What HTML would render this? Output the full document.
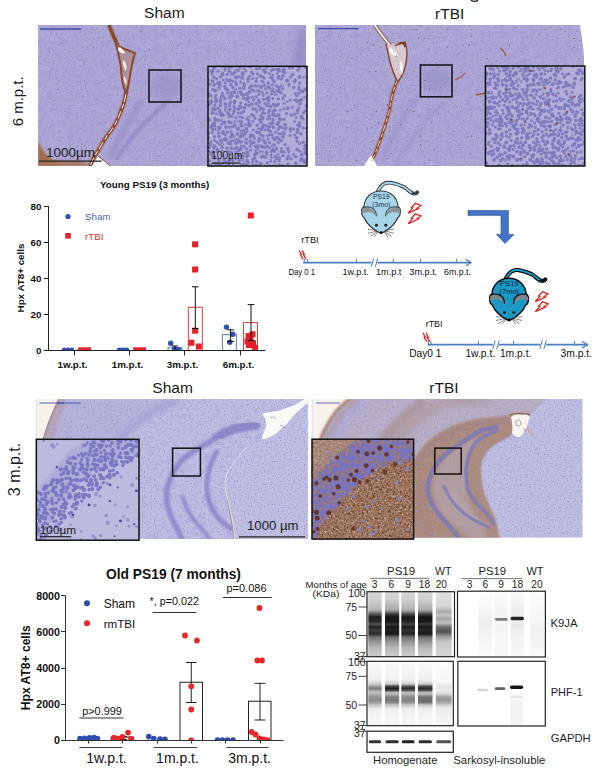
<!DOCTYPE html>
<html><head><meta charset="utf-8">
<style>
html,body{margin:0;padding:0;background:#fff;width:600px;height:775px;overflow:hidden}
svg{display:block}
text{font-family:"Liberation Sans",sans-serif}
</style></head><body>
<svg width="600" height="775" viewBox="0 0 600 775">
<rect width="600" height="775" fill="#fff"/>
<g id="histo">
<defs>
<filter id="spk" x="0" y="0" width="100%" height="100%" color-interpolation-filters="sRGB">
 <feTurbulence type="fractalNoise" baseFrequency="0.75" numOctaves="1" seed="3" result="n"/>
 <feColorMatrix in="n" type="matrix" values="0 0 0 0 0.60  0 0 0 0 0.54  0 0 0 0 0.80  4 0 0 0 -2.2"/>
 <feGaussianBlur stdDeviation="0.45"/>
</filter>
<filter id="spk2" x="0" y="0" width="100%" height="100%" color-interpolation-filters="sRGB">
 <feTurbulence type="fractalNoise" baseFrequency="0.7" numOctaves="1" seed="4" result="n"/>
 <feColorMatrix in="n" type="matrix" values="0 0 0 0 0.60  0 0 0 0 0.60  0 0 0 0 0.84  4.5 0 0 0 -2.45"/>
 <feGaussianBlur stdDeviation="0.45"/>
</filter>
<filter id="mott" x="0" y="0" width="100%" height="100%" color-interpolation-filters="sRGB">
 <feTurbulence type="fractalNoise" baseFrequency="0.15" numOctaves="2" seed="8" result="n"/>
 <feColorMatrix in="n" type="matrix" values="0 0 0 0 0.55  0 0 0 0 0.54  0 0 0 0 0.80  3 0 0 0 -1.5"/>
</filter>
<filter id="spkl" x="0" y="0" width="100%" height="100%" color-interpolation-filters="sRGB">
 <feTurbulence type="fractalNoise" baseFrequency="0.6" numOctaves="1" seed="7" result="n"/>
 <feColorMatrix in="n" type="matrix" values="0 0 0 0 0.80  0 0 0 0 0.80  0 0 0 0 0.92  8 0 0 0 -5.0"/>
</filter>
<filter id="brn" x="0" y="0" width="100%" height="100%" color-interpolation-filters="sRGB">
 <feTurbulence type="fractalNoise" baseFrequency="0.45" numOctaves="1" seed="11" result="n"/>
 <feColorMatrix in="n" type="matrix" values="0 0 0 0 0.56  0 0 0 0 0.36  0 0 0 0 0.36  14 0 0 0 -9.9"/>
</filter>
<filter id="cells" x="0" y="0" width="100%" height="100%" color-interpolation-filters="sRGB">
 <feTurbulence type="fractalNoise" baseFrequency="0.32" numOctaves="1" seed="5" result="n"/>
 <feColorMatrix in="n" type="matrix" values="0 0 0 0 0.52  0 0 0 0 0.50  0 0 0 0 0.78  9 0 0 0 -4.9"/>
</filter>
<filter id="cells2" x="0" y="0" width="100%" height="100%" color-interpolation-filters="sRGB">
 <feTurbulence type="fractalNoise" baseFrequency="0.30" numOctaves="1" seed="9" result="n"/>
 <feColorMatrix in="n" type="matrix" values="0 0 0 0 0.50  0 0 0 0 0.49  0 0 0 0 0.80  9 0 0 0 -5.0"/>
</filter>
<filter id="bcells" x="0" y="0" width="100%" height="100%" color-interpolation-filters="sRGB">
 <feTurbulence type="fractalNoise" baseFrequency="0.26" numOctaves="1" seed="13" result="n"/>
 <feColorMatrix in="n" type="matrix" values="0 0 0 0 0.42  0 0 0 0 0.42  0 0 0 0 0.78  10 0 0 0 -4.8"/>
</filter>
<filter id="bcells2" x="0" y="0" width="100%" height="100%" color-interpolation-filters="sRGB">
 <feTurbulence type="fractalNoise" baseFrequency="0.26" numOctaves="1" seed="17" result="n"/>
 <feColorMatrix in="n" type="matrix" values="0 0 0 0 0.44  0 0 0 0 0.44  0 0 0 0 0.86  10 0 0 0 -5.3"/>
</filter>
<filter id="dcells" x="0" y="0" width="100%" height="100%" color-interpolation-filters="sRGB">
 <feTurbulence type="fractalNoise" baseFrequency="0.22" numOctaves="1" seed="21" result="n"/>
 <feColorMatrix in="n" type="matrix" values="0 0 0 0 0.33  0 0 0 0 0.18  0 0 0 0 0.14  10 0 0 0 -6.0"/>
</filter>
<filter id="bmot" x="0" y="0" width="100%" height="100%" color-interpolation-filters="sRGB">
 <feTurbulence type="fractalNoise" baseFrequency="0.45" numOctaves="2" seed="31" result="n"/>
 <feColorMatrix in="n" type="matrix" values="0 0 0 0 0.42  0 0 0 0 0.25  0 0 0 0 0.17  3.2 0 0 0 -1.45"/>
 <feGaussianBlur stdDeviation="0.5"/>
</filter>
<filter id="bmotl" x="0" y="0" width="100%" height="100%" color-interpolation-filters="sRGB">
 <feTurbulence type="fractalNoise" baseFrequency="0.45" numOctaves="2" seed="37" result="n"/>
 <feColorMatrix in="n" type="matrix" values="0 0 0 0 0.82  0 0 0 0 0.74  0 0 0 0 0.74  3.5 0 0 0 -1.9"/>
 <feGaussianBlur stdDeviation="0.5"/>
</filter>
<filter id="bl1"><feGaussianBlur stdDeviation="1"/></filter>
<filter id="bl2"><feGaussianBlur stdDeviation="2"/></filter>
<filter id="bl3"><feGaussianBlur stdDeviation="3.5"/></filter>
<filter id="bl05"><feGaussianBlur stdDeviation="0.5"/></filter>
</defs>
<text x="164.3" y="18.4" font-size="15.5" text-anchor="middle" fill="#1a1a1a">Sham</text>
<text x="449.7" y="18.7" font-size="15.5" text-anchor="middle" fill="#1a1a1a">rTBI</text>
<path d="M471,0 C472,1.8 476.5,1.8 478,0" fill="none" stroke="#222" stroke-width="1.4"/>
<text transform="translate(23.2,101.3) rotate(-90)" font-size="15" text-anchor="middle" fill="#1a1a1a">6 m.p.t.</text>
<text x="172.6" y="393.4" font-size="15.5" text-anchor="middle" fill="#1a1a1a">Sham</text>
<text x="444" y="393.4" font-size="15.5" text-anchor="middle" fill="#1a1a1a">rTBI</text>
<text transform="translate(19.6,469.5) rotate(-90)" font-size="16" text-anchor="middle" fill="#1a1a1a">3 m.p.t.</text>
<clipPath id="c_ts"><rect x="38" y="25" width="268" height="141"/></clipPath>
<g clip-path="url(#c_ts)">
<rect x="38" y="25" width="268" height="141" fill="#aea8d7"/>
<rect x="38" y="25" width="268" height="141" filter="url(#mott)" opacity="0.3"/>
<path d="M299,28 C297,42 295,54 291,67 L307,67 L307,28 Z" fill="#948ec6" filter="url(#bl3)"/>
<ellipse cx="166" cy="86" rx="15" ry="13" fill="#9c98cc" filter="url(#bl3)"/>
<path d="M109,158 C118,142 128,120 142,100" fill="none" stroke="#9994cb" stroke-width="6" filter="url(#bl2)"/>
<path d="M116,160 C125,146 135,132 148,120 C156,112 162,106 170,100" fill="none" stroke="#9590c8" stroke-width="4.5" filter="url(#bl1)"/>
<path d="M188,108 C192,116 196,126 199,145" fill="none" stroke="#bab6de" stroke-width="1.5" filter="url(#bl1)"/>
<path d="M134,53 C150,40 180,36 240,38" fill="none" stroke="#bcbae0" stroke-width="1.3" opacity="0.6" filter="url(#bl1)"/>
<rect x="38" y="25" width="268" height="141" filter="url(#spk)" opacity="1"/>
<path d="M38,140 C42,152 50,160 62,166 L38,166 Z" fill="#a36a4c" filter="url(#bl1)"/>
<path d="M38,158 C55,160 70,162 80,160 L92,166 L38,166 Z" fill="#a97454" opacity="0.85" filter="url(#bl1)"/>
<path d="M109,25 C112,33 115,40 118,46 M127,86 C126,96 124,104 121,111 C117,122 112,130 108,134.4 C104,140 100,148 96.5,153 C94,157 92,161 90.3,166" fill="none" stroke="#a0684c" stroke-width="5" opacity="0.55" filter="url(#bl05)"/>
<path d="M109,25 C112,33 115,40 118,46 M127,86 C126,96 124,104 121,111 C117,122 112,130 108,134.4 C104,140 100,148 96.5,153 C94,157 92,161 90.3,166" fill="none" stroke="#8a4a2c" stroke-width="3.4" filter="url(#bl05)"/>
<path d="M127,86 C126,96 124,104 121,111 C117,122 112,130 108,134.4 C104,140 100,148 96.5,153 C94,157 92,161 90.3,166" fill="none" stroke="#ecdcd4" stroke-width="1.1" stroke-dasharray="5 3 8 2"/>
<path d="M116,44 C120,46 128,50 135,53 C133,60 131,68 130,76 C129,84 128,88 126,94 C123,86 121,76 121,68 C119,60 117,52 116,44 Z" fill="#b09098" filter="url(#bl05)"/>
<path d="M116,44 C118,52 120,60 121,68 C121,76 123,86 126,94 M118,46 C124,49 130,51 135,53 C133,60 131,68 130,76 C129,84 128,88 126,94" fill="none" stroke="#8a4a2c" stroke-width="2" filter="url(#bl05)"/>
<path d="M118,47 C121,47 124,50 125,53 C123,54 120,53 118,50 Z M123,60 C126,62 127,66 126,71 C124,69 123,65 123,60 Z M124,76 C126,78 127,81 126,85 C124,83 124,80 124,76 Z" fill="#f6f0ec"/>
<path d="M92.4,166 L97.6,156 C102,159 106,162 110,166 Z" fill="#fff"/>
<path d="M97.6,156 C102,159 106,162 110,166" fill="none" stroke="#8a4a2c" stroke-width="1"/>
<rect x="38" y="25" width="268" height="141" filter="url(#brn)" opacity="0.4"/>
</g>
<line x1="40" y1="29" x2="81" y2="29" stroke="#4050b0" stroke-width="1.3"/>
<text x="46" y="157" font-size="13.5" textLength="49" lengthAdjust="spacingAndGlyphs" fill="#1a1a1a">1000µm</text>
<line x1="39" y1="161.2" x2="101.7" y2="161.2" stroke="#222" stroke-width="1.3"/>
<clipPath id="c_tsi"><rect x="208" y="66.3" width="99" height="99.7"/></clipPath>
<g clip-path="url(#c_tsi)">
<rect x="208" y="66.3" width="99" height="99.7" fill="#b2aed9"/>
<g fill="#7c78bb" opacity="0.95"><circle cx="213.5" cy="68.2" r="1.52"/><circle cx="215.0" cy="67.5" r="1.52"/><circle cx="221.7" cy="66.8" r="1.45"/><circle cx="225.0" cy="67.8" r="1.58"/><circle cx="228.5" cy="68.0" r="1.64"/><circle cx="231.3" cy="66.9" r="1.77"/><circle cx="236.6" cy="69.7" r="1.61"/><circle cx="239.7" cy="68.0" r="1.40"/><circle cx="243.9" cy="68.4" r="1.41"/><circle cx="248.7" cy="66.5" r="1.48"/><circle cx="250.3" cy="67.2" r="1.48"/><circle cx="256.7" cy="69.1" r="1.76"/><circle cx="259.9" cy="68.3" r="1.57"/><circle cx="265.3" cy="69.0" r="1.40"/><circle cx="266.5" cy="66.6" r="1.92"/><circle cx="273.4" cy="69.5" r="1.79"/><circle cx="277.0" cy="69.4" r="1.48"/><circle cx="278.8" cy="69.4" r="1.89"/><circle cx="283.8" cy="69.7" r="1.93"/><circle cx="289.4" cy="67.7" r="1.70"/><circle cx="292.7" cy="67.8" r="1.55"/><circle cx="299.1" cy="67.2" r="1.94"/><circle cx="305.4" cy="67.6" r="1.76"/><circle cx="211.3" cy="71.6" r="1.84"/><circle cx="213.1" cy="70.9" r="1.70"/><circle cx="218.1" cy="71.2" r="1.56"/><circle cx="222.6" cy="73.2" r="1.43"/><circle cx="225.0" cy="70.2" r="1.47"/><circle cx="229.4" cy="71.3" r="1.77"/><circle cx="234.6" cy="72.4" r="1.76"/><circle cx="238.2" cy="70.4" r="1.58"/><circle cx="242.6" cy="72.6" r="1.64"/><circle cx="245.8" cy="71.0" r="1.43"/><circle cx="251.8" cy="72.6" r="1.77"/><circle cx="263.5" cy="70.2" r="1.65"/><circle cx="265.2" cy="72.2" r="1.81"/><circle cx="271.3" cy="70.2" r="1.55"/><circle cx="279.1" cy="71.2" r="1.48"/><circle cx="282.8" cy="71.5" r="1.53"/><circle cx="285.0" cy="72.8" r="1.53"/><circle cx="297.8" cy="70.1" r="1.68"/><circle cx="207.4" cy="76.8" r="1.72"/><circle cx="211.9" cy="73.9" r="1.42"/><circle cx="220.4" cy="77.0" r="1.47"/><circle cx="222.4" cy="74.5" r="1.94"/><circle cx="227.3" cy="74.3" r="1.61"/><circle cx="232.2" cy="74.0" r="1.91"/><circle cx="236.9" cy="76.8" r="1.42"/><circle cx="239.3" cy="76.7" r="1.51"/><circle cx="242.7" cy="74.0" r="1.91"/><circle cx="249.4" cy="76.2" r="1.50"/><circle cx="253.0" cy="74.2" r="1.42"/><circle cx="257.4" cy="73.9" r="1.76"/><circle cx="260.5" cy="75.9" r="1.84"/><circle cx="269.3" cy="73.6" r="1.45"/><circle cx="272.6" cy="74.8" r="1.42"/><circle cx="277.6" cy="73.6" r="1.40"/><circle cx="278.7" cy="77.0" r="1.90"/><circle cx="282.9" cy="75.9" r="1.80"/><circle cx="292.7" cy="74.5" r="1.82"/><circle cx="299.7" cy="76.5" r="1.69"/><circle cx="208.7" cy="80.3" r="1.48"/><circle cx="213.8" cy="77.1" r="1.82"/><circle cx="216.6" cy="78.8" r="1.65"/><circle cx="223.1" cy="79.9" r="1.44"/><circle cx="227.0" cy="80.0" r="1.79"/><circle cx="230.0" cy="80.3" r="1.82"/><circle cx="235.5" cy="77.1" r="1.72"/><circle cx="236.2" cy="77.8" r="1.69"/><circle cx="242.2" cy="77.9" r="1.88"/><circle cx="247.7" cy="78.9" r="1.45"/><circle cx="248.7" cy="78.9" r="1.47"/><circle cx="252.7" cy="78.7" r="1.48"/><circle cx="256.8" cy="78.4" r="1.49"/><circle cx="263.1" cy="77.2" r="1.77"/><circle cx="264.2" cy="78.1" r="1.53"/><circle cx="271.4" cy="77.5" r="1.90"/><circle cx="273.1" cy="80.0" r="1.82"/><circle cx="278.3" cy="78.2" r="1.78"/><circle cx="281.3" cy="79.0" r="1.56"/><circle cx="287.6" cy="80.4" r="1.90"/><circle cx="290.8" cy="76.9" r="1.64"/><circle cx="295.4" cy="80.0" r="1.65"/><circle cx="299.5" cy="77.6" r="1.63"/><circle cx="304.2" cy="77.5" r="1.73"/><circle cx="207.7" cy="83.7" r="1.74"/><circle cx="212.7" cy="81.1" r="1.87"/><circle cx="217.2" cy="83.2" r="1.43"/><circle cx="219.5" cy="82.9" r="1.88"/><circle cx="225.3" cy="82.9" r="1.48"/><circle cx="229.1" cy="81.0" r="1.82"/><circle cx="232.5" cy="81.2" r="1.58"/><circle cx="235.7" cy="81.9" r="1.42"/><circle cx="240.5" cy="82.1" r="1.60"/><circle cx="244.3" cy="83.8" r="1.84"/><circle cx="247.9" cy="81.4" r="1.52"/><circle cx="256.1" cy="81.4" r="1.72"/><circle cx="261.4" cy="80.9" r="1.42"/><circle cx="262.9" cy="81.8" r="1.56"/><circle cx="268.2" cy="83.0" r="1.68"/><circle cx="274.3" cy="81.7" r="1.53"/><circle cx="286.7" cy="80.4" r="1.79"/><circle cx="294.5" cy="81.6" r="1.85"/><circle cx="299.6" cy="82.9" r="1.63"/><circle cx="309.0" cy="80.6" r="1.41"/><circle cx="210.0" cy="84.2" r="1.49"/><circle cx="214.1" cy="84.8" r="1.85"/><circle cx="219.7" cy="85.5" r="1.87"/><circle cx="224.8" cy="86.5" r="1.74"/><circle cx="230.8" cy="84.8" r="1.80"/><circle cx="232.9" cy="87.3" r="1.43"/><circle cx="236.3" cy="84.4" r="1.80"/><circle cx="243.6" cy="87.0" r="1.51"/><circle cx="244.5" cy="85.2" r="1.61"/><circle cx="251.2" cy="86.0" r="1.87"/><circle cx="255.0" cy="85.7" r="1.69"/><circle cx="257.9" cy="86.2" r="1.77"/><circle cx="261.1" cy="85.9" r="1.47"/><circle cx="264.6" cy="85.4" r="1.79"/><circle cx="268.4" cy="87.1" r="1.73"/><circle cx="272.2" cy="84.9" r="1.67"/><circle cx="276.6" cy="86.1" r="1.75"/><circle cx="282.0" cy="85.8" r="1.85"/><circle cx="289.1" cy="84.9" r="1.83"/><circle cx="299.1" cy="86.9" r="1.44"/><circle cx="207.2" cy="87.5" r="1.43"/><circle cx="212.8" cy="89.6" r="1.64"/><circle cx="215.2" cy="90.2" r="1.58"/><circle cx="218.8" cy="88.5" r="1.73"/><circle cx="225.6" cy="88.4" r="1.74"/><circle cx="227.7" cy="90.0" r="1.70"/><circle cx="233.1" cy="88.0" r="1.50"/><circle cx="235.9" cy="89.3" r="1.46"/><circle cx="239.9" cy="88.3" r="1.63"/><circle cx="243.7" cy="88.0" r="1.91"/><circle cx="249.6" cy="87.9" r="1.62"/><circle cx="252.3" cy="89.8" r="1.67"/><circle cx="257.8" cy="90.7" r="1.54"/><circle cx="261.0" cy="87.4" r="1.79"/><circle cx="265.5" cy="88.8" r="1.54"/><circle cx="269.5" cy="87.9" r="1.55"/><circle cx="272.6" cy="89.2" r="1.78"/><circle cx="277.0" cy="90.7" r="1.46"/><circle cx="279.2" cy="87.8" r="1.80"/><circle cx="282.9" cy="89.1" r="1.41"/><circle cx="293.7" cy="87.5" r="1.66"/><circle cx="299.2" cy="89.4" r="1.71"/><circle cx="305.4" cy="89.5" r="1.92"/><circle cx="209.1" cy="94.3" r="1.68"/><circle cx="215.1" cy="91.1" r="1.66"/><circle cx="222.3" cy="93.3" r="1.47"/><circle cx="227.5" cy="92.9" r="1.48"/><circle cx="231.1" cy="92.8" r="1.87"/><circle cx="234.2" cy="92.3" r="1.94"/><circle cx="237.3" cy="92.6" r="1.42"/><circle cx="240.4" cy="92.1" r="1.88"/><circle cx="246.9" cy="94.2" r="1.87"/><circle cx="249.4" cy="92.1" r="1.95"/><circle cx="253.9" cy="91.0" r="1.71"/><circle cx="258.7" cy="91.3" r="1.49"/><circle cx="262.0" cy="92.2" r="1.68"/><circle cx="266.9" cy="93.0" r="1.62"/><circle cx="271.5" cy="91.2" r="1.45"/><circle cx="273.9" cy="91.9" r="1.40"/><circle cx="279.0" cy="91.0" r="1.93"/><circle cx="281.1" cy="92.9" r="1.64"/><circle cx="295.7" cy="93.8" r="1.78"/><circle cx="299.3" cy="93.0" r="1.51"/><circle cx="302.4" cy="91.2" r="1.93"/><circle cx="209.0" cy="95.7" r="1.44"/><circle cx="211.0" cy="96.0" r="1.48"/><circle cx="215.8" cy="95.5" r="1.56"/><circle cx="221.2" cy="96.5" r="1.55"/><circle cx="223.2" cy="96.0" r="1.73"/><circle cx="229.6" cy="96.1" r="1.43"/><circle cx="232.5" cy="95.8" r="1.60"/><circle cx="237.1" cy="96.5" r="1.93"/><circle cx="241.7" cy="94.3" r="1.74"/><circle cx="243.4" cy="95.0" r="1.90"/><circle cx="248.0" cy="97.7" r="1.75"/><circle cx="252.1" cy="97.1" r="1.68"/><circle cx="255.9" cy="97.1" r="1.76"/><circle cx="258.8" cy="94.7" r="1.42"/><circle cx="263.5" cy="95.5" r="1.48"/><circle cx="268.5" cy="97.4" r="1.80"/><circle cx="271.7" cy="94.3" r="1.46"/><circle cx="275.9" cy="94.3" r="1.59"/><circle cx="284.4" cy="95.8" r="1.65"/><circle cx="296.9" cy="95.5" r="1.74"/><circle cx="305.1" cy="97.2" r="1.80"/><circle cx="211.0" cy="100.8" r="1.82"/><circle cx="215.6" cy="97.9" r="1.79"/><circle cx="216.6" cy="100.6" r="1.81"/><circle cx="220.6" cy="99.7" r="1.81"/><circle cx="224.9" cy="98.5" r="1.83"/><circle cx="230.0" cy="97.7" r="1.82"/><circle cx="234.5" cy="101.2" r="1.85"/><circle cx="243.8" cy="98.1" r="1.78"/><circle cx="246.4" cy="99.1" r="1.91"/><circle cx="248.7" cy="98.0" r="1.41"/><circle cx="253.6" cy="99.7" r="1.54"/><circle cx="258.5" cy="100.0" r="1.66"/><circle cx="263.6" cy="99.3" r="1.62"/><circle cx="266.8" cy="98.7" r="1.81"/><circle cx="268.4" cy="100.5" r="1.83"/><circle cx="272.7" cy="98.5" r="1.54"/><circle cx="278.4" cy="98.9" r="1.61"/><circle cx="283.0" cy="98.8" r="1.72"/><circle cx="290.2" cy="100.1" r="1.58"/><circle cx="295.4" cy="100.2" r="1.95"/><circle cx="299.6" cy="100.2" r="1.61"/><circle cx="301.6" cy="99.7" r="1.66"/><circle cx="307.4" cy="98.1" r="1.69"/><circle cx="206.3" cy="102.4" r="1.82"/><circle cx="210.9" cy="103.0" r="1.77"/><circle cx="215.6" cy="101.8" r="1.82"/><circle cx="220.7" cy="102.1" r="1.88"/><circle cx="225.2" cy="104.1" r="1.79"/><circle cx="229.1" cy="104.4" r="1.44"/><circle cx="230.4" cy="102.2" r="1.59"/><circle cx="234.4" cy="102.8" r="1.63"/><circle cx="240.7" cy="103.0" r="1.68"/><circle cx="245.7" cy="104.5" r="1.47"/><circle cx="248.7" cy="101.7" r="1.45"/><circle cx="251.8" cy="104.2" r="1.83"/><circle cx="256.1" cy="103.7" r="1.80"/><circle cx="259.5" cy="102.1" r="1.83"/><circle cx="265.0" cy="103.6" r="1.72"/><circle cx="268.6" cy="103.6" r="1.42"/><circle cx="273.3" cy="104.3" r="1.64"/><circle cx="274.6" cy="104.5" r="1.64"/><circle cx="278.3" cy="104.2" r="1.82"/><circle cx="284.3" cy="103.6" r="1.45"/><circle cx="287.2" cy="101.6" r="1.44"/><circle cx="297.2" cy="101.4" r="1.64"/><circle cx="300.1" cy="103.7" r="1.92"/><circle cx="208.9" cy="105.0" r="1.73"/><circle cx="214.8" cy="105.3" r="1.51"/><circle cx="218.3" cy="108.1" r="1.55"/><circle cx="220.4" cy="105.5" r="1.59"/><circle cx="225.8" cy="106.5" r="1.59"/><circle cx="229.7" cy="105.8" r="1.49"/><circle cx="234.1" cy="106.5" r="1.70"/><circle cx="239.5" cy="105.8" r="1.59"/><circle cx="240.2" cy="107.2" r="1.93"/><circle cx="244.4" cy="107.7" r="1.89"/><circle cx="248.7" cy="105.5" r="1.77"/><circle cx="258.8" cy="106.0" r="1.49"/><circle cx="261.2" cy="108.1" r="1.92"/><circle cx="267.0" cy="105.9" r="1.70"/><circle cx="270.5" cy="106.7" r="1.92"/><circle cx="275.0" cy="106.1" r="1.55"/><circle cx="276.7" cy="105.6" r="1.53"/><circle cx="292.3" cy="107.4" r="1.45"/><circle cx="298.9" cy="108.0" r="1.56"/><circle cx="306.6" cy="106.0" r="1.88"/><circle cx="207.2" cy="109.4" r="1.94"/><circle cx="213.0" cy="108.9" r="1.92"/><circle cx="215.3" cy="109.3" r="1.87"/><circle cx="219.8" cy="111.1" r="1.81"/><circle cx="225.6" cy="109.8" r="1.88"/><circle cx="229.7" cy="109.5" r="1.95"/><circle cx="233.7" cy="111.3" r="1.58"/><circle cx="235.0" cy="109.0" r="1.49"/><circle cx="238.2" cy="109.2" r="1.81"/><circle cx="243.7" cy="111.6" r="1.53"/><circle cx="252.8" cy="109.0" r="1.63"/><circle cx="255.4" cy="108.9" r="1.57"/><circle cx="260.1" cy="109.4" r="1.50"/><circle cx="263.5" cy="109.1" r="1.72"/><circle cx="269.3" cy="110.5" r="1.81"/><circle cx="273.2" cy="111.4" r="1.72"/><circle cx="274.9" cy="110.3" r="1.88"/><circle cx="280.1" cy="110.1" r="1.45"/><circle cx="283.7" cy="108.7" r="1.53"/><circle cx="287.6" cy="108.1" r="1.87"/><circle cx="297.6" cy="110.4" r="1.82"/><circle cx="304.8" cy="110.8" r="1.43"/><circle cx="211.8" cy="112.8" r="1.82"/><circle cx="213.2" cy="112.9" r="1.67"/><circle cx="216.7" cy="113.7" r="1.51"/><circle cx="221.1" cy="113.7" r="1.94"/><circle cx="227.7" cy="112.9" r="1.54"/><circle cx="228.8" cy="114.3" r="1.53"/><circle cx="233.3" cy="113.8" r="1.51"/><circle cx="238.0" cy="113.1" r="1.67"/><circle cx="241.2" cy="113.0" r="1.72"/><circle cx="251.7" cy="114.7" r="1.64"/><circle cx="256.8" cy="111.8" r="1.46"/><circle cx="262.9" cy="112.6" r="1.70"/><circle cx="264.7" cy="113.4" r="1.40"/><circle cx="268.7" cy="112.9" r="1.62"/><circle cx="273.7" cy="113.9" r="1.56"/><circle cx="277.9" cy="114.9" r="1.44"/><circle cx="286.5" cy="113.4" r="1.58"/><circle cx="291.4" cy="115.1" r="1.75"/><circle cx="294.7" cy="114.1" r="1.53"/><circle cx="297.5" cy="113.3" r="1.42"/><circle cx="303.5" cy="112.8" r="1.56"/><circle cx="207.0" cy="117.7" r="1.54"/><circle cx="214.7" cy="117.9" r="1.48"/><circle cx="221.0" cy="115.3" r="1.52"/><circle cx="223.2" cy="115.1" r="1.87"/><circle cx="229.1" cy="116.6" r="1.55"/><circle cx="231.7" cy="116.4" r="1.69"/><circle cx="235.9" cy="117.6" r="1.61"/><circle cx="239.7" cy="117.0" r="1.44"/><circle cx="242.4" cy="117.7" r="1.46"/><circle cx="248.9" cy="117.4" r="1.47"/><circle cx="253.5" cy="115.8" r="1.81"/><circle cx="255.0" cy="118.5" r="1.64"/><circle cx="261.0" cy="115.6" r="1.58"/><circle cx="262.9" cy="117.6" r="1.70"/><circle cx="269.0" cy="116.4" r="1.79"/><circle cx="272.6" cy="115.0" r="1.77"/><circle cx="276.0" cy="115.5" r="1.91"/><circle cx="278.6" cy="115.0" r="1.71"/><circle cx="296.2" cy="117.6" r="1.40"/><circle cx="301.4" cy="116.7" r="1.84"/><circle cx="209.4" cy="119.8" r="1.84"/><circle cx="215.3" cy="120.0" r="1.95"/><circle cx="218.5" cy="120.2" r="1.70"/><circle cx="221.5" cy="120.3" r="1.55"/><circle cx="224.5" cy="121.9" r="1.51"/><circle cx="229.2" cy="121.9" r="1.85"/><circle cx="234.8" cy="121.4" r="1.46"/><circle cx="238.5" cy="121.2" r="1.61"/><circle cx="241.6" cy="121.7" r="1.59"/><circle cx="246.8" cy="118.7" r="1.56"/><circle cx="248.7" cy="120.6" r="1.72"/><circle cx="253.0" cy="121.5" r="1.41"/><circle cx="259.7" cy="119.4" r="1.77"/><circle cx="262.3" cy="118.9" r="1.61"/><circle cx="267.3" cy="119.1" r="1.41"/><circle cx="269.5" cy="118.7" r="1.65"/><circle cx="273.0" cy="119.8" r="1.79"/><circle cx="279.5" cy="118.9" r="1.63"/><circle cx="280.7" cy="119.6" r="1.87"/><circle cx="284.2" cy="119.2" r="1.52"/><circle cx="294.6" cy="121.6" r="1.43"/><circle cx="302.9" cy="118.9" r="1.58"/><circle cx="207.4" cy="124.6" r="1.57"/><circle cx="212.9" cy="124.6" r="1.85"/><circle cx="214.3" cy="123.4" r="1.64"/><circle cx="221.7" cy="124.1" r="1.62"/><circle cx="223.7" cy="122.9" r="1.85"/><circle cx="228.8" cy="122.0" r="1.40"/><circle cx="231.2" cy="122.7" r="1.48"/><circle cx="234.9" cy="125.3" r="1.84"/><circle cx="241.2" cy="124.8" r="1.89"/><circle cx="245.7" cy="124.8" r="1.57"/><circle cx="249.1" cy="123.5" r="1.71"/><circle cx="250.6" cy="125.1" r="1.69"/><circle cx="257.3" cy="125.3" r="1.72"/><circle cx="261.0" cy="122.1" r="1.93"/><circle cx="263.8" cy="125.3" r="1.90"/><circle cx="269.5" cy="124.5" r="1.88"/><circle cx="272.2" cy="123.1" r="1.90"/><circle cx="277.2" cy="124.1" r="1.81"/><circle cx="278.7" cy="122.4" r="1.55"/><circle cx="285.0" cy="124.6" r="1.94"/><circle cx="297.5" cy="125.2" r="1.53"/><circle cx="299.4" cy="122.8" r="1.73"/><circle cx="308.5" cy="124.4" r="1.88"/><circle cx="211.1" cy="126.8" r="1.89"/><circle cx="214.4" cy="125.6" r="1.87"/><circle cx="218.7" cy="127.1" r="1.65"/><circle cx="220.4" cy="127.8" r="1.53"/><circle cx="225.9" cy="126.9" r="1.85"/><circle cx="229.8" cy="127.3" r="1.78"/><circle cx="233.0" cy="126.6" r="1.60"/><circle cx="238.1" cy="128.5" r="1.90"/><circle cx="241.9" cy="126.5" r="1.64"/><circle cx="246.3" cy="128.7" r="1.64"/><circle cx="249.3" cy="125.7" r="1.85"/><circle cx="258.2" cy="128.5" r="1.51"/><circle cx="262.9" cy="126.9" r="1.86"/><circle cx="267.5" cy="126.2" r="1.80"/><circle cx="269.6" cy="126.9" r="1.43"/><circle cx="273.2" cy="127.3" r="1.85"/><circle cx="279.7" cy="126.9" r="1.93"/><circle cx="282.5" cy="127.7" r="1.75"/><circle cx="285.7" cy="128.1" r="1.90"/><circle cx="290.4" cy="128.8" r="1.82"/><circle cx="293.6" cy="128.9" r="1.54"/><circle cx="299.6" cy="125.9" r="1.84"/><circle cx="303.3" cy="127.9" r="1.53"/><circle cx="306.7" cy="128.7" r="1.64"/><circle cx="206.3" cy="132.3" r="1.86"/><circle cx="212.6" cy="129.6" r="1.83"/><circle cx="215.8" cy="129.0" r="1.61"/><circle cx="218.5" cy="128.9" r="1.73"/><circle cx="223.3" cy="131.7" r="1.74"/><circle cx="227.4" cy="132.3" r="1.68"/><circle cx="231.2" cy="131.6" r="1.50"/><circle cx="237.1" cy="129.2" r="1.62"/><circle cx="241.4" cy="131.3" r="1.84"/><circle cx="243.7" cy="130.9" r="1.69"/><circle cx="247.0" cy="131.5" r="1.45"/><circle cx="253.3" cy="129.9" r="1.44"/><circle cx="256.8" cy="132.2" r="1.78"/><circle cx="261.5" cy="129.2" r="1.89"/><circle cx="265.2" cy="129.7" r="1.54"/><circle cx="268.4" cy="129.9" r="1.81"/><circle cx="270.3" cy="131.0" r="1.79"/><circle cx="275.8" cy="132.0" r="1.60"/><circle cx="278.3" cy="128.9" r="1.73"/><circle cx="284.2" cy="132.0" r="1.61"/><circle cx="290.5" cy="131.3" r="1.46"/><circle cx="297.7" cy="129.7" r="1.86"/><circle cx="208.4" cy="133.1" r="1.82"/><circle cx="212.3" cy="133.0" r="1.42"/><circle cx="218.7" cy="132.9" r="1.70"/><circle cx="223.1" cy="133.0" r="1.91"/><circle cx="225.3" cy="135.0" r="1.47"/><circle cx="231.7" cy="134.6" r="1.87"/><circle cx="233.4" cy="135.9" r="1.56"/><circle cx="237.4" cy="133.9" r="1.94"/><circle cx="241.5" cy="133.2" r="1.85"/><circle cx="244.9" cy="133.9" r="1.78"/><circle cx="250.6" cy="134.9" r="1.63"/><circle cx="252.8" cy="135.7" r="1.86"/><circle cx="259.4" cy="132.4" r="1.57"/><circle cx="260.4" cy="135.0" r="1.46"/><circle cx="267.4" cy="135.5" r="1.57"/><circle cx="270.1" cy="134.6" r="1.58"/><circle cx="272.2" cy="134.9" r="1.57"/><circle cx="279.0" cy="133.7" r="1.47"/><circle cx="281.6" cy="133.8" r="1.65"/><circle cx="284.3" cy="133.6" r="1.87"/><circle cx="290.1" cy="135.4" r="1.52"/><circle cx="294.7" cy="135.1" r="1.46"/><circle cx="297.2" cy="132.4" r="1.70"/><circle cx="300.9" cy="133.8" r="1.73"/><circle cx="208.6" cy="138.0" r="1.49"/><circle cx="214.4" cy="136.7" r="1.61"/><circle cx="219.0" cy="136.6" r="1.83"/><circle cx="224.5" cy="139.1" r="1.89"/><circle cx="226.2" cy="138.7" r="1.54"/><circle cx="230.5" cy="137.2" r="1.45"/><circle cx="237.5" cy="139.0" r="1.56"/><circle cx="240.3" cy="136.8" r="1.76"/><circle cx="242.5" cy="135.9" r="1.90"/><circle cx="246.4" cy="139.1" r="1.71"/><circle cx="250.2" cy="137.1" r="1.62"/><circle cx="254.6" cy="138.1" r="1.56"/><circle cx="259.5" cy="138.9" r="1.80"/><circle cx="263.0" cy="135.9" r="1.77"/><circle cx="268.0" cy="139.1" r="1.70"/><circle cx="273.0" cy="137.8" r="1.59"/><circle cx="276.9" cy="137.4" r="1.69"/><circle cx="278.9" cy="138.9" r="1.78"/><circle cx="283.1" cy="136.8" r="1.70"/><circle cx="296.6" cy="137.8" r="1.89"/><circle cx="210.7" cy="141.8" r="1.45"/><circle cx="214.6" cy="140.6" r="1.51"/><circle cx="217.2" cy="142.2" r="1.71"/><circle cx="221.2" cy="140.8" r="1.93"/><circle cx="226.0" cy="140.0" r="1.88"/><circle cx="230.8" cy="141.4" r="1.41"/><circle cx="234.0" cy="140.4" r="1.84"/><circle cx="238.6" cy="141.7" r="1.85"/><circle cx="241.3" cy="142.1" r="1.94"/><circle cx="245.3" cy="142.1" r="1.54"/><circle cx="250.5" cy="141.2" r="1.82"/><circle cx="253.8" cy="142.6" r="1.73"/><circle cx="258.4" cy="141.5" r="1.80"/><circle cx="263.4" cy="140.2" r="1.67"/><circle cx="265.0" cy="142.6" r="1.81"/><circle cx="269.4" cy="142.5" r="1.62"/><circle cx="274.7" cy="139.7" r="1.81"/><circle cx="278.3" cy="142.5" r="1.57"/><circle cx="281.4" cy="140.6" r="1.63"/><circle cx="297.1" cy="141.5" r="1.43"/><circle cx="303.5" cy="142.3" r="1.59"/><circle cx="307.7" cy="140.5" r="1.67"/><circle cx="206.9" cy="143.6" r="1.81"/><circle cx="210.7" cy="144.1" r="1.92"/><circle cx="214.6" cy="146.0" r="1.81"/><circle cx="219.4" cy="144.5" r="1.48"/><circle cx="222.3" cy="144.3" r="1.83"/><circle cx="228.8" cy="143.3" r="1.85"/><circle cx="230.8" cy="143.7" r="1.66"/><circle cx="236.0" cy="143.5" r="1.75"/><circle cx="241.4" cy="145.8" r="1.41"/><circle cx="244.1" cy="146.2" r="1.53"/><circle cx="247.2" cy="143.4" r="1.47"/><circle cx="251.6" cy="144.1" r="1.70"/><circle cx="257.8" cy="146.2" r="1.89"/><circle cx="261.1" cy="145.9" r="1.56"/><circle cx="265.4" cy="143.3" r="1.47"/><circle cx="267.3" cy="146.2" r="1.78"/><circle cx="272.8" cy="145.3" r="1.88"/><circle cx="274.5" cy="144.9" r="1.59"/><circle cx="285.1" cy="144.6" r="1.51"/><circle cx="299.9" cy="143.2" r="1.69"/><circle cx="305.1" cy="145.7" r="1.86"/><circle cx="209.9" cy="147.3" r="1.59"/><circle cx="213.7" cy="147.9" r="1.75"/><circle cx="217.6" cy="149.4" r="1.87"/><circle cx="222.1" cy="147.5" r="1.74"/><circle cx="227.1" cy="148.2" r="1.78"/><circle cx="231.3" cy="148.1" r="1.80"/><circle cx="234.5" cy="149.0" r="1.55"/><circle cx="236.8" cy="147.5" r="1.71"/><circle cx="240.7" cy="148.9" r="1.89"/><circle cx="246.4" cy="148.8" r="1.45"/><circle cx="250.3" cy="146.3" r="1.71"/><circle cx="255.7" cy="146.4" r="1.91"/><circle cx="257.9" cy="148.8" r="1.51"/><circle cx="262.6" cy="146.7" r="1.78"/><circle cx="265.3" cy="147.4" r="1.70"/><circle cx="269.3" cy="147.7" r="1.47"/><circle cx="273.0" cy="149.5" r="1.69"/><circle cx="276.2" cy="148.9" r="1.84"/><circle cx="281.5" cy="148.6" r="1.43"/><circle cx="287.7" cy="149.1" r="1.71"/><circle cx="288.2" cy="148.3" r="1.44"/><circle cx="297.1" cy="149.5" r="1.94"/><circle cx="304.7" cy="148.9" r="1.76"/><circle cx="209.2" cy="151.4" r="1.52"/><circle cx="212.6" cy="152.2" r="1.84"/><circle cx="217.2" cy="151.5" r="1.63"/><circle cx="221.6" cy="152.4" r="1.70"/><circle cx="222.3" cy="151.0" r="1.45"/><circle cx="228.1" cy="151.5" r="1.49"/><circle cx="231.3" cy="152.7" r="1.89"/><circle cx="236.1" cy="152.4" r="1.54"/><circle cx="238.6" cy="150.4" r="1.82"/><circle cx="243.6" cy="153.1" r="1.63"/><circle cx="247.5" cy="152.2" r="1.87"/><circle cx="250.7" cy="150.0" r="1.57"/><circle cx="255.6" cy="150.6" r="1.41"/><circle cx="259.9" cy="152.1" r="1.48"/><circle cx="262.3" cy="151.8" r="1.50"/><circle cx="266.5" cy="152.3" r="1.81"/><circle cx="271.6" cy="151.1" r="1.92"/><circle cx="274.3" cy="151.5" r="1.50"/><circle cx="281.3" cy="151.5" r="1.69"/><circle cx="284.0" cy="152.3" r="1.73"/><circle cx="288.9" cy="151.8" r="1.63"/><circle cx="300.0" cy="151.3" r="1.56"/><circle cx="305.0" cy="152.8" r="1.88"/><circle cx="211.5" cy="154.1" r="1.90"/><circle cx="214.8" cy="156.6" r="1.43"/><circle cx="222.5" cy="155.2" r="1.53"/><circle cx="231.2" cy="154.4" r="1.71"/><circle cx="238.9" cy="155.2" r="1.95"/><circle cx="242.6" cy="156.6" r="1.82"/><circle cx="246.8" cy="153.8" r="1.80"/><circle cx="248.5" cy="155.4" r="1.40"/><circle cx="254.8" cy="154.5" r="1.89"/><circle cx="256.6" cy="153.4" r="1.84"/><circle cx="262.9" cy="156.4" r="1.88"/><circle cx="266.8" cy="154.2" r="1.43"/><circle cx="271.1" cy="154.7" r="1.40"/><circle cx="274.9" cy="156.2" r="1.60"/><circle cx="278.1" cy="154.5" r="1.46"/><circle cx="283.2" cy="155.6" r="1.83"/><circle cx="288.4" cy="156.2" r="1.80"/><circle cx="293.5" cy="154.6" r="1.55"/><circle cx="301.5" cy="154.8" r="1.77"/><circle cx="306.6" cy="153.5" r="1.82"/><circle cx="207.6" cy="157.6" r="1.43"/><circle cx="212.6" cy="156.6" r="1.57"/><circle cx="214.9" cy="158.2" r="1.45"/><circle cx="218.5" cy="159.9" r="1.83"/><circle cx="223.8" cy="159.6" r="1.58"/><circle cx="230.3" cy="159.4" r="1.49"/><circle cx="236.3" cy="158.2" r="1.64"/><circle cx="239.8" cy="159.6" r="1.50"/><circle cx="242.6" cy="157.5" r="1.75"/><circle cx="246.7" cy="156.7" r="1.63"/><circle cx="252.9" cy="159.4" r="1.54"/><circle cx="254.4" cy="158.4" r="1.91"/><circle cx="261.1" cy="157.0" r="1.55"/><circle cx="265.1" cy="157.0" r="1.86"/><circle cx="271.8" cy="157.4" r="1.45"/><circle cx="276.5" cy="158.2" r="1.92"/><circle cx="279.6" cy="157.8" r="1.59"/><circle cx="287.3" cy="158.8" r="1.74"/><circle cx="291.0" cy="158.7" r="1.58"/><circle cx="295.8" cy="156.8" r="1.82"/><circle cx="301.4" cy="159.1" r="1.91"/><circle cx="303.7" cy="160.0" r="1.79"/><circle cx="309.7" cy="159.6" r="1.52"/><circle cx="209.6" cy="160.5" r="1.54"/><circle cx="214.9" cy="163.3" r="1.78"/><circle cx="218.7" cy="161.4" r="1.60"/><circle cx="223.1" cy="163.3" r="1.71"/><circle cx="225.9" cy="162.2" r="1.88"/><circle cx="228.9" cy="161.9" r="1.64"/><circle cx="233.0" cy="160.4" r="1.68"/><circle cx="239.0" cy="160.3" r="1.75"/><circle cx="242.7" cy="160.5" r="1.45"/><circle cx="247.1" cy="160.6" r="1.83"/><circle cx="248.3" cy="162.6" r="1.58"/><circle cx="252.7" cy="161.8" r="1.41"/><circle cx="256.6" cy="161.5" r="1.80"/><circle cx="260.7" cy="163.5" r="1.85"/><circle cx="267.4" cy="162.8" r="1.64"/><circle cx="270.5" cy="160.8" r="1.85"/><circle cx="274.8" cy="161.6" r="1.53"/><circle cx="279.0" cy="160.5" r="1.71"/><circle cx="295.6" cy="163.4" r="1.78"/><circle cx="300.7" cy="160.5" r="1.49"/><circle cx="304.6" cy="162.3" r="1.88"/><circle cx="206.8" cy="165.6" r="1.57"/><circle cx="210.6" cy="165.1" r="1.87"/><circle cx="217.5" cy="164.3" r="1.56"/><circle cx="220.1" cy="164.8" r="1.59"/><circle cx="224.6" cy="166.0" r="1.44"/><circle cx="228.4" cy="164.2" r="1.75"/><circle cx="233.2" cy="163.7" r="1.41"/><circle cx="237.4" cy="167.0" r="1.89"/><circle cx="241.8" cy="165.1" r="1.83"/><circle cx="244.6" cy="164.3" r="1.93"/><circle cx="247.4" cy="164.9" r="1.62"/><circle cx="252.9" cy="164.8" r="1.50"/><circle cx="256.2" cy="165.2" r="1.79"/><circle cx="259.8" cy="163.9" r="1.52"/><circle cx="264.8" cy="166.2" r="1.60"/><circle cx="269.0" cy="166.0" r="1.79"/><circle cx="272.9" cy="166.1" r="1.63"/><circle cx="275.4" cy="165.8" r="1.64"/><circle cx="279.5" cy="164.6" r="1.54"/><circle cx="282.8" cy="166.0" r="1.65"/><circle cx="287.8" cy="163.8" r="1.50"/></g>
<g fill="#d8d6ee" opacity="0.6"><circle cx="205.8" cy="70.5" r="0.79"/><circle cx="237.5" cy="69.0" r="0.55"/><circle cx="249.6" cy="69.8" r="0.71"/><circle cx="265.1" cy="68.2" r="0.63"/><circle cx="308.0" cy="70.7" r="0.88"/><circle cx="255.9" cy="75.1" r="0.77"/><circle cx="263.3" cy="74.1" r="0.77"/><circle cx="265.7" cy="75.3" r="0.69"/><circle cx="272.8" cy="73.2" r="0.56"/><circle cx="279.1" cy="73.7" r="0.63"/><circle cx="289.9" cy="75.3" r="0.58"/><circle cx="294.2" cy="77.4" r="0.69"/><circle cx="304.4" cy="77.9" r="0.84"/><circle cx="208.9" cy="80.2" r="0.57"/><circle cx="224.9" cy="84.6" r="0.50"/><circle cx="245.9" cy="82.8" r="0.83"/><circle cx="259.3" cy="79.2" r="0.88"/><circle cx="284.7" cy="80.3" r="0.50"/><circle cx="218.9" cy="88.6" r="0.61"/><circle cx="235.4" cy="88.3" r="0.78"/><circle cx="244.7" cy="85.8" r="0.57"/><circle cx="258.2" cy="87.0" r="0.64"/><circle cx="270.4" cy="86.3" r="0.58"/><circle cx="272.0" cy="89.2" r="0.69"/><circle cx="282.7" cy="85.4" r="0.78"/><circle cx="291.6" cy="85.0" r="0.90"/><circle cx="305.5" cy="85.2" r="0.84"/><circle cx="207.3" cy="93.7" r="0.65"/><circle cx="217.0" cy="97.0" r="0.63"/><circle cx="236.8" cy="92.7" r="0.84"/><circle cx="245.3" cy="96.5" r="0.80"/><circle cx="252.7" cy="92.2" r="0.57"/><circle cx="288.9" cy="94.3" r="0.61"/><circle cx="296.3" cy="94.2" r="0.54"/><circle cx="305.4" cy="95.2" r="0.81"/><circle cx="208.9" cy="99.9" r="0.84"/><circle cx="221.0" cy="101.6" r="0.63"/><circle cx="233.9" cy="98.2" r="0.88"/><circle cx="238.4" cy="102.3" r="0.51"/><circle cx="255.2" cy="97.2" r="0.65"/><circle cx="274.8" cy="99.3" r="0.76"/><circle cx="284.0" cy="98.5" r="0.56"/><circle cx="287.7" cy="99.4" r="0.76"/><circle cx="294.5" cy="102.0" r="0.79"/><circle cx="305.5" cy="98.0" r="0.89"/><circle cx="207.4" cy="105.1" r="0.83"/><circle cx="238.8" cy="104.3" r="0.80"/><circle cx="268.9" cy="108.2" r="0.86"/><circle cx="280.7" cy="104.3" r="0.78"/><circle cx="301.4" cy="109.1" r="0.80"/><circle cx="304.9" cy="109.1" r="0.54"/><circle cx="210.4" cy="112.3" r="0.81"/><circle cx="217.4" cy="113.8" r="0.70"/><circle cx="226.5" cy="110.4" r="0.84"/><circle cx="276.1" cy="114.3" r="0.81"/><circle cx="297.7" cy="115.3" r="0.55"/><circle cx="207.8" cy="118.0" r="0.84"/><circle cx="213.6" cy="115.9" r="0.87"/><circle cx="221.5" cy="120.1" r="0.69"/><circle cx="230.5" cy="120.0" r="0.69"/><circle cx="238.0" cy="120.9" r="0.74"/><circle cx="248.7" cy="118.2" r="0.82"/><circle cx="268.4" cy="119.3" r="0.51"/><circle cx="286.3" cy="119.7" r="0.67"/><circle cx="304.4" cy="116.3" r="0.85"/><circle cx="223.4" cy="123.9" r="0.65"/><circle cx="241.8" cy="127.5" r="0.78"/><circle cx="252.9" cy="125.4" r="0.67"/><circle cx="258.1" cy="127.3" r="0.53"/><circle cx="268.9" cy="124.8" r="0.88"/><circle cx="284.3" cy="126.7" r="0.81"/><circle cx="217.0" cy="128.8" r="0.86"/><circle cx="235.6" cy="129.8" r="0.74"/><circle cx="241.2" cy="132.4" r="0.81"/><circle cx="250.2" cy="128.8" r="0.61"/><circle cx="254.9" cy="133.5" r="0.53"/><circle cx="265.0" cy="133.4" r="0.59"/><circle cx="271.5" cy="129.3" r="0.73"/><circle cx="281.1" cy="129.6" r="0.78"/><circle cx="285.4" cy="132.8" r="0.75"/><circle cx="292.1" cy="131.1" r="0.56"/><circle cx="306.1" cy="130.4" r="0.81"/><circle cx="210.6" cy="135.8" r="0.73"/><circle cx="237.6" cy="137.3" r="0.64"/><circle cx="283.0" cy="133.9" r="0.50"/><circle cx="287.7" cy="134.0" r="0.62"/><circle cx="300.5" cy="138.6" r="0.85"/><circle cx="208.0" cy="144.7" r="0.61"/><circle cx="217.4" cy="139.5" r="0.56"/><circle cx="222.4" cy="144.2" r="0.73"/><circle cx="233.7" cy="139.6" r="0.65"/><circle cx="242.3" cy="143.4" r="0.74"/><circle cx="247.8" cy="145.3" r="0.59"/><circle cx="257.2" cy="142.0" r="0.80"/><circle cx="273.1" cy="145.4" r="0.73"/><circle cx="292.3" cy="140.3" r="0.55"/><circle cx="299.6" cy="143.2" r="0.65"/><circle cx="211.6" cy="148.4" r="0.88"/><circle cx="218.9" cy="148.6" r="0.52"/><circle cx="233.8" cy="145.8" r="0.62"/><circle cx="251.4" cy="145.7" r="0.59"/><circle cx="299.9" cy="148.2" r="0.54"/><circle cx="208.5" cy="152.7" r="0.73"/><circle cx="215.3" cy="154.6" r="0.55"/><circle cx="222.2" cy="151.9" r="0.64"/><circle cx="244.1" cy="157.3" r="0.57"/><circle cx="247.7" cy="154.2" r="0.61"/><circle cx="261.3" cy="152.6" r="0.81"/><circle cx="272.7" cy="156.8" r="0.72"/><circle cx="283.8" cy="153.9" r="0.85"/><circle cx="291.0" cy="153.3" r="0.56"/><circle cx="217.3" cy="160.7" r="0.67"/><circle cx="242.4" cy="159.9" r="0.74"/><circle cx="249.1" cy="158.3" r="0.78"/><circle cx="259.6" cy="159.8" r="0.81"/><circle cx="269.1" cy="160.4" r="0.75"/><circle cx="272.5" cy="160.6" r="0.51"/><circle cx="282.6" cy="158.1" r="0.74"/><circle cx="303.8" cy="163.6" r="0.53"/><circle cx="210.9" cy="169.2" r="0.68"/><circle cx="217.4" cy="167.4" r="0.59"/><circle cx="224.1" cy="164.6" r="0.83"/><circle cx="227.0" cy="167.3" r="0.57"/><circle cx="236.3" cy="168.6" r="0.60"/><circle cx="244.3" cy="168.2" r="0.77"/><circle cx="257.7" cy="164.1" r="0.52"/><circle cx="273.9" cy="168.9" r="0.68"/><circle cx="279.2" cy="165.9" r="0.80"/><circle cx="293.9" cy="164.9" r="0.85"/><circle cx="307.4" cy="169.2" r="0.62"/></g>
</g>
<text x="211.2" y="158.5" font-size="10" textLength="31.2" lengthAdjust="spacingAndGlyphs" fill="#1a1a1a">100µm</text>
<line x1="211.5" y1="163.1" x2="240.7" y2="163.1" stroke="#222" stroke-width="1.2"/>
<rect x="149" y="70" width="32" height="32" fill="none" stroke="#111" stroke-width="1.5"/>
<rect x="208" y="66.3" width="99" height="99.7" fill="none" stroke="#111" stroke-width="1.5"/>
<clipPath id="c_tr"><path d="M315,25 L580,25 C582,40 584,50 584,60 L584,166 L315,166 Z"/></clipPath>
<g clip-path="url(#c_tr)">
<rect x="315" y="25" width="269" height="141" fill="#aea8d7"/>
<rect x="315" y="25" width="269" height="141" filter="url(#mott)" opacity="0.3"/>
<ellipse cx="437" cy="80" rx="15" ry="13" fill="#9c98cc" filter="url(#bl3)"/>
<path d="M382,160 C392,135 405,112 420,96" fill="none" stroke="#9c97cc" stroke-width="5" filter="url(#bl2)"/>
<path d="M395,166 C410,140 425,120 445,102" fill="none" stroke="#a09bce" stroke-width="4.5" filter="url(#bl2)"/>
<path d="M404,56 C430,44 460,38 520,40" fill="none" stroke="#bcbae0" stroke-width="1.3" opacity="0.6" filter="url(#bl1)"/>
<rect x="315" y="25" width="269" height="141" filter="url(#spk)" opacity="1"/>
<path d="M374.8,25 C380,33 387,42 395,51 M400,72 C398,78 396,84 393,92 C391,100 390,106 389,112 C385,126 380,142 374,156 C371,160 369,163 367.5,166" fill="none" stroke="#a0684c" stroke-width="4.4" opacity="0.6" filter="url(#bl05)"/>
<path d="M374.8,25 C380,33 387,42 395,51 M400,72 C398,78 396,84 393,92 C391,100 390,106 389,112 C385,126 380,142 374,156 C371,160 369,163 367.5,166" fill="none" stroke="#8a4a2c" stroke-width="2.6" filter="url(#bl05)"/>
<path d="M374.8,25 C380,33 387,42 395,51" fill="none" stroke="#f8f4f2" stroke-width="1.8"/>
<path d="M400,72 C398,78 396,84 393,92 C391,100 390,106 389,112 C385,126 380,142 374,156 C371,160 369,163 367.5,166" fill="none" stroke="#ecdcd4" stroke-width="0.9" stroke-dasharray="4 3 7 2"/>
<path d="M386,44 C392,46 398,44 405,42 C408,50 407,60 405,68 C403,74 401,78 398,82 C394,76 391,66 389,58 C388,52 387,48 386,44 Z" fill="#d6c8d0" filter="url(#bl05)"/>
<path d="M386,44 C387,48 388,52 389,58 C391,66 394,76 398,82 M395,46 C398,44 402,43 405,42 C408,50 407,60 405,68 C403,74 401,78 398,82" fill="none" stroke="#8a4a2c" stroke-width="1.5" filter="url(#bl05)"/>
<path d="M389,47 C393,49 396,52 398,56 C395,57 391,54 389,50 Z M400,60 C403,63 404,69 402,75 C400,71 399,65 400,60 Z" fill="#fbf8f6"/>
<path d="M399,44 C402,42 405,43 405,47" fill="none" stroke="#7a3a20" stroke-width="2.2"/>
<path d="M364,166 L371,155 C373,158 375,162 377,166 Z" fill="#fff"/>
<rect x="315" y="25" width="269" height="141" filter="url(#brn)" opacity="0.75"/>
<path d="M476,95 C482,94 486,93 490,92 M455,80 C460,78 463,76 465,73 M500,48 C503,50 505,53 506,56" stroke="#9c5a34" stroke-width="1.3" fill="none"/>
</g>
<line x1="318" y1="28.7" x2="358.7" y2="28.7" stroke="#4050b0" stroke-width="1.3"/>
<clipPath id="c_tri"><rect x="485.4" y="66" width="99.4" height="100"/></clipPath>
<g clip-path="url(#c_tri)">
<rect x="485.4" y="66" width="99.4" height="100" fill="#b2aed9"/>
<g fill="#7c78bb" opacity="0.95"><circle cx="483.8" cy="67.4" r="1.56"/><circle cx="490.3" cy="68.7" r="1.81"/><circle cx="493.2" cy="69.3" r="1.48"/><circle cx="497.6" cy="67.9" r="1.52"/><circle cx="502.1" cy="66.9" r="1.53"/><circle cx="504.6" cy="66.9" r="1.77"/><circle cx="507.7" cy="68.3" r="1.75"/><circle cx="513.1" cy="68.1" r="1.83"/><circle cx="518.1" cy="67.3" r="1.72"/><circle cx="521.5" cy="69.4" r="1.50"/><circle cx="525.1" cy="68.8" r="1.93"/><circle cx="527.6" cy="67.7" r="1.92"/><circle cx="533.4" cy="67.1" r="1.58"/><circle cx="538.1" cy="67.4" r="1.72"/><circle cx="542.4" cy="68.0" r="1.71"/><circle cx="545.5" cy="66.2" r="1.88"/><circle cx="551.7" cy="68.8" r="1.40"/><circle cx="556.4" cy="68.0" r="1.88"/><circle cx="560.9" cy="69.0" r="1.92"/><circle cx="573.2" cy="66.3" r="1.94"/><circle cx="578.7" cy="69.7" r="1.57"/><circle cx="486.5" cy="73.2" r="1.73"/><circle cx="493.7" cy="72.9" r="1.73"/><circle cx="499.6" cy="71.1" r="1.59"/><circle cx="503.9" cy="70.8" r="1.78"/><circle cx="505.7" cy="70.0" r="1.69"/><circle cx="510.1" cy="71.6" r="1.79"/><circle cx="515.3" cy="73.0" r="1.89"/><circle cx="520.1" cy="71.0" r="1.48"/><circle cx="524.1" cy="72.1" r="1.45"/><circle cx="526.0" cy="71.4" r="1.56"/><circle cx="529.7" cy="70.5" r="1.84"/><circle cx="533.6" cy="70.7" r="1.52"/><circle cx="539.1" cy="69.7" r="1.55"/><circle cx="544.7" cy="70.7" r="1.82"/><circle cx="548.1" cy="71.2" r="1.69"/><circle cx="550.9" cy="70.8" r="1.43"/><circle cx="555.8" cy="71.1" r="1.59"/><circle cx="557.8" cy="71.5" r="1.93"/><circle cx="576.9" cy="72.9" r="1.77"/><circle cx="580.3" cy="70.8" r="1.77"/><circle cx="582.9" cy="73.0" r="1.88"/><circle cx="486.1" cy="74.5" r="1.90"/><circle cx="490.2" cy="74.1" r="1.73"/><circle cx="494.3" cy="75.3" r="1.76"/><circle cx="498.1" cy="74.5" r="1.77"/><circle cx="506.2" cy="73.6" r="1.61"/><circle cx="509.8" cy="75.2" r="1.87"/><circle cx="513.5" cy="75.3" r="1.86"/><circle cx="516.2" cy="73.4" r="1.86"/><circle cx="522.8" cy="75.1" r="1.75"/><circle cx="526.7" cy="75.8" r="1.43"/><circle cx="529.3" cy="74.0" r="1.81"/><circle cx="534.4" cy="75.2" r="1.79"/><circle cx="536.2" cy="74.6" r="1.94"/><circle cx="541.1" cy="74.1" r="1.93"/><circle cx="544.9" cy="74.2" r="1.42"/><circle cx="554.5" cy="74.5" r="1.86"/><circle cx="556.0" cy="75.6" r="1.68"/><circle cx="562.7" cy="74.0" r="1.53"/><circle cx="567.2" cy="74.3" r="1.44"/><circle cx="569.0" cy="74.0" r="1.42"/><circle cx="578.4" cy="73.9" r="1.53"/><circle cx="485.7" cy="78.1" r="1.60"/><circle cx="490.1" cy="79.1" r="1.82"/><circle cx="493.9" cy="77.5" r="1.66"/><circle cx="498.0" cy="78.9" r="1.86"/><circle cx="505.1" cy="79.4" r="1.75"/><circle cx="507.3" cy="76.7" r="1.55"/><circle cx="510.4" cy="78.9" r="1.91"/><circle cx="518.2" cy="78.9" r="1.58"/><circle cx="524.4" cy="78.3" r="1.85"/><circle cx="527.4" cy="79.4" r="1.63"/><circle cx="533.2" cy="79.3" r="1.71"/><circle cx="536.4" cy="77.0" r="1.85"/><circle cx="540.8" cy="79.0" r="1.90"/><circle cx="544.9" cy="79.9" r="1.42"/><circle cx="546.9" cy="79.7" r="1.48"/><circle cx="550.5" cy="78.0" r="1.79"/><circle cx="555.4" cy="80.0" r="1.64"/><circle cx="564.3" cy="77.2" r="1.49"/><circle cx="575.1" cy="78.7" r="1.92"/><circle cx="581.2" cy="80.0" r="1.44"/><circle cx="582.0" cy="78.6" r="1.69"/><circle cx="486.5" cy="83.5" r="1.82"/><circle cx="489.8" cy="82.0" r="1.56"/><circle cx="495.1" cy="82.8" r="1.43"/><circle cx="498.5" cy="81.2" r="1.63"/><circle cx="502.3" cy="80.8" r="1.44"/><circle cx="506.3" cy="80.9" r="1.55"/><circle cx="509.4" cy="80.1" r="1.43"/><circle cx="512.3" cy="81.6" r="1.65"/><circle cx="516.0" cy="81.3" r="1.65"/><circle cx="521.0" cy="81.6" r="1.47"/><circle cx="526.9" cy="80.8" r="1.80"/><circle cx="533.7" cy="80.9" r="1.79"/><circle cx="538.2" cy="83.4" r="1.95"/><circle cx="542.7" cy="81.8" r="1.51"/><circle cx="545.9" cy="81.9" r="1.50"/><circle cx="549.6" cy="82.0" r="1.41"/><circle cx="554.0" cy="83.3" r="1.47"/><circle cx="559.0" cy="81.3" r="1.54"/><circle cx="560.7" cy="82.4" r="1.76"/><circle cx="565.9" cy="82.6" r="1.85"/><circle cx="586.4" cy="80.8" r="1.69"/><circle cx="488.6" cy="84.7" r="1.51"/><circle cx="489.8" cy="84.4" r="1.78"/><circle cx="496.1" cy="85.1" r="1.79"/><circle cx="497.7" cy="85.0" r="1.53"/><circle cx="502.5" cy="84.6" r="1.95"/><circle cx="506.5" cy="85.5" r="1.66"/><circle cx="511.3" cy="84.8" r="1.86"/><circle cx="514.1" cy="83.6" r="1.76"/><circle cx="518.0" cy="85.4" r="1.48"/><circle cx="527.6" cy="85.8" r="1.94"/><circle cx="530.8" cy="84.7" r="1.71"/><circle cx="533.8" cy="84.6" r="1.84"/><circle cx="539.1" cy="84.2" r="1.88"/><circle cx="543.9" cy="84.7" r="1.71"/><circle cx="547.2" cy="83.6" r="1.45"/><circle cx="552.2" cy="84.7" r="1.60"/><circle cx="553.7" cy="84.0" r="1.48"/><circle cx="557.9" cy="83.6" r="1.79"/><circle cx="566.2" cy="85.4" r="1.93"/><circle cx="569.6" cy="85.2" r="1.84"/><circle cx="574.3" cy="83.7" r="1.94"/><circle cx="485.6" cy="87.1" r="1.51"/><circle cx="494.5" cy="88.1" r="1.52"/><circle cx="496.0" cy="88.5" r="1.53"/><circle cx="506.1" cy="89.2" r="1.83"/><circle cx="509.5" cy="89.3" r="1.61"/><circle cx="513.7" cy="88.1" r="1.80"/><circle cx="516.6" cy="89.3" r="1.55"/><circle cx="522.5" cy="89.5" r="1.72"/><circle cx="527.2" cy="89.7" r="1.91"/><circle cx="534.1" cy="90.2" r="1.83"/><circle cx="535.9" cy="90.2" r="1.78"/><circle cx="539.8" cy="89.8" r="1.45"/><circle cx="543.8" cy="88.6" r="1.62"/><circle cx="550.8" cy="89.8" r="1.78"/><circle cx="558.3" cy="87.3" r="1.54"/><circle cx="563.1" cy="87.2" r="1.46"/><circle cx="573.1" cy="87.3" r="1.68"/><circle cx="585.4" cy="88.8" r="1.44"/><circle cx="488.5" cy="92.7" r="1.86"/><circle cx="492.0" cy="92.8" r="1.61"/><circle cx="499.5" cy="91.7" r="1.78"/><circle cx="503.6" cy="93.5" r="1.57"/><circle cx="506.4" cy="92.2" r="1.70"/><circle cx="510.1" cy="93.1" r="1.64"/><circle cx="515.3" cy="93.9" r="1.74"/><circle cx="519.2" cy="93.7" r="1.69"/><circle cx="524.2" cy="93.2" r="1.86"/><circle cx="526.3" cy="92.5" r="1.48"/><circle cx="532.8" cy="90.7" r="1.76"/><circle cx="536.5" cy="91.4" r="1.66"/><circle cx="542.8" cy="94.0" r="1.65"/><circle cx="547.3" cy="93.2" r="1.80"/><circle cx="550.9" cy="91.7" r="1.40"/><circle cx="557.9" cy="93.2" r="1.53"/><circle cx="565.9" cy="91.4" r="1.65"/><circle cx="572.0" cy="92.4" r="1.52"/><circle cx="485.0" cy="94.3" r="1.47"/><circle cx="489.7" cy="97.4" r="1.41"/><circle cx="493.0" cy="96.6" r="1.67"/><circle cx="499.0" cy="94.7" r="1.76"/><circle cx="500.3" cy="96.6" r="1.54"/><circle cx="505.8" cy="96.5" r="1.76"/><circle cx="510.2" cy="96.0" r="1.70"/><circle cx="512.2" cy="95.5" r="1.76"/><circle cx="518.8" cy="95.9" r="1.95"/><circle cx="521.2" cy="96.5" r="1.54"/><circle cx="526.4" cy="96.1" r="1.85"/><circle cx="530.2" cy="95.0" r="1.56"/><circle cx="531.8" cy="95.4" r="1.52"/><circle cx="536.2" cy="94.7" r="1.40"/><circle cx="540.4" cy="96.9" r="1.82"/><circle cx="546.8" cy="95.7" r="1.73"/><circle cx="548.4" cy="94.2" r="1.83"/><circle cx="553.2" cy="94.3" r="1.90"/><circle cx="556.0" cy="95.8" r="1.65"/><circle cx="566.8" cy="94.3" r="1.46"/><circle cx="570.6" cy="96.8" r="1.73"/><circle cx="572.1" cy="97.4" r="1.69"/><circle cx="579.1" cy="97.4" r="1.53"/><circle cx="580.7" cy="95.5" r="1.78"/><circle cx="585.1" cy="96.1" r="1.54"/><circle cx="486.4" cy="98.3" r="1.73"/><circle cx="492.7" cy="98.4" r="1.55"/><circle cx="496.1" cy="97.6" r="1.64"/><circle cx="503.1" cy="99.7" r="1.78"/><circle cx="507.4" cy="98.6" r="1.81"/><circle cx="512.7" cy="99.7" r="1.46"/><circle cx="516.2" cy="98.9" r="1.83"/><circle cx="518.2" cy="97.4" r="1.54"/><circle cx="523.2" cy="99.2" r="1.74"/><circle cx="527.4" cy="99.5" r="1.43"/><circle cx="534.3" cy="98.0" r="1.84"/><circle cx="543.6" cy="98.5" r="1.71"/><circle cx="547.4" cy="100.6" r="1.67"/><circle cx="549.7" cy="99.7" r="1.53"/><circle cx="559.8" cy="98.7" r="1.75"/><circle cx="563.4" cy="99.4" r="1.47"/><circle cx="572.2" cy="98.9" r="1.52"/><circle cx="579.1" cy="100.4" r="1.45"/><circle cx="581.9" cy="98.9" r="1.49"/><circle cx="489.4" cy="101.6" r="1.94"/><circle cx="494.3" cy="102.5" r="1.94"/><circle cx="497.0" cy="103.2" r="1.56"/><circle cx="499.7" cy="101.6" r="1.61"/><circle cx="505.5" cy="101.3" r="1.59"/><circle cx="509.8" cy="102.2" r="1.42"/><circle cx="517.1" cy="102.3" r="1.52"/><circle cx="520.5" cy="103.0" r="1.50"/><circle cx="524.0" cy="103.2" r="1.54"/><circle cx="529.3" cy="102.9" r="1.90"/><circle cx="533.0" cy="103.3" r="1.58"/><circle cx="537.4" cy="101.3" r="1.58"/><circle cx="541.0" cy="103.5" r="1.71"/><circle cx="545.0" cy="102.5" r="1.47"/><circle cx="548.0" cy="102.9" r="1.90"/><circle cx="553.2" cy="101.5" r="1.45"/><circle cx="556.6" cy="100.9" r="1.60"/><circle cx="560.8" cy="101.1" r="1.41"/><circle cx="565.1" cy="104.4" r="1.58"/><circle cx="568.9" cy="101.0" r="1.92"/><circle cx="572.3" cy="103.0" r="1.74"/><circle cx="577.3" cy="103.9" r="1.51"/><circle cx="580.1" cy="101.9" r="1.91"/><circle cx="584.2" cy="100.9" r="1.46"/><circle cx="487.7" cy="107.5" r="1.77"/><circle cx="490.4" cy="106.8" r="1.78"/><circle cx="494.4" cy="106.9" r="1.48"/><circle cx="499.1" cy="105.7" r="1.48"/><circle cx="504.1" cy="105.3" r="1.48"/><circle cx="508.1" cy="107.0" r="1.49"/><circle cx="512.2" cy="106.9" r="1.80"/><circle cx="518.2" cy="105.9" r="1.79"/><circle cx="522.5" cy="105.8" r="1.49"/><circle cx="527.1" cy="104.6" r="1.72"/><circle cx="530.7" cy="106.7" r="1.65"/><circle cx="536.3" cy="104.5" r="1.58"/><circle cx="540.1" cy="105.7" r="1.51"/><circle cx="545.9" cy="104.4" r="1.63"/><circle cx="549.6" cy="106.1" r="1.70"/><circle cx="555.8" cy="106.4" r="1.79"/><circle cx="560.0" cy="107.6" r="1.84"/><circle cx="565.2" cy="105.4" r="1.85"/><circle cx="568.4" cy="105.9" r="1.84"/><circle cx="572.4" cy="104.9" r="1.44"/><circle cx="575.3" cy="105.3" r="1.86"/><circle cx="578.7" cy="105.1" r="1.70"/><circle cx="487.1" cy="108.4" r="1.83"/><circle cx="489.1" cy="109.3" r="1.58"/><circle cx="492.3" cy="108.5" r="1.81"/><circle cx="495.8" cy="111.0" r="1.77"/><circle cx="502.2" cy="110.3" r="1.63"/><circle cx="507.2" cy="107.8" r="1.88"/><circle cx="508.7" cy="109.4" r="1.80"/><circle cx="515.1" cy="108.2" r="1.72"/><circle cx="517.5" cy="108.8" r="1.82"/><circle cx="522.6" cy="109.3" r="1.48"/><circle cx="526.5" cy="111.0" r="1.67"/><circle cx="528.6" cy="108.2" r="1.66"/><circle cx="532.9" cy="109.3" r="1.44"/><circle cx="538.6" cy="108.6" r="1.87"/><circle cx="541.4" cy="110.2" r="1.70"/><circle cx="544.6" cy="110.7" r="1.93"/><circle cx="548.5" cy="110.9" r="1.57"/><circle cx="551.7" cy="109.6" r="1.76"/><circle cx="558.6" cy="108.5" r="1.52"/><circle cx="560.9" cy="108.4" r="1.43"/><circle cx="564.4" cy="108.5" r="1.69"/><circle cx="570.6" cy="109.2" r="1.75"/><circle cx="581.6" cy="109.7" r="1.45"/><circle cx="585.4" cy="111.3" r="1.50"/><circle cx="487.8" cy="112.5" r="1.89"/><circle cx="490.4" cy="113.4" r="1.52"/><circle cx="495.5" cy="111.7" r="1.64"/><circle cx="497.6" cy="113.2" r="1.43"/><circle cx="503.4" cy="113.6" r="1.61"/><circle cx="508.6" cy="111.5" r="1.72"/><circle cx="510.5" cy="113.9" r="1.56"/><circle cx="517.2" cy="111.3" r="1.41"/><circle cx="519.1" cy="111.4" r="1.69"/><circle cx="521.9" cy="113.8" r="1.54"/><circle cx="526.6" cy="112.5" r="1.86"/><circle cx="531.0" cy="113.7" r="1.85"/><circle cx="534.5" cy="114.0" r="1.67"/><circle cx="540.7" cy="112.5" r="1.48"/><circle cx="543.3" cy="111.4" r="1.86"/><circle cx="548.8" cy="111.9" r="1.66"/><circle cx="552.0" cy="114.5" r="1.91"/><circle cx="558.8" cy="113.3" r="1.55"/><circle cx="564.3" cy="114.3" r="1.65"/><circle cx="566.0" cy="113.3" r="1.65"/><circle cx="572.6" cy="111.6" r="1.91"/><circle cx="576.7" cy="112.0" r="1.65"/><circle cx="577.9" cy="112.2" r="1.52"/><circle cx="582.9" cy="113.7" r="1.91"/><circle cx="486.8" cy="115.1" r="1.43"/><circle cx="489.7" cy="118.1" r="1.67"/><circle cx="492.6" cy="116.3" r="1.53"/><circle cx="495.8" cy="115.2" r="1.47"/><circle cx="500.4" cy="116.7" r="1.85"/><circle cx="505.9" cy="117.2" r="1.72"/><circle cx="507.8" cy="115.2" r="1.84"/><circle cx="512.3" cy="115.9" r="1.78"/><circle cx="518.0" cy="115.7" r="1.48"/><circle cx="519.8" cy="114.9" r="1.60"/><circle cx="528.4" cy="115.8" r="1.46"/><circle cx="535.1" cy="115.9" r="1.48"/><circle cx="537.7" cy="118.2" r="1.65"/><circle cx="540.1" cy="114.7" r="1.69"/><circle cx="545.9" cy="117.5" r="1.86"/><circle cx="549.7" cy="118.2" r="1.49"/><circle cx="553.2" cy="115.9" r="1.76"/><circle cx="556.5" cy="118.1" r="1.66"/><circle cx="560.7" cy="116.7" r="1.73"/><circle cx="566.5" cy="118.1" r="1.94"/><circle cx="568.2" cy="118.0" r="1.73"/><circle cx="574.9" cy="115.0" r="1.80"/><circle cx="575.6" cy="116.5" r="1.49"/><circle cx="581.0" cy="118.1" r="1.61"/><circle cx="584.4" cy="115.0" r="1.43"/><circle cx="487.6" cy="118.8" r="1.48"/><circle cx="491.2" cy="120.5" r="1.74"/><circle cx="496.3" cy="120.0" r="1.85"/><circle cx="499.7" cy="119.4" r="1.82"/><circle cx="501.7" cy="120.0" r="1.86"/><circle cx="507.5" cy="118.7" r="1.82"/><circle cx="511.0" cy="118.9" r="1.74"/><circle cx="516.2" cy="120.9" r="1.89"/><circle cx="519.1" cy="118.4" r="1.66"/><circle cx="523.1" cy="119.0" r="1.82"/><circle cx="527.1" cy="118.5" r="1.56"/><circle cx="531.6" cy="120.7" r="1.49"/><circle cx="537.1" cy="119.9" r="1.76"/><circle cx="538.8" cy="119.3" r="1.48"/><circle cx="543.3" cy="121.7" r="1.74"/><circle cx="545.6" cy="121.6" r="1.50"/><circle cx="551.8" cy="121.5" r="1.68"/><circle cx="556.9" cy="119.6" r="1.94"/><circle cx="560.0" cy="119.7" r="1.53"/><circle cx="561.9" cy="119.5" r="1.95"/><circle cx="568.9" cy="121.4" r="1.77"/><circle cx="570.1" cy="119.4" r="1.75"/><circle cx="575.8" cy="120.4" r="1.72"/><circle cx="579.7" cy="120.1" r="1.82"/><circle cx="581.8" cy="120.6" r="1.80"/><circle cx="486.1" cy="122.4" r="1.54"/><circle cx="487.9" cy="123.1" r="1.89"/><circle cx="493.1" cy="121.7" r="1.67"/><circle cx="498.8" cy="122.1" r="1.66"/><circle cx="501.6" cy="122.2" r="1.75"/><circle cx="505.1" cy="123.6" r="1.53"/><circle cx="509.6" cy="122.5" r="1.94"/><circle cx="512.2" cy="122.0" r="1.46"/><circle cx="515.8" cy="124.5" r="1.80"/><circle cx="521.0" cy="125.1" r="1.59"/><circle cx="525.2" cy="121.8" r="1.83"/><circle cx="529.6" cy="124.7" r="1.76"/><circle cx="534.7" cy="122.9" r="1.75"/><circle cx="539.1" cy="121.9" r="1.59"/><circle cx="541.3" cy="122.8" r="1.42"/><circle cx="544.4" cy="122.3" r="1.82"/><circle cx="548.5" cy="121.9" r="1.45"/><circle cx="555.1" cy="124.6" r="1.59"/><circle cx="560.1" cy="122.5" r="1.82"/><circle cx="567.1" cy="122.4" r="1.70"/><circle cx="569.0" cy="121.9" r="1.85"/><circle cx="574.5" cy="124.9" r="1.65"/><circle cx="578.7" cy="124.4" r="1.84"/><circle cx="581.4" cy="122.7" r="1.91"/><circle cx="586.7" cy="125.0" r="1.60"/><circle cx="487.3" cy="126.4" r="1.68"/><circle cx="492.3" cy="125.1" r="1.50"/><circle cx="495.3" cy="127.0" r="1.54"/><circle cx="499.6" cy="125.3" r="1.73"/><circle cx="502.3" cy="125.8" r="1.53"/><circle cx="506.6" cy="126.0" r="1.58"/><circle cx="512.5" cy="125.8" r="1.94"/><circle cx="514.0" cy="126.9" r="1.55"/><circle cx="522.6" cy="128.4" r="1.75"/><circle cx="528.7" cy="127.6" r="1.60"/><circle cx="531.7" cy="126.2" r="1.50"/><circle cx="535.3" cy="127.4" r="1.47"/><circle cx="541.2" cy="125.5" r="1.46"/><circle cx="544.4" cy="126.2" r="1.87"/><circle cx="549.1" cy="126.1" r="1.81"/><circle cx="550.1" cy="126.5" r="1.91"/><circle cx="561.0" cy="127.8" r="1.45"/><circle cx="563.1" cy="125.2" r="1.60"/><circle cx="567.8" cy="127.4" r="1.74"/><circle cx="571.9" cy="128.6" r="1.80"/><circle cx="575.2" cy="127.9" r="1.63"/><circle cx="580.2" cy="128.2" r="1.50"/><circle cx="582.6" cy="125.2" r="1.72"/><circle cx="484.6" cy="130.0" r="1.60"/><circle cx="489.5" cy="129.7" r="1.81"/><circle cx="498.4" cy="129.2" r="1.48"/><circle cx="499.8" cy="129.1" r="1.92"/><circle cx="509.7" cy="129.8" r="1.79"/><circle cx="515.1" cy="128.9" r="1.67"/><circle cx="517.5" cy="129.6" r="1.85"/><circle cx="523.0" cy="128.9" r="1.46"/><circle cx="524.1" cy="130.6" r="1.76"/><circle cx="534.7" cy="131.3" r="1.81"/><circle cx="538.1" cy="129.8" r="1.80"/><circle cx="542.0" cy="131.6" r="1.67"/><circle cx="546.1" cy="129.7" r="1.66"/><circle cx="550.2" cy="130.2" r="1.44"/><circle cx="553.4" cy="131.3" r="1.67"/><circle cx="555.9" cy="129.8" r="1.45"/><circle cx="560.3" cy="130.5" r="1.90"/><circle cx="565.3" cy="132.0" r="1.53"/><circle cx="572.5" cy="129.7" r="1.63"/><circle cx="576.2" cy="131.7" r="1.85"/><circle cx="583.0" cy="131.0" r="1.81"/><circle cx="584.0" cy="129.6" r="1.67"/><circle cx="486.0" cy="133.3" r="1.63"/><circle cx="489.9" cy="133.5" r="1.94"/><circle cx="495.9" cy="135.2" r="1.83"/><circle cx="501.2" cy="135.1" r="1.58"/><circle cx="502.1" cy="133.5" r="1.53"/><circle cx="506.3" cy="132.0" r="1.83"/><circle cx="510.7" cy="133.8" r="1.65"/><circle cx="516.4" cy="133.6" r="1.87"/><circle cx="517.6" cy="132.7" r="1.92"/><circle cx="522.7" cy="132.5" r="1.92"/><circle cx="527.2" cy="134.2" r="1.94"/><circle cx="530.3" cy="132.7" r="1.67"/><circle cx="533.8" cy="134.8" r="1.53"/><circle cx="538.0" cy="134.3" r="1.66"/><circle cx="543.6" cy="135.4" r="1.66"/><circle cx="546.3" cy="134.0" r="1.44"/><circle cx="551.4" cy="134.7" r="1.84"/><circle cx="554.0" cy="134.3" r="1.78"/><circle cx="558.3" cy="133.8" r="1.82"/><circle cx="562.4" cy="134.0" r="1.70"/><circle cx="566.8" cy="132.1" r="1.66"/><circle cx="572.8" cy="135.1" r="1.42"/><circle cx="576.0" cy="133.9" r="1.55"/><circle cx="579.7" cy="133.0" r="1.93"/><circle cx="581.8" cy="134.9" r="1.70"/><circle cx="484.5" cy="135.8" r="1.80"/><circle cx="497.0" cy="136.5" r="1.94"/><circle cx="502.7" cy="136.6" r="1.42"/><circle cx="506.4" cy="136.1" r="1.70"/><circle cx="509.3" cy="137.1" r="1.80"/><circle cx="517.0" cy="138.9" r="1.90"/><circle cx="521.8" cy="137.9" r="1.79"/><circle cx="526.7" cy="136.2" r="1.79"/><circle cx="528.4" cy="138.1" r="1.80"/><circle cx="532.3" cy="136.6" r="1.63"/><circle cx="536.9" cy="138.6" r="1.58"/><circle cx="542.0" cy="137.6" r="1.61"/><circle cx="548.3" cy="135.8" r="1.84"/><circle cx="554.4" cy="138.3" r="1.46"/><circle cx="558.1" cy="135.6" r="1.80"/><circle cx="561.7" cy="137.5" r="1.69"/><circle cx="566.2" cy="136.2" r="1.74"/><circle cx="570.7" cy="138.3" r="1.68"/><circle cx="573.3" cy="138.5" r="1.54"/><circle cx="578.4" cy="137.4" r="1.42"/><circle cx="579.8" cy="138.9" r="1.71"/><circle cx="585.1" cy="137.8" r="1.83"/><circle cx="489.0" cy="142.5" r="1.75"/><circle cx="493.1" cy="139.1" r="1.77"/><circle cx="495.6" cy="139.7" r="1.62"/><circle cx="500.7" cy="139.2" r="1.70"/><circle cx="506.1" cy="142.5" r="1.88"/><circle cx="511.1" cy="140.6" r="1.52"/><circle cx="515.3" cy="142.3" r="1.77"/><circle cx="521.1" cy="142.5" r="1.47"/><circle cx="525.1" cy="142.4" r="1.58"/><circle cx="526.9" cy="139.0" r="1.62"/><circle cx="536.8" cy="141.6" r="1.49"/><circle cx="538.8" cy="141.9" r="1.66"/><circle cx="543.2" cy="140.9" r="1.84"/><circle cx="547.3" cy="141.3" r="1.65"/><circle cx="553.1" cy="140.9" r="1.74"/><circle cx="554.5" cy="139.3" r="1.66"/><circle cx="558.9" cy="141.2" r="1.94"/><circle cx="564.4" cy="141.2" r="1.59"/><circle cx="568.0" cy="139.0" r="1.86"/><circle cx="576.6" cy="140.3" r="1.93"/><circle cx="580.2" cy="139.5" r="1.77"/><circle cx="584.4" cy="141.3" r="1.75"/><circle cx="488.4" cy="144.3" r="1.50"/><circle cx="494.7" cy="142.7" r="1.41"/><circle cx="498.2" cy="143.0" r="1.85"/><circle cx="500.3" cy="144.9" r="1.62"/><circle cx="504.2" cy="145.8" r="1.57"/><circle cx="510.5" cy="146.0" r="1.83"/><circle cx="513.8" cy="145.7" r="1.65"/><circle cx="518.1" cy="143.0" r="1.70"/><circle cx="522.9" cy="145.2" r="1.86"/><circle cx="525.6" cy="142.7" r="1.46"/><circle cx="529.4" cy="145.8" r="1.83"/><circle cx="533.7" cy="142.6" r="1.50"/><circle cx="536.0" cy="145.0" r="1.88"/><circle cx="539.8" cy="145.9" r="1.68"/><circle cx="545.3" cy="144.4" r="1.82"/><circle cx="547.9" cy="142.5" r="1.41"/><circle cx="552.7" cy="144.3" r="1.77"/><circle cx="557.8" cy="143.1" r="1.55"/><circle cx="560.8" cy="144.9" r="1.79"/><circle cx="564.1" cy="143.6" r="1.66"/><circle cx="574.4" cy="143.9" r="1.86"/><circle cx="578.7" cy="145.7" r="1.91"/><circle cx="581.8" cy="144.9" r="1.65"/><circle cx="584.7" cy="142.7" r="1.83"/><circle cx="485.6" cy="149.0" r="1.47"/><circle cx="491.4" cy="146.2" r="1.55"/><circle cx="496.3" cy="148.2" r="1.76"/><circle cx="498.8" cy="148.8" r="1.46"/><circle cx="504.2" cy="147.3" r="1.68"/><circle cx="507.7" cy="148.8" r="1.43"/><circle cx="509.7" cy="148.2" r="1.44"/><circle cx="514.4" cy="148.5" r="1.49"/><circle cx="519.1" cy="147.1" r="1.88"/><circle cx="522.3" cy="148.5" r="1.79"/><circle cx="529.1" cy="147.0" r="1.42"/><circle cx="530.2" cy="147.7" r="1.82"/><circle cx="534.1" cy="147.2" r="1.46"/><circle cx="539.0" cy="148.7" r="1.66"/><circle cx="542.5" cy="149.1" r="1.61"/><circle cx="546.6" cy="149.0" r="1.82"/><circle cx="553.2" cy="147.6" r="1.66"/><circle cx="554.9" cy="147.4" r="1.88"/><circle cx="559.0" cy="148.5" r="1.92"/><circle cx="562.6" cy="147.1" r="1.56"/><circle cx="568.1" cy="148.1" r="1.51"/><circle cx="572.2" cy="145.9" r="1.68"/><circle cx="576.2" cy="148.1" r="1.42"/><circle cx="578.7" cy="146.2" r="1.75"/><circle cx="484.7" cy="152.3" r="1.74"/><circle cx="490.4" cy="151.4" r="1.45"/><circle cx="492.9" cy="150.6" r="1.64"/><circle cx="497.8" cy="150.5" r="1.78"/><circle cx="505.2" cy="152.6" r="1.72"/><circle cx="509.4" cy="150.5" r="1.62"/><circle cx="513.1" cy="149.4" r="1.57"/><circle cx="517.1" cy="151.9" r="1.83"/><circle cx="521.1" cy="152.5" r="1.94"/><circle cx="524.3" cy="151.5" r="1.89"/><circle cx="529.9" cy="150.0" r="1.91"/><circle cx="534.3" cy="149.7" r="1.88"/><circle cx="538.1" cy="151.9" r="1.67"/><circle cx="540.9" cy="150.5" r="1.95"/><circle cx="543.9" cy="152.6" r="1.61"/><circle cx="549.4" cy="152.4" r="1.45"/><circle cx="553.8" cy="152.4" r="1.84"/><circle cx="557.9" cy="149.7" r="1.95"/><circle cx="562.9" cy="151.2" r="1.46"/><circle cx="565.7" cy="150.0" r="1.76"/><circle cx="570.2" cy="151.4" r="1.42"/><circle cx="573.5" cy="151.0" r="1.77"/><circle cx="577.3" cy="152.5" r="1.42"/><circle cx="581.0" cy="151.8" r="1.62"/><circle cx="585.5" cy="150.4" r="1.84"/><circle cx="488.4" cy="153.1" r="1.82"/><circle cx="491.6" cy="154.7" r="1.88"/><circle cx="493.9" cy="153.8" r="1.66"/><circle cx="499.7" cy="154.9" r="1.88"/><circle cx="502.2" cy="154.8" r="1.45"/><circle cx="507.9" cy="156.2" r="1.76"/><circle cx="510.5" cy="155.4" r="1.49"/><circle cx="520.5" cy="154.8" r="1.63"/><circle cx="524.9" cy="156.3" r="1.50"/><circle cx="527.6" cy="153.6" r="1.84"/><circle cx="532.2" cy="155.3" r="1.89"/><circle cx="533.9" cy="154.8" r="1.53"/><circle cx="541.0" cy="154.3" r="1.47"/><circle cx="544.7" cy="153.0" r="1.62"/><circle cx="546.3" cy="153.5" r="1.88"/><circle cx="551.7" cy="153.4" r="1.80"/><circle cx="554.3" cy="155.9" r="1.90"/><circle cx="560.2" cy="156.2" r="1.67"/><circle cx="564.2" cy="153.2" r="1.41"/><circle cx="568.8" cy="154.6" r="1.53"/><circle cx="570.3" cy="155.8" r="1.79"/><circle cx="575.4" cy="155.7" r="1.70"/><circle cx="494.2" cy="159.5" r="1.77"/><circle cx="497.1" cy="157.3" r="1.92"/><circle cx="502.4" cy="158.7" r="1.65"/><circle cx="506.8" cy="156.3" r="1.52"/><circle cx="509.2" cy="158.8" r="1.95"/><circle cx="513.4" cy="156.5" r="1.89"/><circle cx="518.5" cy="159.3" r="1.43"/><circle cx="520.1" cy="159.2" r="1.40"/><circle cx="524.6" cy="156.5" r="1.61"/><circle cx="530.2" cy="159.5" r="1.91"/><circle cx="532.7" cy="157.1" r="1.74"/><circle cx="537.5" cy="159.3" r="1.93"/><circle cx="542.0" cy="159.0" r="1.93"/><circle cx="546.1" cy="157.0" r="1.88"/><circle cx="549.6" cy="158.8" r="1.69"/><circle cx="551.9" cy="157.0" r="1.71"/><circle cx="556.8" cy="157.7" r="1.67"/><circle cx="559.9" cy="159.0" r="1.86"/><circle cx="565.8" cy="156.6" r="1.64"/><circle cx="571.1" cy="157.6" r="1.56"/><circle cx="574.1" cy="159.3" r="1.88"/><circle cx="578.8" cy="158.9" r="1.63"/><circle cx="581.9" cy="158.2" r="1.93"/><circle cx="585.2" cy="159.4" r="1.41"/><circle cx="486.2" cy="162.7" r="1.87"/><circle cx="494.0" cy="160.5" r="1.49"/><circle cx="500.6" cy="160.5" r="1.91"/><circle cx="505.0" cy="160.1" r="1.76"/><circle cx="516.9" cy="160.0" r="1.95"/><circle cx="520.8" cy="159.8" r="1.76"/><circle cx="527.0" cy="162.7" r="1.47"/><circle cx="533.0" cy="161.4" r="1.70"/><circle cx="536.7" cy="161.6" r="1.89"/><circle cx="539.7" cy="162.2" r="1.65"/><circle cx="542.7" cy="162.5" r="1.89"/><circle cx="546.3" cy="162.8" r="1.52"/><circle cx="552.1" cy="160.8" r="1.73"/><circle cx="553.8" cy="162.8" r="1.95"/><circle cx="560.1" cy="160.6" r="1.94"/><circle cx="562.8" cy="160.2" r="1.94"/><circle cx="567.5" cy="159.8" r="1.70"/><circle cx="571.6" cy="160.6" r="1.79"/><circle cx="573.9" cy="162.4" r="1.79"/><circle cx="584.1" cy="163.3" r="1.70"/><circle cx="487.0" cy="165.9" r="1.88"/><circle cx="493.6" cy="166.8" r="1.81"/><circle cx="499.1" cy="165.1" r="1.70"/><circle cx="504.8" cy="166.3" r="1.55"/><circle cx="507.6" cy="163.7" r="1.56"/><circle cx="512.2" cy="165.3" r="1.67"/><circle cx="517.8" cy="166.0" r="1.78"/><circle cx="523.0" cy="164.8" r="1.46"/><circle cx="526.7" cy="164.5" r="1.71"/><circle cx="528.0" cy="166.3" r="1.73"/><circle cx="534.9" cy="163.9" r="1.48"/><circle cx="537.4" cy="166.1" r="1.81"/><circle cx="540.6" cy="163.5" r="1.64"/><circle cx="546.9" cy="163.8" r="1.40"/><circle cx="549.2" cy="163.7" r="1.51"/><circle cx="555.2" cy="164.2" r="1.69"/><circle cx="558.7" cy="163.8" r="1.72"/><circle cx="561.9" cy="165.0" r="1.64"/><circle cx="564.9" cy="166.0" r="1.74"/><circle cx="570.5" cy="164.1" r="1.76"/><circle cx="575.1" cy="166.0" r="1.75"/><circle cx="578.7" cy="165.4" r="1.57"/><circle cx="581.4" cy="165.9" r="1.82"/><circle cx="585.0" cy="163.4" r="1.52"/></g>
<g fill="#d8d6ee" opacity="0.6"><circle cx="487.1" cy="70.4" r="0.58"/><circle cx="493.5" cy="72.5" r="0.84"/><circle cx="496.5" cy="69.7" r="0.70"/><circle cx="515.7" cy="68.4" r="0.69"/><circle cx="521.8" cy="70.8" r="0.60"/><circle cx="543.7" cy="71.2" r="0.60"/><circle cx="546.4" cy="72.1" r="0.55"/><circle cx="553.6" cy="71.3" r="0.89"/><circle cx="561.2" cy="70.4" r="0.62"/><circle cx="571.7" cy="72.6" r="0.64"/><circle cx="573.6" cy="67.6" r="0.71"/><circle cx="583.9" cy="68.6" r="0.72"/><circle cx="507.4" cy="78.2" r="0.85"/><circle cx="518.0" cy="78.4" r="0.76"/><circle cx="526.7" cy="73.2" r="0.72"/><circle cx="528.6" cy="72.8" r="0.64"/><circle cx="549.7" cy="72.5" r="0.76"/><circle cx="561.8" cy="75.5" r="0.58"/><circle cx="567.0" cy="77.4" r="0.69"/><circle cx="579.9" cy="77.4" r="0.77"/><circle cx="485.2" cy="82.3" r="0.68"/><circle cx="514.6" cy="81.7" r="0.85"/><circle cx="520.8" cy="81.5" r="0.56"/><circle cx="536.1" cy="81.3" r="0.72"/><circle cx="564.3" cy="80.8" r="0.69"/><circle cx="584.9" cy="82.1" r="0.87"/><circle cx="490.1" cy="88.5" r="0.58"/><circle cx="494.0" cy="90.3" r="0.78"/><circle cx="504.1" cy="89.7" r="0.58"/><circle cx="516.2" cy="84.7" r="0.81"/><circle cx="523.3" cy="85.4" r="0.52"/><circle cx="543.8" cy="88.9" r="0.80"/><circle cx="493.1" cy="92.7" r="0.75"/><circle cx="514.0" cy="94.0" r="0.80"/><circle cx="535.4" cy="91.7" r="0.60"/><circle cx="541.9" cy="93.7" r="0.88"/><circle cx="545.7" cy="95.9" r="0.82"/><circle cx="557.4" cy="95.0" r="0.71"/><circle cx="560.5" cy="92.3" r="0.65"/><circle cx="571.9" cy="95.1" r="0.64"/><circle cx="489.8" cy="96.8" r="0.55"/><circle cx="510.9" cy="98.5" r="0.55"/><circle cx="522.1" cy="99.7" r="0.52"/><circle cx="560.7" cy="102.1" r="0.53"/><circle cx="577.4" cy="102.1" r="0.71"/><circle cx="487.5" cy="103.2" r="0.65"/><circle cx="493.7" cy="104.6" r="0.58"/><circle cx="518.2" cy="105.9" r="0.57"/><circle cx="539.2" cy="107.3" r="0.60"/><circle cx="560.4" cy="104.4" r="0.89"/><circle cx="566.8" cy="108.1" r="0.84"/><circle cx="485.9" cy="112.6" r="0.56"/><circle cx="495.7" cy="110.7" r="0.75"/><circle cx="500.5" cy="111.7" r="0.86"/><circle cx="512.7" cy="110.5" r="0.68"/><circle cx="533.2" cy="111.4" r="0.78"/><circle cx="535.9" cy="113.3" r="0.73"/><circle cx="542.3" cy="112.5" r="0.52"/><circle cx="564.2" cy="113.1" r="0.56"/><circle cx="581.2" cy="112.4" r="0.85"/><circle cx="485.6" cy="117.9" r="0.80"/><circle cx="507.6" cy="117.3" r="0.87"/><circle cx="512.8" cy="119.4" r="0.54"/><circle cx="528.1" cy="115.8" r="0.71"/><circle cx="534.8" cy="121.0" r="0.78"/><circle cx="563.7" cy="116.5" r="0.58"/><circle cx="568.5" cy="120.9" r="0.76"/><circle cx="579.5" cy="115.8" r="0.88"/><circle cx="491.9" cy="121.5" r="0.85"/><circle cx="511.6" cy="125.4" r="0.73"/><circle cx="537.4" cy="122.9" r="0.84"/><circle cx="554.4" cy="121.2" r="0.72"/><circle cx="559.6" cy="121.9" r="0.64"/><circle cx="580.9" cy="122.3" r="0.58"/><circle cx="500.1" cy="130.7" r="0.58"/><circle cx="507.7" cy="128.5" r="0.79"/><circle cx="510.9" cy="131.8" r="0.84"/><circle cx="530.2" cy="132.1" r="0.83"/><circle cx="540.6" cy="131.9" r="0.55"/><circle cx="561.7" cy="127.9" r="0.72"/><circle cx="569.5" cy="127.4" r="0.64"/><circle cx="573.4" cy="127.3" r="0.90"/><circle cx="491.8" cy="136.1" r="0.83"/><circle cx="505.8" cy="137.9" r="0.51"/><circle cx="508.2" cy="135.7" r="0.69"/><circle cx="515.5" cy="137.2" r="0.69"/><circle cx="557.8" cy="133.8" r="0.63"/><circle cx="573.3" cy="134.8" r="0.86"/><circle cx="577.0" cy="135.0" r="0.74"/><circle cx="489.6" cy="143.4" r="0.58"/><circle cx="500.2" cy="142.6" r="0.59"/><circle cx="523.2" cy="139.2" r="0.81"/><circle cx="529.6" cy="141.0" r="0.63"/><circle cx="534.7" cy="144.8" r="0.63"/><circle cx="539.4" cy="140.0" r="0.81"/><circle cx="568.5" cy="142.9" r="0.64"/><circle cx="584.8" cy="141.0" r="0.55"/><circle cx="487.7" cy="148.7" r="0.52"/><circle cx="495.2" cy="147.6" r="0.81"/><circle cx="501.0" cy="149.6" r="0.61"/><circle cx="512.9" cy="147.7" r="0.78"/><circle cx="514.6" cy="149.1" r="0.64"/><circle cx="523.4" cy="147.7" r="0.86"/><circle cx="528.8" cy="149.5" r="0.83"/><circle cx="538.7" cy="146.9" r="0.72"/><circle cx="541.8" cy="148.1" r="0.64"/><circle cx="554.7" cy="145.5" r="0.54"/><circle cx="560.9" cy="148.1" r="0.80"/><circle cx="581.2" cy="147.0" r="0.69"/><circle cx="489.4" cy="155.5" r="0.82"/><circle cx="540.0" cy="152.3" r="0.60"/><circle cx="557.6" cy="154.8" r="0.51"/><circle cx="585.7" cy="153.5" r="0.88"/><circle cx="486.4" cy="157.3" r="0.85"/><circle cx="498.8" cy="160.2" r="0.58"/><circle cx="504.8" cy="160.0" r="0.69"/><circle cx="522.7" cy="161.5" r="0.56"/><circle cx="532.7" cy="159.6" r="0.61"/><circle cx="543.2" cy="157.5" r="0.66"/><circle cx="558.9" cy="158.2" r="0.85"/><circle cx="563.7" cy="161.0" r="0.59"/><circle cx="573.1" cy="160.1" r="0.76"/><circle cx="578.9" cy="157.6" r="0.88"/><circle cx="492.4" cy="168.6" r="0.60"/><circle cx="501.6" cy="165.2" r="0.52"/><circle cx="514.4" cy="165.9" r="0.51"/><circle cx="519.7" cy="166.0" r="0.65"/><circle cx="536.0" cy="164.5" r="0.72"/><circle cx="538.6" cy="167.0" r="0.75"/><circle cx="556.0" cy="164.4" r="0.57"/><circle cx="567.4" cy="165.6" r="0.73"/><circle cx="574.9" cy="166.1" r="0.78"/><circle cx="581.3" cy="168.9" r="0.87"/></g>
<g fill="#8a4428" opacity="0.9"><circle cx="530.9" cy="71.0" r="1.15"/><circle cx="565.6" cy="76.1" r="0.74"/><circle cx="584.6" cy="70.0" r="0.71"/><circle cx="506.2" cy="89.8" r="1.02"/><circle cx="545.0" cy="88.1" r="1.09"/><circle cx="557.1" cy="88.8" r="0.81"/><circle cx="485.5" cy="91.5" r="0.91"/><circle cx="574.5" cy="96.5" r="1.12"/><circle cx="522.6" cy="110.1" r="0.77"/><circle cx="548.6" cy="104.1" r="0.98"/><circle cx="567.1" cy="111.8" r="1.16"/><circle cx="484.3" cy="122.0" r="0.74"/><circle cx="511.8" cy="120.1" r="1.15"/><circle cx="524.3" cy="124.9" r="0.85"/><circle cx="557.0" cy="123.3" r="1.18"/><circle cx="550.8" cy="130.5" r="0.86"/><circle cx="588.9" cy="142.8" r="0.89"/><circle cx="521.4" cy="158.4" r="0.88"/><circle cx="568.5" cy="154.4" r="1.08"/></g>
</g>
<rect x="420.4" y="65" width="31.600000000000023" height="31.799999999999997" fill="none" stroke="#111" stroke-width="1.5"/>
<rect x="485.4" y="66" width="99.39999999999998" height="100" fill="none" stroke="#111" stroke-width="1.5"/>
<clipPath id="c_ms"><rect x="36" y="399" width="272" height="140"/></clipPath>
<g clip-path="url(#c_ms)">
<rect x="36" y="399" width="272" height="140" fill="#bfbde1"/>
<rect x="36" y="399" width="272" height="140" filter="url(#mott)" opacity="0.25"/>
<path d="M36,399 L200,399 C180,404 160,412 145,422 C135,430 128,438 120,445 L36,445 Z" fill="#b5b3da" filter="url(#bl3)"/>
<path d="M246,448 C238,458 230,466 228,472 C225,480 225,490 227,500 C230,512 233,525 235,540 L308,540 L308,404 C300,412 292,420 284,428 C276,434 268,440 260,442 Z" fill="#c1bfe1"/>
<path d="M120,440 C128,428 140,418 157,409.3 C165,405 170,402 177,400" fill="none" stroke="#a6a4d4" stroke-width="6" filter="url(#bl2)"/>
<path d="M256.2,424.9 C248,426 240,427.5 233.5,429.2 C226,431.5 221,434.5 216.5,437.7 C211,441 207,443.5 202.3,446.2 C197,449.5 193,452 188.2,454.7 C184,458 181,461 178.3,464.6 C175,469 173,472.5 171.2,476 C169,481 168,485 166.9,488.7 C166.5,494 166.5,498 166.9,502.8 C168,508 169.5,512.5 171.2,517 C173.5,522 176,526.5 178.3,531.2 L183,541" fill="none" stroke="#8e8cca" stroke-width="5.5" filter="url(#bl1)"/>
<path d="M256.2,424.9 C248,426 240,427.5 233.5,429.2 C226,431.5 221,434.5 216.5,437.7" fill="none" stroke="#8886c6" stroke-width="9" stroke-linecap="round" filter="url(#bl1)"/>
<path d="M218,450.4 C215,454 213.5,457 212.3,460.3 C210,465 209,470 208,474.5 C207,479 206.6,484 206.6,488.7 C207,494 208,498 209.4,502.8 C211,507 213,511 215.1,514.2 C218,518 221,521 225,524.1 C228,526 230,528 232,530" fill="none" stroke="#8e8cca" stroke-width="5" filter="url(#bl1)"/>
<path d="M182.5,495.8 C183.5,500 185,504 186.8,508.5 C189,512.5 191,516.5 193.8,519.8 C197,524 200,527.5 203.8,531.2 C206,534 208,537 211,541" fill="none" stroke="#9290cc" stroke-width="4" filter="url(#bl1)"/>
<rect x="36" y="399" width="272" height="140" filter="url(#spk2)" opacity="1"/>
<path d="M64,399 C59,412 53,425 49,440" fill="none" stroke="#b4a0b8" stroke-width="6" filter="url(#bl2)"/>
<path d="M58,399 C53,410 47,423 42.3,440" fill="none" stroke="#a88a8a" stroke-width="4" filter="url(#bl1)"/>
<path d="M36,399 L58,399 C53,410 47,423 42.3,440 L36,440 Z" fill="#f6f2ea"/>
<path d="M261.8,413.6 C268,412.5 274,411.5 278.9,410.8 C284,409 289,407 294.4,405.1 C298,403.5 301,401.5 303,400.3 L305,398 L309,398 L309,402 C305,405 302,408 298.7,410.8 C294,415 290,419 287.4,423.5 C283,427 280,430 276,433.4 C272,436 268,438 264.7,439.1 C262,439 261.5,438.5 261.8,437.7 C263,434 265,430 266.1,426.3 C266,423 265.5,420 264.7,417.8 C263.5,416 262.5,415 261.8,413.6 Z" fill="#fbf9f6"/>
<path d="M270,418 C272,416 275,417 276,419 M280,426 C282,425 284,426 284,428" fill="none" stroke="#8886b0" stroke-width="0.7"/>
<path d="M246.3,447.6 C241,453 237,458 233.5,463.2 C231,467 229,469.5 227.8,471.7 C226,476 225.3,480 225,483 C225.3,487 225.7,491 226.4,494.3 C228,500 229.5,506 230.7,511.3 C231.8,516 232.8,521 233.5,525.5 C234,530 234.5,535 235,540" fill="none" stroke="#e8e4ec" stroke-width="0.9"/>
<path d="M227,500 C229,510 232,522 234,540" fill="none" stroke="#a07050" stroke-width="0.7" opacity="0.8"/>
</g>
<line x1="39.5" y1="403" x2="80.8" y2="403" stroke="#5060b8" stroke-width="1"/>
<line x1="57" y1="403" x2="64" y2="403" stroke="#5060b8" stroke-width="2"/>
<line x1="36.3" y1="399" x2="36.3" y2="440" stroke="#bfe0ee" stroke-width="0.8"/>
<text x="247" y="530" font-size="13.2" textLength="51.6" lengthAdjust="spacingAndGlyphs" fill="#1a1a1a">1000 µm</text>
<line x1="239" y1="536.8" x2="305" y2="536.8" stroke="#222" stroke-width="1.3"/>
<clipPath id="c_msi"><rect x="36.3" y="439.3" width="102.7" height="100.9"/></clipPath>
<g clip-path="url(#c_msi)">
<rect x="36.3" y="439.3" width="102.7" height="100.9" fill="#bcbade"/>
<path d="M36,492 C45,480 55,468 70,450.4 C76,446 82,443 90,439 L140,439 L140,454 C130,456 120,460 109.6,464.8 C100,468 94,471 88,475.6 C80,483 74,490 70,497.2 C62,506 56,514 50,524 C45,532 42,536 40,541 L36,541 Z" fill="#aeacd8" filter="url(#bl1)"/>
<g fill="#7674c0" opacity="0.95"><circle cx="87.4" cy="442.9" r="1.56"/><circle cx="93.6" cy="442.4" r="2.13"/><circle cx="94.9" cy="442.9" r="1.56"/><circle cx="101.7" cy="440.4" r="1.65"/><circle cx="103.2" cy="441.0" r="2.10"/><circle cx="108.7" cy="439.6" r="1.97"/><circle cx="111.9" cy="442.9" r="1.89"/><circle cx="118.0" cy="440.3" r="1.74"/><circle cx="120.6" cy="441.5" r="2.13"/><circle cx="125.8" cy="440.1" r="1.61"/><circle cx="131.0" cy="440.1" r="2.02"/><circle cx="136.6" cy="441.6" r="2.12"/><circle cx="139.6" cy="441.4" r="2.05"/><circle cx="84.8" cy="445.4" r="1.76"/><circle cx="90.9" cy="444.5" r="1.86"/><circle cx="93.7" cy="446.6" r="1.78"/><circle cx="98.8" cy="444.9" r="1.69"/><circle cx="101.8" cy="445.3" r="1.80"/><circle cx="106.3" cy="446.0" r="1.66"/><circle cx="110.1" cy="446.0" r="1.75"/><circle cx="118.0" cy="443.9" r="1.71"/><circle cx="128.4" cy="444.8" r="2.08"/><circle cx="131.4" cy="444.8" r="1.97"/><circle cx="136.0" cy="446.3" r="2.14"/><circle cx="143.0" cy="445.5" r="1.77"/><circle cx="90.6" cy="448.3" r="1.68"/><circle cx="96.7" cy="449.9" r="2.00"/><circle cx="100.5" cy="447.3" r="2.04"/><circle cx="104.6" cy="450.4" r="1.61"/><circle cx="112.7" cy="450.0" r="2.07"/><circle cx="118.3" cy="447.7" r="1.87"/><circle cx="122.6" cy="448.6" r="1.67"/><circle cx="125.8" cy="446.9" r="2.04"/><circle cx="131.7" cy="449.5" r="1.87"/><circle cx="133.7" cy="446.9" r="1.65"/><circle cx="140.2" cy="450.2" r="1.73"/><circle cx="81.6" cy="453.8" r="1.64"/><circle cx="85.8" cy="453.5" r="1.73"/><circle cx="90.3" cy="451.7" r="2.09"/><circle cx="94.8" cy="451.3" r="1.71"/><circle cx="100.8" cy="452.6" r="1.63"/><circle cx="106.0" cy="454.0" r="2.09"/><circle cx="110.2" cy="453.8" r="1.83"/><circle cx="113.7" cy="453.8" r="2.04"/><circle cx="120.4" cy="453.1" r="1.58"/><circle cx="125.7" cy="452.9" r="1.96"/><circle cx="127.3" cy="453.4" r="2.08"/><circle cx="132.2" cy="451.1" r="1.65"/><circle cx="138.4" cy="454.2" r="1.92"/><circle cx="73.4" cy="457.4" r="1.92"/><circle cx="78.5" cy="455.3" r="1.57"/><circle cx="83.0" cy="455.7" r="2.11"/><circle cx="89.0" cy="454.8" r="1.83"/><circle cx="92.9" cy="455.4" r="1.86"/><circle cx="96.3" cy="454.5" r="2.01"/><circle cx="101.0" cy="456.7" r="1.82"/><circle cx="104.5" cy="457.5" r="2.10"/><circle cx="107.9" cy="457.9" r="1.61"/><circle cx="112.5" cy="456.1" r="1.99"/><circle cx="118.8" cy="456.5" r="2.07"/><circle cx="121.1" cy="457.7" r="1.60"/><circle cx="126.0" cy="457.7" r="1.83"/><circle cx="132.4" cy="457.7" r="1.71"/><circle cx="136.1" cy="455.7" r="1.56"/><circle cx="138.0" cy="455.5" r="2.12"/><circle cx="72.3" cy="458.3" r="1.57"/><circle cx="75.5" cy="458.4" r="1.60"/><circle cx="81.7" cy="459.8" r="1.68"/><circle cx="87.2" cy="458.5" r="1.65"/><circle cx="87.8" cy="460.2" r="1.80"/><circle cx="94.6" cy="459.9" r="2.03"/><circle cx="98.3" cy="460.3" r="1.79"/><circle cx="101.1" cy="461.1" r="2.08"/><circle cx="105.4" cy="460.3" r="2.05"/><circle cx="112.2" cy="459.9" r="1.98"/><circle cx="116.1" cy="461.6" r="1.81"/><circle cx="121.7" cy="461.6" r="1.61"/><circle cx="124.5" cy="461.5" r="1.57"/><circle cx="129.2" cy="458.0" r="2.10"/><circle cx="131.1" cy="460.3" r="1.90"/><circle cx="67.7" cy="461.9" r="1.86"/><circle cx="70.5" cy="463.4" r="1.86"/><circle cx="75.4" cy="464.0" r="1.87"/><circle cx="80.2" cy="462.9" r="1.56"/><circle cx="82.0" cy="465.2" r="2.07"/><circle cx="87.4" cy="463.7" r="1.87"/><circle cx="93.0" cy="464.0" r="1.83"/><circle cx="95.3" cy="464.9" r="1.63"/><circle cx="104.8" cy="464.6" r="1.64"/><circle cx="110.4" cy="463.1" r="1.78"/><circle cx="111.6" cy="462.3" r="2.11"/><circle cx="116.6" cy="464.5" r="2.02"/><circle cx="123.3" cy="464.1" r="1.60"/><circle cx="127.3" cy="462.0" r="1.92"/><circle cx="64.3" cy="469.0" r="1.56"/><circle cx="66.5" cy="466.7" r="1.67"/><circle cx="73.1" cy="467.2" r="1.70"/><circle cx="75.1" cy="467.8" r="1.65"/><circle cx="81.8" cy="468.4" r="2.03"/><circle cx="85.4" cy="469.1" r="1.73"/><circle cx="87.8" cy="465.9" r="1.71"/><circle cx="95.0" cy="468.4" r="2.02"/><circle cx="97.2" cy="465.4" r="2.13"/><circle cx="104.3" cy="467.0" r="1.68"/><circle cx="106.1" cy="467.3" r="2.09"/><circle cx="111.4" cy="465.3" r="1.70"/><circle cx="114.1" cy="465.7" r="2.13"/><circle cx="122.8" cy="465.5" r="1.73"/><circle cx="60.6" cy="469.2" r="2.05"/><circle cx="66.1" cy="469.5" r="2.08"/><circle cx="68.9" cy="471.7" r="1.72"/><circle cx="73.0" cy="469.8" r="1.95"/><circle cx="80.3" cy="469.4" r="2.10"/><circle cx="84.0" cy="472.4" r="1.83"/><circle cx="87.0" cy="469.7" r="1.67"/><circle cx="91.2" cy="469.5" r="1.76"/><circle cx="96.4" cy="471.5" r="1.56"/><circle cx="100.4" cy="469.3" r="2.13"/><circle cx="103.7" cy="469.4" r="2.07"/><circle cx="109.8" cy="470.9" r="1.94"/><circle cx="113.2" cy="470.3" r="1.70"/><circle cx="117.3" cy="472.8" r="1.88"/><circle cx="61.0" cy="474.7" r="1.65"/><circle cx="63.4" cy="473.0" r="1.92"/><circle cx="68.0" cy="473.3" r="2.08"/><circle cx="73.6" cy="472.9" r="1.97"/><circle cx="76.9" cy="474.2" r="2.13"/><circle cx="86.1" cy="473.7" r="1.95"/><circle cx="88.8" cy="475.3" r="1.87"/><circle cx="94.2" cy="476.2" r="1.89"/><circle cx="100.0" cy="475.1" r="2.05"/><circle cx="101.3" cy="476.2" r="1.61"/><circle cx="107.1" cy="476.6" r="1.90"/><circle cx="109.5" cy="474.8" r="2.05"/><circle cx="113.9" cy="474.8" r="2.13"/><circle cx="53.4" cy="480.1" r="2.14"/><circle cx="57.1" cy="480.1" r="1.97"/><circle cx="62.1" cy="479.4" r="1.98"/><circle cx="66.2" cy="478.4" r="1.83"/><circle cx="69.8" cy="478.3" r="1.59"/><circle cx="74.9" cy="479.6" r="1.71"/><circle cx="77.4" cy="479.7" r="1.75"/><circle cx="84.3" cy="479.1" r="1.75"/><circle cx="87.6" cy="476.8" r="1.87"/><circle cx="90.9" cy="479.6" r="1.93"/><circle cx="95.5" cy="480.1" r="1.99"/><circle cx="100.5" cy="478.6" r="1.61"/><circle cx="103.6" cy="478.4" r="1.89"/><circle cx="109.8" cy="477.5" r="1.94"/><circle cx="51.9" cy="481.7" r="1.79"/><circle cx="57.0" cy="483.2" r="1.76"/><circle cx="59.2" cy="481.1" r="1.83"/><circle cx="62.4" cy="484.0" r="1.86"/><circle cx="69.2" cy="483.9" r="1.64"/><circle cx="71.3" cy="480.4" r="1.90"/><circle cx="77.1" cy="480.6" r="1.70"/><circle cx="81.1" cy="480.2" r="1.91"/><circle cx="86.5" cy="480.6" r="1.89"/><circle cx="90.0" cy="482.4" r="1.89"/><circle cx="92.3" cy="482.8" r="1.60"/><circle cx="96.9" cy="483.4" r="2.07"/><circle cx="103.4" cy="482.7" r="1.58"/><circle cx="45.1" cy="486.4" r="1.84"/><circle cx="47.9" cy="485.7" r="1.64"/><circle cx="51.4" cy="484.3" r="1.90"/><circle cx="55.9" cy="487.1" r="1.55"/><circle cx="62.2" cy="484.3" r="2.06"/><circle cx="67.4" cy="486.9" r="1.62"/><circle cx="70.6" cy="484.1" r="1.81"/><circle cx="74.0" cy="485.5" r="1.99"/><circle cx="77.9" cy="487.0" r="1.75"/><circle cx="82.6" cy="487.5" r="1.92"/><circle cx="88.8" cy="485.0" r="2.00"/><circle cx="92.1" cy="485.1" r="1.67"/><circle cx="96.4" cy="485.4" r="2.05"/><circle cx="100.4" cy="487.3" r="1.71"/><circle cx="44.0" cy="489.2" r="1.88"/><circle cx="45.8" cy="488.1" r="1.86"/><circle cx="52.5" cy="490.7" r="1.96"/><circle cx="53.8" cy="488.1" r="1.98"/><circle cx="61.0" cy="490.7" r="1.85"/><circle cx="63.6" cy="487.9" r="2.15"/><circle cx="67.6" cy="488.3" r="1.74"/><circle cx="73.4" cy="490.4" r="1.87"/><circle cx="75.4" cy="488.3" r="1.98"/><circle cx="80.7" cy="488.0" r="1.83"/><circle cx="84.1" cy="489.9" r="2.00"/><circle cx="89.1" cy="489.4" r="1.73"/><circle cx="92.2" cy="488.9" r="1.98"/><circle cx="98.2" cy="489.3" r="1.84"/><circle cx="37.8" cy="492.6" r="2.03"/><circle cx="41.0" cy="494.0" r="1.91"/><circle cx="45.6" cy="493.7" r="1.94"/><circle cx="48.5" cy="492.6" r="1.56"/><circle cx="53.9" cy="491.7" r="1.55"/><circle cx="55.9" cy="492.7" r="1.91"/><circle cx="62.3" cy="491.8" r="1.92"/><circle cx="66.1" cy="491.6" r="1.63"/><circle cx="69.6" cy="494.4" r="1.91"/><circle cx="75.9" cy="495.0" r="2.07"/><circle cx="79.1" cy="493.7" r="1.63"/><circle cx="82.8" cy="494.8" r="2.13"/><circle cx="85.8" cy="494.7" r="1.83"/><circle cx="36.3" cy="497.5" r="1.64"/><circle cx="42.2" cy="498.9" r="1.99"/><circle cx="45.4" cy="496.6" r="1.72"/><circle cx="51.9" cy="498.3" r="1.71"/><circle cx="56.7" cy="495.3" r="2.07"/><circle cx="61.0" cy="495.4" r="2.08"/><circle cx="63.6" cy="498.9" r="1.65"/><circle cx="69.1" cy="497.5" r="2.08"/><circle cx="71.4" cy="496.8" r="1.64"/><circle cx="76.0" cy="496.4" r="2.10"/><circle cx="79.3" cy="496.9" r="1.74"/><circle cx="83.8" cy="497.6" r="1.96"/><circle cx="89.0" cy="496.0" r="2.13"/><circle cx="37.8" cy="500.3" r="1.61"/><circle cx="40.6" cy="502.4" r="1.70"/><circle cx="45.3" cy="499.9" r="1.75"/><circle cx="47.9" cy="501.7" r="1.97"/><circle cx="51.8" cy="501.6" r="1.76"/><circle cx="59.0" cy="499.5" r="1.77"/><circle cx="63.5" cy="499.5" r="1.55"/><circle cx="65.3" cy="501.8" r="1.56"/><circle cx="75.1" cy="499.3" r="1.60"/><circle cx="77.3" cy="502.5" r="1.70"/><circle cx="81.7" cy="501.0" r="1.62"/><circle cx="40.0" cy="505.3" r="1.55"/><circle cx="42.7" cy="505.9" r="2.10"/><circle cx="46.5" cy="504.0" r="1.97"/><circle cx="52.6" cy="503.3" r="1.86"/><circle cx="56.4" cy="502.8" r="1.71"/><circle cx="61.5" cy="506.4" r="1.60"/><circle cx="64.0" cy="504.6" r="2.09"/><circle cx="66.6" cy="503.7" r="1.97"/><circle cx="74.2" cy="504.4" r="1.90"/><circle cx="76.7" cy="503.5" r="2.14"/><circle cx="34.7" cy="507.0" r="2.03"/><circle cx="38.5" cy="509.5" r="2.14"/><circle cx="45.1" cy="509.0" r="2.14"/><circle cx="50.5" cy="509.4" r="1.67"/><circle cx="53.3" cy="509.4" r="1.82"/><circle cx="55.9" cy="509.0" r="1.64"/><circle cx="61.5" cy="507.4" r="1.69"/><circle cx="65.2" cy="508.1" r="2.01"/><circle cx="72.2" cy="506.6" r="1.63"/><circle cx="75.7" cy="508.6" r="1.97"/><circle cx="37.6" cy="512.9" r="1.56"/><circle cx="44.0" cy="512.4" r="2.00"/><circle cx="46.5" cy="513.3" r="2.06"/><circle cx="52.7" cy="511.7" r="1.67"/><circle cx="54.3" cy="513.3" r="1.86"/><circle cx="59.8" cy="511.5" r="1.99"/><circle cx="63.9" cy="511.3" r="1.64"/><circle cx="69.2" cy="513.1" r="1.60"/><circle cx="71.3" cy="512.7" r="1.98"/><circle cx="37.8" cy="515.0" r="1.95"/><circle cx="41.6" cy="516.0" r="1.91"/><circle cx="45.0" cy="517.3" r="1.71"/><circle cx="47.6" cy="514.1" r="1.68"/><circle cx="52.4" cy="517.4" r="1.97"/><circle cx="59.1" cy="515.0" r="1.92"/><circle cx="61.5" cy="514.7" r="1.71"/><circle cx="64.4" cy="515.5" r="2.03"/><circle cx="39.4" cy="519.1" r="2.04"/><circle cx="43.0" cy="518.2" r="1.62"/><circle cx="45.3" cy="518.8" r="1.80"/><circle cx="52.5" cy="517.7" r="1.73"/><circle cx="56.3" cy="520.9" r="1.61"/><circle cx="61.1" cy="518.8" r="1.75"/><circle cx="64.8" cy="517.4" r="2.10"/><circle cx="35.8" cy="523.6" r="1.95"/><circle cx="40.0" cy="521.5" r="1.77"/><circle cx="45.0" cy="523.2" r="1.71"/><circle cx="47.5" cy="524.0" r="1.59"/><circle cx="53.9" cy="521.4" r="1.66"/><circle cx="59.3" cy="524.1" r="1.74"/><circle cx="61.4" cy="522.4" r="1.61"/><circle cx="36.5" cy="526.3" r="1.95"/><circle cx="42.5" cy="525.1" r="1.69"/><circle cx="45.7" cy="528.4" r="1.98"/><circle cx="50.8" cy="527.2" r="1.68"/><circle cx="55.8" cy="526.2" r="1.70"/><circle cx="37.8" cy="529.2" r="2.10"/><circle cx="38.8" cy="531.0" r="2.11"/><circle cx="50.5" cy="531.4" r="1.60"/><circle cx="36.3" cy="534.0" r="1.97"/><circle cx="40.9" cy="534.9" r="1.65"/><circle cx="46.1" cy="535.1" r="2.06"/><circle cx="35.0" cy="539.2" r="1.93"/><circle cx="41.0" cy="539.1" r="1.89"/><circle cx="37.8" cy="541.2" r="2.00"/></g>
<g fill="#8a88c8" opacity="0.8"><circle cx="43.8" cy="440.8" r="1.60"/><circle cx="52.0" cy="445.0" r="2.17"/><circle cx="57.2" cy="444.1" r="1.42"/><circle cx="83.1" cy="445.6" r="1.90"/><circle cx="53.6" cy="446.8" r="2.15"/><circle cx="69.3" cy="458.3" r="2.07"/><circle cx="121.2" cy="477.1" r="1.65"/><circle cx="136.6" cy="478.2" r="1.43"/><circle cx="107.2" cy="483.4" r="1.60"/><circle cx="132.1" cy="484.9" r="1.95"/><circle cx="143.0" cy="485.2" r="1.57"/><circle cx="96.1" cy="494.0" r="2.02"/><circle cx="100.0" cy="496.2" r="1.35"/><circle cx="94.8" cy="505.4" r="1.90"/><circle cx="115.1" cy="504.9" r="1.29"/><circle cx="127.3" cy="506.7" r="1.51"/><circle cx="106.1" cy="515.6" r="1.76"/><circle cx="142.7" cy="514.8" r="1.92"/><circle cx="72.3" cy="516.4" r="2.17"/><circle cx="123.5" cy="516.3" r="1.34"/><circle cx="127.8" cy="520.0" r="1.81"/><circle cx="61.0" cy="529.5" r="1.90"/><circle cx="70.5" cy="524.8" r="1.40"/><circle cx="107.7" cy="522.8" r="2.19"/><circle cx="116.4" cy="525.8" r="1.37"/><circle cx="129.0" cy="526.0" r="1.55"/><circle cx="136.5" cy="526.5" r="1.61"/><circle cx="57.3" cy="529.8" r="1.41"/><circle cx="81.2" cy="531.6" r="1.35"/><circle cx="93.0" cy="535.8" r="1.44"/><circle cx="100.7" cy="535.4" r="1.67"/><circle cx="39.4" cy="543.4" r="1.28"/><circle cx="44.3" cy="538.0" r="1.29"/><circle cx="80.8" cy="539.3" r="1.21"/><circle cx="95.1" cy="537.7" r="1.64"/><circle cx="125.7" cy="543.0" r="1.46"/></g>
<g fill="#3c3c98" opacity="0.9"><circle cx="29.3" cy="453.8" r="1.50"/><circle cx="56.8" cy="467.2" r="1.10"/><circle cx="110.0" cy="484.8" r="1.33"/><circle cx="117.8" cy="487.6" r="0.98"/><circle cx="136.4" cy="490.8" r="1.41"/><circle cx="89.1" cy="504.9" r="1.48"/><circle cx="109.8" cy="501.1" r="1.17"/><circle cx="73.1" cy="514.8" r="1.17"/><circle cx="120.5" cy="520.9" r="1.45"/><circle cx="114.5" cy="536.2" r="0.91"/><circle cx="134.1" cy="524.1" r="1.06"/></g>
</g>
<text x="39.8" y="534" font-size="11.8" textLength="36.2" lengthAdjust="spacingAndGlyphs" fill="#1a1a1a">100µm</text>
<line x1="40" y1="536.7" x2="71.3" y2="536.7" stroke="#222" stroke-width="1.2"/>
<rect x="36.3" y="439.3" width="102.7" height="100.90000000000003" fill="none" stroke="#111" stroke-width="1.5"/>
<rect x="172.6" y="448.2" width="27.80000000000001" height="27.80000000000001" fill="none" stroke="#111" stroke-width="1.5"/>
<clipPath id="c_mr"><rect x="312" y="399" width="270.5" height="138.5"/></clipPath>
<g clip-path="url(#c_mr)">
<rect x="312" y="399" width="271" height="139" fill="#c0bee0"/>
<path d="M312,399 L546.5,399 C543,402 541,405 539,407 C536,410 533,412.5 530,414.5 C524,421 516,430 509,437 C505,439 501,441 497,443 C493,445.5 490.5,448 488,450.5 C485,454 483,457.5 482,461 C481,465 480.8,469 480.8,473.3 C481.3,479 482,485 483.3,490 C484.5,495 486,499 488.3,503.3 C490.5,508 492.5,513 495,518.3 C497,525 498.5,532 500,540 L312,540 Z" fill="#b8aec2"/>
<path d="M340,440 C350,425 362,412 378,399 L312,399 L312,440 Z" fill="#b2acd2" filter="url(#bl3)"/>
<path d="M352,470 C360,445 375,425 398,408 C405,404 410,401 418,399" fill="none" stroke="#bab6d6" stroke-width="8" opacity="0.7" filter="url(#bl3)"/>
<path d="M380,445 C392,428 405,414 425,400" fill="none" stroke="#ab9290" stroke-width="9" filter="url(#bl3)"/>
<path d="M392,446 C404,430 418,416 440,404 C455,400 470,399 490,399" fill="none" stroke="#b09894" stroke-width="8" opacity="0.8" filter="url(#bl3)"/>
<path d="M395,540 C396,520 399,500 405,480 C408,470 411,464 415,458 C419,452 423,446 428,441.7 C434,437 439,433 445,430 C452,426 458,424 465,422 C472,420 479,419 486.7,418.3 C494,417.5 501,417 508,416.7 L512,414 C518,412 524,413 530,414.5 C524,421 516,430 509,437 C505,439 501,441 497,443 C493,445.5 490.5,448 488,450.5 C485,454 483,457.5 482,461 C481,465 480.8,469 480.8,473.3 C481.3,479 482,485 483.3,490 C484.5,495 486,499 488.3,503.3 C490.5,508 492.5,513 495,518.3 C497,525 498.5,532 500,540 Z" fill="#ac8a78" filter="url(#bl1)"/>
<path d="M470,440 C462,446 452,452 445,458 C440,465 435,473 433,482 C432,492 434,502 440,511 C446,519 454,526 462,532 L470,540 L488,540 C484,530 478,520 472,510 C468,500 466,490 466,478 C466,468 467,458 470,450 C474,444 480,439 488,436 Z" fill="#b6a2a4" opacity="0.85" filter="url(#bl2)"/>
<path d="M452,492 C456,502 462,510 470,516 C476,520 482,524 488,528" fill="none" stroke="#baa8ac" stroke-width="6" opacity="0.7" filter="url(#bl2)"/>
<path d="M420,470 C420,458 426,448 436,440 C448,432 462,426 480,423 C492,421 500,420 508,419" fill="none" stroke="#a5827a" stroke-width="6" opacity="0.7" filter="url(#bl2)"/>
<path d="M418,480 C418,500 422,518 430,540" fill="none" stroke="#a8847c" stroke-width="8" opacity="0.7" filter="url(#bl2)"/>
<rect x="312" y="399" width="271" height="139" filter="url(#spk2)" opacity="0.9"/>
<rect x="312" y="399" width="271" height="139" filter="url(#brn)" opacity="0.3"/>
<path d="M498,426.7 C493,427.8 488,428.8 483,430 C478,432 474,434.5 470,437 C465.5,440 461,443 457,446 C452.5,449 448.5,452 445,455 C441.5,458.5 438.5,461.5 436,465 C433.5,469 431.5,473 430,477 C428.5,481 427.8,485.5 427.5,490 C428,494.5 429.5,499 431.7,503.3 C433.5,507 435.8,510.3 438.3,513.3 C441,516.8 443.8,520 446.7,523.3 C449.5,526.5 452.3,529.7 455,533 L460,540" fill="none" stroke="#7e7ab6" stroke-width="4.6" opacity="0.85" filter="url(#bl05)"/>
<path d="M498,430 C493.5,432 489,434 485,436 C481.5,438.5 478,440.5 475,443 C472.5,447 470.5,451 469,455 C467.5,460 466.5,465 466,470 C466,473.5 466.3,477 466.7,480 C467,483.5 467.5,486.5 468,490 C469.5,493 471,495.5 472.5,498.3 C474.5,500.5 476.3,502.8 478.3,505 C480.5,507.2 482.8,509.5 485,511.7 C486.8,514 488.3,516 490,518 C491.5,520.5 492.8,522.8 494,525" fill="none" stroke="#807cb8" stroke-width="3.8" opacity="0.85" filter="url(#bl05)"/>
<path d="M443.3,485 C445.5,489.5 447.8,494 450,498.3 C452.8,501.8 455.5,505 458.3,508.3 C461.6,511.2 465,514 468.3,516.7 C472.2,519 476,521.2 480,523.3 C483.5,525 487,526.5 490,528" fill="none" stroke="#827eb8" stroke-width="3.3" opacity="0.85" filter="url(#bl05)"/>
<path d="M511,417 C514,414.5 518,414 522,415 C525,414 528,415 530,417 C529,421 527,424 527,427 C525,431 523,434 520,437 C517,437.5 514,436 512,433 C513,428 512,422 511,417 Z" fill="#f8f4f0"/>
<path d="M516,421 C518,419 521,420 521,423 C521,426 518,427 516,425 Z M523,429 C525,428 526,430 525,432" fill="none" stroke="#9a8aa8" stroke-width="0.9"/>
<path d="M509,415 C515,412.5 522,413 530,414.5" fill="none" stroke="#9a6c58" stroke-width="1.3"/>
<path d="M527,427 C529,431 531,434 534,436" fill="none" stroke="#c8a898" stroke-width="1.2"/>
<path d="M312,399 L350,399 C340,405 332,415 326,427 C323,432 321,436 320.7,440 L312,440 Z" fill="#f7f3ec"/>
<path d="M350,399 C340,405 332,415 326,427 C323,432 321,436 320.7,440" fill="none" stroke="#a8826c" stroke-width="3" filter="url(#bl1)"/>
<path d="M357,399 C347,406 339,416 333,428 C330,433 328,437 327.5,440" fill="none" stroke="#b09a9c" stroke-width="5" opacity="0.8" filter="url(#bl2)"/>
</g>
<line x1="312.2" y1="399" x2="312.2" y2="440" stroke="#bfe0ee" stroke-width="0.8"/>
<line x1="316" y1="403" x2="340" y2="403" stroke="#5060b8" stroke-width="0.9"/>
<clipPath id="c_mri"><rect x="312" y="439.2" width="101.6" height="99.9"/></clipPath>
<g clip-path="url(#c_mri)">
<rect x="312" y="439.2" width="101.6" height="99.9" fill="#a07860"/>
<rect x="312" y="439.2" width="101.6" height="99.9" filter="url(#bmot)" opacity="1"/>
<rect x="312" y="439.2" width="101.6" height="99.9" filter="url(#bmotl)" opacity="0.9"/>
<path d="M312,439 L362,439 C345,450 330,462 312,481 Z" fill="#b49c96" opacity="0.55" filter="url(#bl2)"/>
<path d="M312,481 C318,474 324,468 330,462 C335,457 340,453 345,450 C350,446 355,443 362,439 L416,439 L416,459 C405,460 397,461 390,463 C382,466 376,469 370,473 C362,479 356,485 350,491 C344,497 338,504 333,511 C328,518 323,524 318,530 C316,534 315,538 314,541 L312,541 Z" fill="#8e7a96" opacity="0.85" filter="url(#bl2)"/>
<g fill="#7274cc" opacity="0.95"><circle cx="363.7" cy="440.1" r="1.60"/><circle cx="367.8" cy="440.7" r="2.03"/><circle cx="373.9" cy="441.5" r="1.87"/><circle cx="377.5" cy="440.2" r="1.69"/><circle cx="386.3" cy="440.5" r="1.92"/><circle cx="390.3" cy="439.4" r="1.50"/><circle cx="394.4" cy="443.0" r="1.84"/><circle cx="399.7" cy="440.4" r="1.85"/><circle cx="409.7" cy="439.4" r="1.60"/><circle cx="416.4" cy="442.6" r="1.90"/><circle cx="354.7" cy="446.7" r="2.05"/><circle cx="355.9" cy="442.9" r="1.53"/><circle cx="363.2" cy="444.8" r="1.70"/><circle cx="366.0" cy="446.1" r="2.08"/><circle cx="368.1" cy="446.1" r="1.85"/><circle cx="373.5" cy="446.1" r="1.73"/><circle cx="379.5" cy="445.4" r="1.61"/><circle cx="384.4" cy="445.5" r="1.70"/><circle cx="386.6" cy="446.7" r="1.98"/><circle cx="390.5" cy="444.4" r="2.04"/><circle cx="397.5" cy="444.5" r="1.76"/><circle cx="401.8" cy="443.3" r="1.60"/><circle cx="405.9" cy="443.6" r="2.00"/><circle cx="414.9" cy="446.6" r="1.62"/><circle cx="350.9" cy="448.1" r="1.80"/><circle cx="356.8" cy="449.3" r="2.07"/><circle cx="359.3" cy="448.7" r="1.72"/><circle cx="363.2" cy="450.4" r="2.05"/><circle cx="368.0" cy="448.4" r="1.50"/><circle cx="371.6" cy="448.7" r="1.79"/><circle cx="377.3" cy="447.4" r="1.63"/><circle cx="379.4" cy="449.7" r="1.70"/><circle cx="384.9" cy="448.8" r="1.57"/><circle cx="388.3" cy="449.2" r="1.82"/><circle cx="392.5" cy="449.0" r="1.59"/><circle cx="397.5" cy="450.4" r="1.66"/><circle cx="401.4" cy="449.2" r="1.74"/><circle cx="405.6" cy="450.2" r="1.85"/><circle cx="410.2" cy="448.9" r="1.58"/><circle cx="415.4" cy="447.3" r="2.08"/><circle cx="343.5" cy="453.8" r="1.73"/><circle cx="350.4" cy="453.6" r="1.85"/><circle cx="353.1" cy="451.2" r="1.58"/><circle cx="358.1" cy="452.9" r="1.70"/><circle cx="363.1" cy="452.1" r="1.97"/><circle cx="364.1" cy="453.2" r="2.02"/><circle cx="369.7" cy="453.6" r="1.81"/><circle cx="375.0" cy="451.9" r="1.96"/><circle cx="384.4" cy="450.4" r="1.96"/><circle cx="388.0" cy="452.9" r="1.60"/><circle cx="390.1" cy="453.8" r="1.64"/><circle cx="401.6" cy="452.0" r="1.66"/><circle cx="403.2" cy="453.1" r="1.84"/><circle cx="408.5" cy="452.6" r="1.98"/><circle cx="411.9" cy="451.1" r="1.62"/><circle cx="418.2" cy="453.3" r="1.64"/><circle cx="338.7" cy="455.8" r="1.68"/><circle cx="343.6" cy="457.4" r="1.67"/><circle cx="347.2" cy="457.4" r="1.57"/><circle cx="351.3" cy="456.3" r="1.94"/><circle cx="355.2" cy="457.8" r="1.79"/><circle cx="358.2" cy="454.8" r="1.72"/><circle cx="362.8" cy="457.1" r="1.83"/><circle cx="369.4" cy="454.8" r="1.85"/><circle cx="372.3" cy="457.2" r="1.69"/><circle cx="377.5" cy="456.6" r="1.74"/><circle cx="379.2" cy="456.2" r="1.83"/><circle cx="383.3" cy="455.3" r="1.94"/><circle cx="389.5" cy="456.7" r="1.77"/><circle cx="392.6" cy="456.7" r="1.59"/><circle cx="402.4" cy="456.3" r="1.73"/><circle cx="406.4" cy="456.5" r="1.50"/><circle cx="411.1" cy="457.0" r="1.72"/><circle cx="416.6" cy="456.9" r="2.02"/><circle cx="338.9" cy="458.1" r="2.04"/><circle cx="342.4" cy="461.4" r="1.86"/><circle cx="349.7" cy="459.2" r="2.08"/><circle cx="353.5" cy="459.1" r="1.93"/><circle cx="361.2" cy="460.4" r="1.73"/><circle cx="368.2" cy="459.3" r="1.63"/><circle cx="374.2" cy="459.6" r="1.59"/><circle cx="379.3" cy="458.6" r="2.09"/><circle cx="383.0" cy="460.1" r="1.96"/><circle cx="388.7" cy="459.7" r="1.99"/><circle cx="393.0" cy="458.7" r="1.59"/><circle cx="398.4" cy="461.5" r="2.06"/><circle cx="404.5" cy="459.5" r="1.75"/><circle cx="407.8" cy="457.9" r="1.65"/><circle cx="327.6" cy="465.3" r="1.64"/><circle cx="332.0" cy="462.0" r="1.65"/><circle cx="338.0" cy="462.1" r="2.08"/><circle cx="341.5" cy="464.9" r="2.05"/><circle cx="344.9" cy="464.6" r="1.63"/><circle cx="352.1" cy="463.6" r="2.00"/><circle cx="356.7" cy="465.3" r="1.93"/><circle cx="359.3" cy="465.3" r="1.64"/><circle cx="364.5" cy="464.3" r="1.91"/><circle cx="369.8" cy="465.0" r="2.06"/><circle cx="375.0" cy="465.0" r="1.67"/><circle cx="382.5" cy="464.1" r="1.84"/><circle cx="383.7" cy="465.4" r="1.70"/><circle cx="333.8" cy="468.5" r="1.80"/><circle cx="340.9" cy="468.2" r="1.52"/><circle cx="345.7" cy="466.2" r="1.82"/><circle cx="347.3" cy="466.4" r="1.93"/><circle cx="352.8" cy="466.2" r="1.88"/><circle cx="357.1" cy="466.7" r="1.70"/><circle cx="366.3" cy="468.1" r="1.96"/><circle cx="369.4" cy="468.0" r="1.87"/><circle cx="374.3" cy="468.0" r="1.97"/><circle cx="326.2" cy="471.9" r="1.98"/><circle cx="327.3" cy="470.3" r="1.75"/><circle cx="333.7" cy="470.9" r="2.09"/><circle cx="336.5" cy="469.3" r="1.94"/><circle cx="340.7" cy="469.6" r="1.93"/><circle cx="344.5" cy="469.7" r="1.59"/><circle cx="349.6" cy="472.6" r="1.67"/><circle cx="358.1" cy="472.2" r="1.90"/><circle cx="363.6" cy="470.7" r="1.58"/><circle cx="367.7" cy="472.2" r="1.71"/><circle cx="370.4" cy="472.2" r="1.88"/><circle cx="320.2" cy="472.7" r="1.72"/><circle cx="322.7" cy="476.0" r="1.72"/><circle cx="328.3" cy="474.7" r="1.88"/><circle cx="334.4" cy="475.1" r="1.57"/><circle cx="338.9" cy="476.5" r="1.89"/><circle cx="347.7" cy="474.1" r="1.71"/><circle cx="354.2" cy="475.6" r="1.80"/><circle cx="356.4" cy="475.1" r="2.02"/><circle cx="363.1" cy="475.8" r="1.99"/><circle cx="367.5" cy="473.6" r="2.03"/><circle cx="320.4" cy="477.8" r="1.52"/><circle cx="327.3" cy="477.0" r="1.71"/><circle cx="337.6" cy="478.5" r="1.81"/><circle cx="343.5" cy="479.3" r="2.08"/><circle cx="347.4" cy="480.0" r="1.77"/><circle cx="349.8" cy="478.7" r="1.56"/><circle cx="356.4" cy="478.8" r="1.81"/><circle cx="360.0" cy="476.8" r="1.87"/><circle cx="315.5" cy="481.1" r="2.03"/><circle cx="319.9" cy="483.5" r="1.52"/><circle cx="332.4" cy="481.0" r="2.04"/><circle cx="336.4" cy="482.5" r="1.80"/><circle cx="340.3" cy="483.2" r="1.54"/><circle cx="346.1" cy="483.5" r="2.01"/><circle cx="349.3" cy="483.7" r="1.54"/><circle cx="355.5" cy="482.4" r="1.69"/><circle cx="311.6" cy="486.8" r="1.66"/><circle cx="315.8" cy="485.7" r="1.60"/><circle cx="326.5" cy="487.0" r="1.76"/><circle cx="331.1" cy="484.2" r="1.69"/><circle cx="335.4" cy="485.5" r="2.10"/><circle cx="338.2" cy="485.5" r="1.93"/><circle cx="342.1" cy="485.2" r="1.83"/><circle cx="347.8" cy="486.3" r="1.59"/><circle cx="352.3" cy="484.5" r="1.84"/><circle cx="355.1" cy="485.2" r="1.81"/><circle cx="314.2" cy="488.0" r="1.84"/><circle cx="319.6" cy="490.1" r="1.95"/><circle cx="322.5" cy="490.8" r="1.98"/><circle cx="325.2" cy="491.2" r="1.62"/><circle cx="330.7" cy="488.1" r="1.82"/><circle cx="337.2" cy="489.4" r="1.51"/><circle cx="341.8" cy="488.0" r="1.70"/><circle cx="345.2" cy="488.5" r="1.55"/><circle cx="348.5" cy="490.2" r="1.95"/><circle cx="311.2" cy="492.0" r="1.80"/><circle cx="318.2" cy="494.7" r="1.70"/><circle cx="325.0" cy="491.8" r="2.01"/><circle cx="330.7" cy="491.5" r="2.07"/><circle cx="331.9" cy="492.5" r="1.66"/><circle cx="342.9" cy="493.9" r="1.88"/><circle cx="346.0" cy="494.1" r="1.74"/><circle cx="314.3" cy="495.7" r="1.96"/><circle cx="319.7" cy="497.4" r="1.52"/><circle cx="326.0" cy="497.4" r="1.75"/><circle cx="336.5" cy="495.1" r="1.91"/><circle cx="338.6" cy="496.8" r="1.73"/><circle cx="310.6" cy="500.5" r="1.67"/><circle cx="315.6" cy="502.4" r="2.10"/><circle cx="319.7" cy="501.0" r="1.99"/><circle cx="325.0" cy="499.1" r="1.87"/><circle cx="329.6" cy="499.8" r="1.81"/><circle cx="338.7" cy="502.0" r="2.10"/><circle cx="313.3" cy="503.3" r="1.93"/><circle cx="327.5" cy="506.2" r="1.69"/><circle cx="331.6" cy="504.4" r="2.07"/><circle cx="337.2" cy="504.9" r="1.83"/><circle cx="315.7" cy="508.2" r="1.51"/><circle cx="319.5" cy="506.5" r="1.89"/><circle cx="324.1" cy="506.3" r="1.73"/><circle cx="329.9" cy="508.0" r="1.54"/><circle cx="332.3" cy="507.6" r="1.53"/><circle cx="312.8" cy="513.6" r="1.96"/><circle cx="319.0" cy="511.3" r="1.84"/><circle cx="323.2" cy="512.5" r="2.00"/><circle cx="325.7" cy="511.1" r="1.53"/><circle cx="315.5" cy="516.4" r="1.68"/><circle cx="322.2" cy="513.8" r="2.08"/><circle cx="324.3" cy="517.4" r="1.60"/><circle cx="318.5" cy="520.3" r="1.98"/><circle cx="311.6" cy="525.0" r="1.85"/><circle cx="315.6" cy="521.5" r="1.99"/><circle cx="315.7" cy="527.7" r="1.78"/><circle cx="316.6" cy="526.2" r="2.08"/><circle cx="313.9" cy="531.0" r="1.82"/><circle cx="316.0" cy="531.8" r="2.04"/><circle cx="315.2" cy="536.1" r="1.64"/><circle cx="312.5" cy="536.0" r="1.65"/><circle cx="312.5" cy="542.7" r="1.67"/></g>
<g fill="#5a2c1c" opacity="0.85"><circle cx="368.5" cy="441.0" r="2.04"/><circle cx="407.9" cy="442.0" r="1.75"/><circle cx="379.6" cy="448.1" r="2.54"/><circle cx="391.3" cy="446.4" r="1.73"/><circle cx="358.0" cy="451.6" r="1.96"/><circle cx="366.8" cy="453.8" r="2.40"/><circle cx="373.2" cy="453.0" r="1.85"/><circle cx="386.4" cy="454.4" r="2.25"/><circle cx="413.6" cy="454.2" r="2.11"/><circle cx="337.0" cy="457.6" r="1.98"/><circle cx="366.2" cy="465.6" r="2.46"/><circle cx="356.5" cy="471.0" r="2.07"/><circle cx="372.5" cy="470.5" r="1.85"/><circle cx="326.5" cy="477.2" r="1.73"/><circle cx="336.0" cy="478.1" r="2.51"/><circle cx="351.0" cy="474.7" r="2.00"/><circle cx="316.4" cy="483.3" r="2.11"/><circle cx="324.1" cy="478.9" r="1.81"/><circle cx="329.5" cy="479.8" r="2.18"/><circle cx="348.2" cy="480.1" r="1.72"/><circle cx="354.4" cy="479.6" r="2.54"/><circle cx="359.5" cy="482.0" r="1.99"/><circle cx="338.2" cy="486.8" r="2.51"/><circle cx="333.8" cy="493.7" r="1.73"/><circle cx="320.3" cy="496.0" r="1.83"/><circle cx="339.2" cy="502.8" r="1.89"/><circle cx="311.0" cy="510.7" r="2.55"/><circle cx="316.5" cy="512.2" r="2.50"/><circle cx="328.7" cy="512.8" r="2.53"/><circle cx="317.2" cy="518.3" r="2.44"/><circle cx="317.5" cy="528.9" r="2.10"/><circle cx="313.8" cy="531.8" r="1.72"/></g>
<g fill="#8486cc" opacity="0.8"><circle cx="327.9" cy="453.1" r="1.69"/><circle cx="331.2" cy="458.0" r="1.66"/><circle cx="400.0" cy="462.6" r="2.09"/><circle cx="406.3" cy="469.1" r="2.33"/><circle cx="311.2" cy="472.3" r="1.38"/><circle cx="376.8" cy="478.4" r="1.62"/><circle cx="397.0" cy="482.4" r="1.91"/><circle cx="351.2" cy="493.7" r="1.31"/><circle cx="353.8" cy="496.6" r="1.61"/><circle cx="372.5" cy="501.5" r="2.00"/><circle cx="399.3" cy="499.1" r="2.21"/><circle cx="417.9" cy="499.8" r="1.84"/><circle cx="348.1" cy="508.3" r="1.66"/><circle cx="367.3" cy="506.9" r="2.22"/><circle cx="382.2" cy="508.4" r="1.45"/><circle cx="363.3" cy="521.1" r="1.72"/><circle cx="397.0" cy="519.7" r="2.23"/><circle cx="398.4" cy="524.8" r="1.32"/><circle cx="359.1" cy="529.4" r="2.15"/><circle cx="368.1" cy="526.6" r="1.66"/><circle cx="376.4" cy="530.9" r="1.62"/><circle cx="408.0" cy="529.5" r="1.45"/><circle cx="371.5" cy="533.6" r="2.20"/><circle cx="414.5" cy="536.6" r="2.18"/></g>
<g fill="#5a2e1c" opacity="0.75"><circle cx="306.4" cy="445.2" r="1.69"/><circle cx="395.1" cy="464.2" r="2.38"/><circle cx="385.0" cy="471.9" r="2.59"/><circle cx="367.4" cy="481.2" r="2.15"/><circle cx="414.7" cy="512.6" r="2.13"/><circle cx="353.6" cy="528.4" r="2.10"/></g>
</g>
<rect x="312" y="439.2" width="101.60000000000002" height="99.90000000000003" fill="none" stroke="#111" stroke-width="1.5"/>
<rect x="434.8" y="448.1" width="26.399999999999977" height="25.899999999999977" fill="none" stroke="#111" stroke-width="1.5"/>
</g>
<g id="young-chart">
<text x="154.6" y="187.5" font-size="9.8" font-weight="bold" text-anchor="middle" fill="#111">Young PS19 (3 months)</text>
<text transform="translate(24.3,278) rotate(-90)" font-size="9.8" font-weight="bold" text-anchor="middle" fill="#111">Hpx AT8+ cells</text>
<line x1="43.8" y1="350.5" x2="48.5" y2="350.5" stroke="#222" stroke-width="1"/>
<text x="41.5" y="354.00" font-size="9.8" font-weight="bold" text-anchor="end" fill="#111">0</text>
<line x1="43.8" y1="314.5" x2="48.5" y2="314.5" stroke="#222" stroke-width="1"/>
<text x="41.5" y="318.00" font-size="9.8" font-weight="bold" text-anchor="end" fill="#111">20</text>
<line x1="43.8" y1="278.5" x2="48.5" y2="278.5" stroke="#222" stroke-width="1"/>
<text x="41.5" y="282.00" font-size="9.8" font-weight="bold" text-anchor="end" fill="#111">40</text>
<line x1="43.8" y1="242.5" x2="48.5" y2="242.5" stroke="#222" stroke-width="1"/>
<text x="41.5" y="246.00" font-size="9.8" font-weight="bold" text-anchor="end" fill="#111">60</text>
<line x1="43.8" y1="206.5" x2="48.5" y2="206.5" stroke="#222" stroke-width="1"/>
<text x="41.5" y="210.00" font-size="9.8" font-weight="bold" text-anchor="end" fill="#111">80</text>
<line x1="48.5" y1="206" x2="48.5" y2="351" stroke="#222" stroke-width="1"/>
<line x1="74.5" y1="350.5" x2="74.5" y2="355.5" stroke="#222" stroke-width="1"/>
<text x="72.5" y="367.5" font-size="9.8" font-weight="bold" text-anchor="middle" fill="#111">1w.p.t.</text>
<line x1="129.5" y1="350.5" x2="129.5" y2="355.5" stroke="#222" stroke-width="1"/>
<text x="127.5" y="367.5" font-size="9.8" font-weight="bold" text-anchor="middle" fill="#111">1m.p.t.</text>
<line x1="184.5" y1="350.5" x2="184.5" y2="355.5" stroke="#222" stroke-width="1"/>
<text x="182.5" y="367.5" font-size="9.8" font-weight="bold" text-anchor="middle" fill="#111">3m.p.t.</text>
<line x1="240.5" y1="350.5" x2="240.5" y2="355.5" stroke="#222" stroke-width="1"/>
<text x="238.5" y="367.5" font-size="9.8" font-weight="bold" text-anchor="middle" fill="#111">6m.p.t.</text>
<circle cx="68" cy="216.5" r="2.6" fill="#3050b4"/>
<text x="85" y="220" font-size="9.8" fill="#4a64c0">Sham</text>
<rect x="65.2" y="233" width="5.6" height="5.6" fill="#e8202a"/>
<text x="85" y="239.5" font-size="9.8" fill="#e83030">rTBI</text>
<clipPath id="yclip"><rect x="49" y="190" width="220" height="160.5"/></clipPath>
<g clip-path="url(#yclip)">
<circle cx="64.50" cy="350.3" r="2.8" fill="#3050b4"/>
<circle cx="68.00" cy="350.3" r="2.8" fill="#3050b4"/>
<circle cx="71.50" cy="350.3" r="2.8" fill="#3050b4"/>
<rect x="78.20" y="347.3" width="12.8" height="3.5" fill="#e8202a"/>
<circle cx="119.50" cy="350.3" r="2.8" fill="#3050b4"/>
<circle cx="123.00" cy="350.3" r="2.8" fill="#3050b4"/>
<circle cx="126.50" cy="350.3" r="2.8" fill="#3050b4"/>
<rect x="133.20" y="347.3" width="12.8" height="3.5" fill="#e8202a"/>
<rect x="168.00" y="347.80" width="14" height="2.70" fill="none" stroke="#5a78c8" stroke-width="1"/>
<rect x="188.30" y="307.30" width="14" height="43.20" fill="none" stroke="#ec3a3a" stroke-width="1"/>
<circle cx="170.7" cy="343.30" r="2.7" fill="#3050b4"/>
<circle cx="174.5" cy="349.06" r="2.7" fill="#3050b4"/>
<circle cx="178.5" cy="349.60" r="2.7" fill="#3050b4"/>
<rect x="192.10" y="241.30" width="6" height="6" fill="#e8202a"/>
<rect x="192.10" y="266.50" width="6" height="6" fill="#e8202a"/>
<rect x="192.10" y="327.70" width="6" height="6" fill="#e8202a"/>
<rect x="188.40" y="339.76" width="6" height="6" fill="#e8202a"/>
<rect x="195.80" y="343.54" width="6" height="6" fill="#e8202a"/>
<line x1="175.0" y1="350.50" x2="175.0" y2="346.00" stroke="#111" stroke-width="1"/>
<line x1="171.7" y1="350.50" x2="178.3" y2="350.50" stroke="#111" stroke-width="1"/>
<line x1="171.7" y1="346.00" x2="178.3" y2="346.00" stroke="#111" stroke-width="1"/>
<line x1="195.3" y1="328.54" x2="195.3" y2="286.78" stroke="#111" stroke-width="1"/>
<line x1="192.0" y1="328.54" x2="198.60000000000002" y2="328.54" stroke="#111" stroke-width="1"/>
<line x1="192.0" y1="286.78" x2="198.60000000000002" y2="286.78" stroke="#111" stroke-width="1"/>
<rect x="222.40" y="334.66" width="14" height="15.84" fill="none" stroke="#5a78c8" stroke-width="1"/>
<rect x="243.50" y="322.60" width="14" height="27.90" fill="none" stroke="#ec3a3a" stroke-width="1"/>
<circle cx="226.4" cy="327.10" r="2.7" fill="#3050b4"/>
<circle cx="232.8" cy="334.30" r="2.7" fill="#3050b4"/>
<circle cx="229.7" cy="342.22" r="2.7" fill="#3050b4"/>
<rect x="247.80" y="212.50" width="6" height="6" fill="#e8202a"/>
<rect x="245.50" y="333.10" width="6" height="6" fill="#e8202a"/>
<rect x="249.50" y="331.30" width="6" height="6" fill="#e8202a"/>
<rect x="244.50" y="338.50" width="6" height="6" fill="#e8202a"/>
<rect x="247.50" y="336.70" width="6" height="6" fill="#e8202a"/>
<rect x="250.00" y="340.30" width="6" height="6" fill="#e8202a"/>
<rect x="252.00" y="344.80" width="6" height="6" fill="#e8202a"/>
<rect x="246.00" y="342.10" width="6" height="6" fill="#e8202a"/>
<line x1="230.6" y1="341.50" x2="230.6" y2="329.80" stroke="#111" stroke-width="1"/>
<line x1="227.29999999999998" y1="341.50" x2="233.9" y2="341.50" stroke="#111" stroke-width="1"/>
<line x1="227.29999999999998" y1="329.80" x2="233.9" y2="329.80" stroke="#111" stroke-width="1"/>
<line x1="251.0" y1="340.60" x2="251.0" y2="304.60" stroke="#111" stroke-width="1"/>
<line x1="247.7" y1="340.60" x2="254.3" y2="340.60" stroke="#111" stroke-width="1"/>
<line x1="247.7" y1="304.60" x2="254.3" y2="304.60" stroke="#111" stroke-width="1"/>
</g>
<line x1="48.3" y1="350.5" x2="265.2" y2="350.5" stroke="#222" stroke-width="1"/>
</g>
<g id="old-chart">
<text x="173.5" y="578.6" font-size="13.8" font-weight="bold" text-anchor="middle" fill="#111">Old PS19 (7 months)</text>
<text transform="translate(29.8,667.7) rotate(-90)" font-size="12.1" font-weight="bold" text-anchor="middle" fill="#111">Hpx AT8+ cells</text>
<line x1="61" y1="740.5" x2="65.5" y2="740.5" stroke="#333" stroke-width="1"/>
<text x="60" y="744.30" font-size="10.7" font-weight="bold" text-anchor="end" fill="#111">0</text>
<line x1="61" y1="704.5" x2="65.5" y2="704.5" stroke="#333" stroke-width="1"/>
<text x="60" y="708.11" font-size="10.7" font-weight="bold" text-anchor="end" fill="#111">2000</text>
<line x1="61" y1="668.5" x2="65.5" y2="668.5" stroke="#333" stroke-width="1"/>
<text x="60" y="671.92" font-size="10.7" font-weight="bold" text-anchor="end" fill="#111">4000</text>
<line x1="61" y1="631.5" x2="65.5" y2="631.5" stroke="#333" stroke-width="1"/>
<text x="60" y="635.74" font-size="10.7" font-weight="bold" text-anchor="end" fill="#111">6000</text>
<line x1="61" y1="595.5" x2="65.5" y2="595.5" stroke="#333" stroke-width="1"/>
<text x="60" y="599.55" font-size="10.7" font-weight="bold" text-anchor="end" fill="#111">8000</text>
<line x1="65.5" y1="595.2" x2="65.5" y2="741" stroke="#333" stroke-width="1"/>
<circle cx="87" cy="603.3" r="3" fill="#2c4cb0"/>
<text x="103.7" y="607.5" font-size="12" fill="#111">Sham</text>
<circle cx="87" cy="623.3" r="3" fill="#e82828"/>
<text x="103.7" y="627.5" font-size="11.6" fill="#111">rmTBI</text>
<text x="174.3" y="605" font-size="10.8" text-anchor="middle" fill="#111">*, p=0.022</text>
<line x1="152.5" y1="612.5" x2="196.5" y2="612.5" stroke="#333" stroke-width="1"/>
<text x="246.5" y="592" font-size="11" text-anchor="middle" fill="#111">p=0.086</text>
<line x1="223" y1="597.5" x2="271.6" y2="597.5" stroke="#333" stroke-width="1"/>
<text x="102" y="715" font-size="10.9" text-anchor="middle" fill="#111">p&gt;0.999</text>
<line x1="79.4" y1="718" x2="123.6" y2="718" stroke="#333" stroke-width="1"/>
<rect x="180.00" y="682.24" width="22.5" height="58.26" fill="none" stroke="#222" stroke-width="1"/>
<line x1="191.25" y1="702.50" x2="191.25" y2="662.50" stroke="#222" stroke-width="1"/>
<line x1="185.85" y1="702.50" x2="196.65" y2="702.50" stroke="#222" stroke-width="1"/>
<line x1="185.85" y1="662.50" x2="196.65" y2="662.50" stroke="#222" stroke-width="1"/>
<rect x="248.50" y="701.24" width="22.5" height="39.26" fill="none" stroke="#222" stroke-width="1"/>
<line x1="260" y1="720.00" x2="260" y2="683.30" stroke="#222" stroke-width="1"/>
<line x1="254.6" y1="720.00" x2="265.4" y2="720.00" stroke="#222" stroke-width="1"/>
<line x1="254.6" y1="683.30" x2="265.4" y2="683.30" stroke="#222" stroke-width="1"/>
<rect x="111.15" y="737.06" width="22.5" height="3.44" fill="none" stroke="#222" stroke-width="1"/>
<line x1="88" y1="740.00" x2="88" y2="739.20" stroke="#222" stroke-width="1"/>
<line x1="83.5" y1="740.00" x2="92.5" y2="740.00" stroke="#222" stroke-width="1"/>
<line x1="83.5" y1="739.20" x2="92.5" y2="739.20" stroke="#222" stroke-width="1"/>
<line x1="122.4" y1="739.50" x2="122.4" y2="736.50" stroke="#222" stroke-width="1"/>
<line x1="117.9" y1="739.50" x2="126.9" y2="739.50" stroke="#222" stroke-width="1"/>
<line x1="117.9" y1="736.50" x2="126.9" y2="736.50" stroke="#222" stroke-width="1"/>
<clipPath id="oclip"><rect x="66" y="590" width="230" height="150.5"/></clipPath>
<g clip-path="url(#oclip)">
<circle cx="80" cy="738.6" r="2.8" fill="#2c4cb0"/>
<circle cx="84.5" cy="738.4" r="2.8" fill="#2c4cb0"/>
<circle cx="89.5" cy="737.8" r="2.8" fill="#2c4cb0"/>
<circle cx="94" cy="737.6" r="2.8" fill="#2c4cb0"/>
<circle cx="97.5" cy="738.6" r="2.8" fill="#2c4cb0"/>
<circle cx="148.8" cy="736.6" r="2.8" fill="#2c4cb0"/>
<circle cx="153.8" cy="738.6" r="2.8" fill="#2c4cb0"/>
<circle cx="160" cy="739" r="2.8" fill="#2c4cb0"/>
<circle cx="165" cy="739.2" r="2.8" fill="#2c4cb0"/>
<circle cx="217.5" cy="740" r="2.8" fill="#2c4cb0"/>
<circle cx="222.5" cy="740" r="2.8" fill="#2c4cb0"/>
<circle cx="227.5" cy="740" r="2.8" fill="#2c4cb0"/>
<circle cx="233" cy="740" r="2.8" fill="#2c4cb0"/>
<circle cx="114" cy="737.6" r="2.9" fill="#e82828"/>
<circle cx="118" cy="738.6" r="2.9" fill="#e82828"/>
<circle cx="122.4" cy="736.8" r="2.9" fill="#e82828"/>
<circle cx="128" cy="732.6" r="2.9" fill="#e82828"/>
<circle cx="131" cy="739" r="2.9" fill="#e82828"/>
<circle cx="185" cy="635.5" r="2.9" fill="#e82828"/>
<circle cx="197" cy="640.5" r="2.9" fill="#e82828"/>
<circle cx="191.25" cy="686.3" r="2.9" fill="#e82828"/>
<circle cx="191.25" cy="709.5" r="2.9" fill="#e82828"/>
<circle cx="191.25" cy="740.3" r="2.9" fill="#e82828"/>
<circle cx="259.5" cy="608" r="2.9" fill="#e82828"/>
<circle cx="257.3" cy="660.5" r="2.9" fill="#e82828"/>
<circle cx="262" cy="660.5" r="2.9" fill="#e82828"/>
<circle cx="251.75" cy="732" r="2.9" fill="#e82828"/>
<circle cx="255.5" cy="734.5" r="2.9" fill="#e82828"/>
<circle cx="259.5" cy="738.3" r="2.9" fill="#e82828"/>
<circle cx="263.75" cy="739.3" r="2.9" fill="#e82828"/>
<circle cx="267.5" cy="740.2" r="2.9" fill="#e82828"/>
</g>
<line x1="65.2" y1="740.5" x2="283.5" y2="740.5" stroke="#333" stroke-width="1"/>
<line x1="88.5" y1="740.5" x2="88.5" y2="743.5" stroke="#333" stroke-width="1"/>
<line x1="122.5" y1="740.5" x2="122.5" y2="743.5" stroke="#333" stroke-width="1"/>
<line x1="157.5" y1="740.5" x2="157.5" y2="743.5" stroke="#333" stroke-width="1"/>
<line x1="191.5" y1="740.5" x2="191.5" y2="743.5" stroke="#333" stroke-width="1"/>
<line x1="225.5" y1="740.5" x2="225.5" y2="743.5" stroke="#333" stroke-width="1"/>
<line x1="260.5" y1="740.5" x2="260.5" y2="743.5" stroke="#333" stroke-width="1"/>
<line x1="79.4" y1="747.5" x2="122.4" y2="747.5" stroke="#444" stroke-width="1"/>
<line x1="153.8" y1="747.5" x2="197" y2="747.5" stroke="#444" stroke-width="1"/>
<line x1="226.3" y1="747.5" x2="268.8" y2="747.5" stroke="#444" stroke-width="1"/>
<text x="106.5" y="762.6" font-size="14" text-anchor="middle" fill="#111">1w.p.t.</text>
<text x="177.5" y="762.6" font-size="14" text-anchor="middle" fill="#111">1m.p.t.</text>
<text x="249.6" y="762.6" font-size="14" text-anchor="middle" fill="#111">3m.p.t.</text>
</g>
<g id="schematic">
<line x1="303.2" y1="262.6" x2="471" y2="262.6" stroke="#4a7fc1" stroke-width="1.7"/>
<line x1="304.2" y1="258.8" x2="304.2" y2="262.6" stroke="#4a7fc1" stroke-width="1"/>
<line x1="307.6" y1="258.8" x2="307.6" y2="262.6" stroke="#4a7fc1" stroke-width="1"/>
<line x1="356.5" y1="258.8" x2="356.5" y2="262.6" stroke="#4a7fc1" stroke-width="1"/>
<line x1="393.3" y1="258.8" x2="393.3" y2="262.6" stroke="#4a7fc1" stroke-width="1"/>
<line x1="420.5" y1="258.8" x2="420.5" y2="262.6" stroke="#4a7fc1" stroke-width="1"/>
<line x1="456.6" y1="258.8" x2="456.6" y2="262.6" stroke="#4a7fc1" stroke-width="1"/>
<rect x="371.5" y="261.1" width="6" height="3" fill="#fff"/>
<path d="M371.3,266.8 L373.7,258.40000000000003 M375.3,266.8 L377.7,258.40000000000003" stroke="#4a7fc1" stroke-width="1"/>
<path d="M466,259.40000000000003 L471,262.6 L466,265.8" fill="none" stroke="#4a7fc1" stroke-width="1.3"/>
<path d="M299.2,250.4 l2.2,4.2 l-1,0.2 l2.6,4.4 M302.2,250.4 l2.2,4.2 l-1,0.2 l2.6,4.4" fill="none" stroke="#e02020" stroke-width="1.3"/>
<text x="301.3" y="243" font-size="9.6" textLength="17.20" lengthAdjust="spacingAndGlyphs" fill="#111" >rTBI</text>
<text x="288.5" y="274.5" font-size="9" textLength="26.60" lengthAdjust="spacingAndGlyphs" fill="#111" >Day 0 1</text>
<text x="342.5" y="274.5" font-size="9" textLength="26.30" lengthAdjust="spacingAndGlyphs" fill="#111" >1w.p.t.</text>
<text x="376" y="274.5" font-size="9" textLength="25.30" lengthAdjust="spacingAndGlyphs" fill="#111" >1m.p.t</text>
<text x="409.3" y="274.5" font-size="9" textLength="28.00" lengthAdjust="spacingAndGlyphs" fill="#111" >3m.p.t.</text>
<text x="444" y="274.5" font-size="9" textLength="27.00" lengthAdjust="spacingAndGlyphs" fill="#111" >6m.p.t.</text>
<line x1="427.6" y1="344.7" x2="587.6" y2="344.7" stroke="#4a7fc1" stroke-width="1.7"/>
<line x1="428.4" y1="340.9" x2="428.4" y2="344.7" stroke="#4a7fc1" stroke-width="1"/>
<line x1="430.9" y1="340.9" x2="430.9" y2="344.7" stroke="#4a7fc1" stroke-width="1"/>
<line x1="478.4" y1="340.9" x2="478.4" y2="344.7" stroke="#4a7fc1" stroke-width="1"/>
<line x1="513.5" y1="340.9" x2="513.5" y2="344.7" stroke="#4a7fc1" stroke-width="1"/>
<line x1="574.6" y1="340.9" x2="574.6" y2="344.7" stroke="#4a7fc1" stroke-width="1"/>
<rect x="493" y="343.2" width="6" height="3" fill="#fff"/>
<path d="M492.8,348.9 L495.2,340.5 M496.8,348.9 L499.2,340.5" stroke="#4a7fc1" stroke-width="1"/>
<rect x="540.1" y="343.2" width="6" height="3" fill="#fff"/>
<path d="M539.9,348.9 L542.3000000000001,340.5 M543.9,348.9 L546.3000000000001,340.5" stroke="#4a7fc1" stroke-width="1"/>
<path d="M582.1,341.5 L587.6,344.7 L582.1,347.9" fill="none" stroke="#4a7fc1" stroke-width="1.3"/>
<path d="M423.0,332.8 l2.2,4.2 l-1,0.2 l2.6,4.4 M426.0,332.8 l2.2,4.2 l-1,0.2 l2.6,4.4" fill="none" stroke="#e02020" stroke-width="1.3"/>
<text x="425.7" y="326.5" font-size="9.6" textLength="16.70" lengthAdjust="spacingAndGlyphs" fill="#111" >rTBI</text>
<text x="409.2" y="356.8" font-size="11.2" textLength="32.20" lengthAdjust="spacingAndGlyphs" fill="#111" >Day0 1</text>
<text x="465.4" y="356.8" font-size="11.2" textLength="29.70" lengthAdjust="spacingAndGlyphs" fill="#111" >1w.p.t.</text>
<text x="499.9" y="356.8" font-size="11.2" textLength="31.50" lengthAdjust="spacingAndGlyphs" fill="#111" >1m.p.t.</text>
<text x="560.6" y="356.8" font-size="11.2" textLength="31.50" lengthAdjust="spacingAndGlyphs" fill="#111" >3m.p.t.</text>
<path d="M468,210.5 L508.5,210.5 L508.5,234.5 L514,234.5 L505,243.5 L496.5,234.5 L501,234.5 L501,215.6 L468,215.6 Z" fill="#4472c4" stroke="#2f5597" stroke-width="0.6"/>
<g transform="translate(381,191)"><path d="M-3,0 C0,-6 4,-8.5 8,-8.3 C14,-8 18,-6 22.3,-4.3 C26,-2.5 29,1.5 31.7,2.3 C33.5,2.8 35.5,2.5 36.3,1.2" fill="none" stroke="#26323c" stroke-width="3.66" stroke-linecap="round"/><path d="M-3,0 C0,-6 4,-8.5 8,-8.3 C14,-8 18,-6 22.3,-4.3 C26,-2.5 29,1.5 31.7,2.3 C33.5,2.8 35.5,2.5 36.3,1.2" fill="none" stroke="#a6d5ea" stroke-width="1.9" stroke-linecap="round"/><path d="M31.5,2.3 C33.5,2.8 35.5,2.5 36.3,1.2" fill="none" stroke="#26323c" stroke-width="1.9" stroke-linecap="round"/><path d="M0,0 C10,0 16.6,7 17.1,15.8 C19.2,16.6 19.6,19.5 19.3,22 C19,24.8 18,26.2 16.7,26.8 C14.5,32.5 7.5,38.8 0,42.6 C-7.5,38.8 -14.5,32.5 -16.7,26.8 C-18,26.2 -19,24.8 -19.3,22 C-19.6,19.5 -19.2,16.6 -17.1,15.8 C-16.6,7 -10,0 0,0 Z" fill="#a6d5ea" stroke="#26323c" stroke-width="1.1" stroke-linejoin="round"/><path d="M5.4,23 C6.3,18.5 11,16.2 15,16.2 C17.5,16.3 19.2,17.8 19.5,21.5 L18.5,22.3 C16,21 12.5,20.8 10,21.6 C8,22.3 6.6,23.2 5.9,24.5 Z" fill="#8c9296"/><path d="M4.6,25 C4.6,21 6.3,18 9.5,16.6 C12.5,15.6 16,15.6 17.8,16.4" fill="none" stroke="#26323c" stroke-width="0.935" stroke-linecap="round"/><path d="M-5.4,23 C-6.3,18.5 -11,16.2 -15,16.2 C-17.5,16.3 -19.2,17.8 -19.5,21.5 L-18.5,22.3 C-16,21 -12.5,20.8 -10,21.6 C-8,22.3 -6.6,23.2 -5.9,24.5 Z" fill="#8c9296"/><path d="M-4.6,25 C-4.6,21 -6.3,18 -9.5,16.6 C-12.5,15.6 -16,15.6 -17.8,16.4" fill="none" stroke="#26323c" stroke-width="0.935" stroke-linecap="round"/><circle cx="-4.6" cy="34.3" r="1.45" fill="#151515"/><circle cx="4.8" cy="34.3" r="1.45" fill="#151515"/><ellipse cx="0.2" cy="41.4" rx="1.7" ry="1.25" fill="#111"/><path d="M3.8,39.3 L13,38.3 M3.8,40 L13,42.3 M3.6,40.6 L10.5,45.2 M3.2,41 L6.8,46" stroke="#3a3a3a" stroke-width="0.6" fill="none"/><path d="M-3.8,39.3 L-13,38.3 M-3.8,40 L-13,42.3 M-3.6,40.6 L-10.5,45.2 M-3.2,41 L-6.8,46" stroke="#3a3a3a" stroke-width="0.6" fill="none"/><text x="0.3" y="7.8" font-size="6.9" text-anchor="middle" textLength="16.7" lengthAdjust="spacingAndGlyphs" fill="#24343f">PS19</text><text x="0.3" y="15.5" font-size="6.9" text-anchor="middle" textLength="18" lengthAdjust="spacingAndGlyphs" fill="#24343f">(3mo)</text></g>
<path transform="translate(415.4,203.3) scale(1.0)" d="M0,0 L5.6,2.2 L1.6,4.9 L2.9,5.3 L-7.2,9.9 L-2.6,4.6 L-3.9,4.3 Z" fill="#fff" stroke="#dc2020" stroke-width="1.25" stroke-linejoin="miter"/>
<path transform="translate(415.4,213.8) scale(1.0)" d="M0,0 L5.6,2.2 L1.6,4.9 L2.9,5.3 L-7.2,9.9 L-2.6,4.6 L-3.9,4.3 Z" fill="#fff" stroke="#dc2020" stroke-width="1.25" stroke-linejoin="miter"/>
<g transform="translate(509,278.3)"><path d="M-3,0 C0,-6 4,-8.5 8,-8.3 C14,-8 18,-6 22.3,-4.3 C26,-2.5 29,1.5 31.7,2.3 C33.5,2.8 35.5,2.5 36.3,1.2" fill="none" stroke="#050505" stroke-width="4.14" stroke-linecap="round"/><path d="M-3,0 C0,-6 4,-8.5 8,-8.3 C14,-8 18,-6 22.3,-4.3 C26,-2.5 29,1.5 31.7,2.3 C33.5,2.8 35.5,2.5 36.3,1.2" fill="none" stroke="#1a98c6" stroke-width="1.9" stroke-linecap="round"/><path d="M31.5,2.3 C33.5,2.8 35.5,2.5 36.3,1.2" fill="none" stroke="#050505" stroke-width="1.9" stroke-linecap="round"/><path d="M0,0 C10,0 16.6,7 17.1,15.8 C19.2,16.6 19.6,19.5 19.3,22 C19,24.8 18,26.2 16.7,26.8 C14.5,32.5 7.5,38.8 0,42.6 C-7.5,38.8 -14.5,32.5 -16.7,26.8 C-18,26.2 -19,24.8 -19.3,22 C-19.6,19.5 -19.2,16.6 -17.1,15.8 C-16.6,7 -10,0 0,0 Z" fill="#1a98c6" stroke="#050505" stroke-width="1.4" stroke-linejoin="round"/><path d="M5.4,23 C6.3,18.5 11,16.2 15,16.2 C17.5,16.3 19.2,17.8 19.5,21.5 L18.5,22.3 C16,21 12.5,20.8 10,21.6 C8,22.3 6.6,23.2 5.9,24.5 Z" fill="#7f868a"/><path d="M4.6,25 C4.6,21 6.3,18 9.5,16.6 C12.5,15.6 16,15.6 17.8,16.4" fill="none" stroke="#050505" stroke-width="1.19" stroke-linecap="round"/><path d="M-5.4,23 C-6.3,18.5 -11,16.2 -15,16.2 C-17.5,16.3 -19.2,17.8 -19.5,21.5 L-18.5,22.3 C-16,21 -12.5,20.8 -10,21.6 C-8,22.3 -6.6,23.2 -5.9,24.5 Z" fill="#7f868a"/><path d="M-4.6,25 C-4.6,21 -6.3,18 -9.5,16.6 C-12.5,15.6 -16,15.6 -17.8,16.4" fill="none" stroke="#050505" stroke-width="1.19" stroke-linecap="round"/><circle cx="-4.6" cy="34.3" r="1.45" fill="#151515"/><circle cx="4.8" cy="34.3" r="1.45" fill="#151515"/><ellipse cx="0.2" cy="41.4" rx="1.7" ry="1.25" fill="#111"/><path d="M3.8,39.3 L13,38.3 M3.8,40 L13,42.3 M3.6,40.6 L10.5,45.2 M3.2,41 L6.8,46" stroke="#3a3a3a" stroke-width="0.6" fill="none"/><path d="M-3.8,39.3 L-13,38.3 M-3.8,40 L-13,42.3 M-3.6,40.6 L-10.5,45.2 M-3.2,41 L-6.8,46" stroke="#3a3a3a" stroke-width="0.6" fill="none"/><text x="0.3" y="7.8" font-size="7.6" text-anchor="middle" textLength="18.7" lengthAdjust="spacingAndGlyphs" fill="#0b2230">PS19</text><text x="0.3" y="15.5" font-size="7.6" text-anchor="middle" textLength="19.4" lengthAdjust="spacingAndGlyphs" fill="#0b2230">(7mo)</text></g>
<path transform="translate(542.5,291.7) scale(1.0)" d="M0,0 L5.6,2.2 L1.6,4.9 L2.9,5.3 L-7.2,9.9 L-2.6,4.6 L-3.9,4.3 Z" fill="#fff" stroke="#dc2020" stroke-width="1.25" stroke-linejoin="miter"/>
<path transform="translate(542.5,301.7) scale(1.0)" d="M0,0 L5.6,2.2 L1.6,4.9 L2.9,5.3 L-7.2,9.9 L-2.6,4.6 L-3.9,4.3 Z" fill="#fff" stroke="#dc2020" stroke-width="1.25" stroke-linejoin="miter"/>
</g>
<g id="blots">
<defs><filter id="bb" x="-20%" y="-50%" width="140%" height="200%"><feGaussianBlur stdDeviation="0.7"/></filter><filter id="lb" x="-10%" y="-10%" width="120%" height="120%"><feGaussianBlur stdDeviation="0.7 0.6"/></filter></defs>
<text x="387" y="575" font-size="11.3" textLength="28.00" lengthAdjust="spacingAndGlyphs" fill="#1e1e1e" >PS19</text>
<line x1="370" y1="578.3" x2="429.5" y2="578.3" stroke="#666" stroke-width="0.9"/>
<text x="435" y="575" font-size="11.3" textLength="16.50" lengthAdjust="spacingAndGlyphs" fill="#1e1e1e" >WT</text>
<text x="478.5" y="575" font-size="11.3" textLength="27.50" lengthAdjust="spacingAndGlyphs" fill="#1e1e1e" >PS19</text>
<line x1="462" y1="578.6" x2="522" y2="578.6" stroke="#666" stroke-width="0.9"/>
<text x="526.5" y="575" font-size="11.3" textLength="17.10" lengthAdjust="spacingAndGlyphs" fill="#1e1e1e" >WT</text>
<text x="305.5" y="587.5" font-size="9.7" textLength="61.50" lengthAdjust="spacingAndGlyphs" fill="#1e1e1e" >Months of age</text>
<text x="374.5" y="587.5" font-size="10.2" text-anchor="middle" fill="#1e1e1e">3</text>
<text x="391.3" y="587.5" font-size="10.2" text-anchor="middle" fill="#1e1e1e">6</text>
<text x="408" y="587.5" font-size="10.2" text-anchor="middle" fill="#1e1e1e">9</text>
<text x="424.5" y="587.5" font-size="10.2" text-anchor="middle" fill="#1e1e1e">18</text>
<text x="441.3" y="587.5" font-size="10.2" text-anchor="middle" fill="#1e1e1e">20</text>
<text x="469.5" y="587.5" font-size="10.2" text-anchor="middle" fill="#1e1e1e">3</text>
<text x="485.4" y="587.5" font-size="10.2" text-anchor="middle" fill="#1e1e1e">6</text>
<text x="501" y="587.5" font-size="10.2" text-anchor="middle" fill="#1e1e1e">9</text>
<text x="517.5" y="587.5" font-size="10.2" text-anchor="middle" fill="#1e1e1e">18</text>
<text x="537" y="587.5" font-size="10.2" text-anchor="middle" fill="#1e1e1e">20</text>
<text x="312.5" y="597" font-size="9.8" textLength="27.00" lengthAdjust="spacingAndGlyphs" fill="#1e1e1e" >(KDa)</text>
<text x="365.5" y="597" font-size="10.4" text-anchor="end" fill="#1e1e1e">100</text>
<text x="357" y="610.8" font-size="10.4" text-anchor="end" fill="#1e1e1e">75</text>
<line x1="358.5" y1="607" x2="367" y2="607" stroke="#333" stroke-width="0.9"/>
<text x="357" y="639.3" font-size="10.4" text-anchor="end" fill="#1e1e1e">50</text>
<line x1="358.5" y1="635.5" x2="367" y2="635.5" stroke="#333" stroke-width="0.9"/>
<text x="365.5" y="660" font-size="10.4" text-anchor="end" fill="#1e1e1e">37</text>
<line x1="358.5" y1="656.5" x2="367" y2="656.5" stroke="#333" stroke-width="0.9"/>
<text x="365.5" y="666.2" font-size="10.4" text-anchor="end" fill="#1e1e1e">100</text>
<line x1="358.5" y1="661.5" x2="367" y2="661.5" stroke="#333" stroke-width="0.9"/>
<text x="357" y="680.0999999999999" font-size="10.4" text-anchor="end" fill="#1e1e1e">75</text>
<line x1="358.5" y1="676.3" x2="367" y2="676.3" stroke="#333" stroke-width="0.9"/>
<text x="357" y="708.8" font-size="10.4" text-anchor="end" fill="#1e1e1e">50</text>
<line x1="358.5" y1="705" x2="367" y2="705" stroke="#333" stroke-width="0.9"/>
<text x="365.5" y="728.5" font-size="10.4" text-anchor="end" fill="#1e1e1e">37</text>
<line x1="358.5" y1="725.5" x2="367" y2="725.5" stroke="#333" stroke-width="0.9"/>
<text x="365.5" y="736.5" font-size="10.4" text-anchor="end" fill="#1e1e1e">37</text>
<line x1="358.5" y1="731.3" x2="367" y2="731.3" stroke="#333" stroke-width="0.9"/>
<text x="550.5" y="627" font-size="11.3" textLength="27.00" lengthAdjust="spacingAndGlyphs" fill="#1e1e1e" >K9JA</text>
<text x="550.7" y="696" font-size="11.3" textLength="32.00" lengthAdjust="spacingAndGlyphs" fill="#1e1e1e" >PHF-1</text>
<text x="550.7" y="742" font-size="11.3" textLength="40.00" lengthAdjust="spacingAndGlyphs" fill="#1e1e1e" >GAPDH</text>
<text x="373" y="763.8" font-size="11.3" textLength="64.50" lengthAdjust="spacingAndGlyphs" fill="#1e1e1e" >Homogenate</text>
<text x="453.3" y="763.5" font-size="11.3" textLength="92.00" lengthAdjust="spacingAndGlyphs" fill="#1e1e1e" >Sarkosyl-insoluble</text>
<g filter="url(#lb)">
<linearGradient id="lg1" x1="0" y1="0" x2="0" y2="1"><stop offset="0.0000" stop-color="rgb(215,215,215)"/><stop offset="0.1240" stop-color="rgb(205,205,205)"/><stop offset="0.2791" stop-color="rgb(180,180,180)"/><stop offset="0.3411" stop-color="rgb(90,90,90)"/><stop offset="0.3876" stop-color="rgb(30,30,30)"/><stop offset="0.4651" stop-color="rgb(45,45,45)"/><stop offset="0.4961" stop-color="rgb(80,80,80)"/><stop offset="0.5426" stop-color="rgb(35,35,35)"/><stop offset="0.5891" stop-color="rgb(60,60,60)"/><stop offset="0.6512" stop-color="rgb(45,45,45)"/><stop offset="0.6977" stop-color="rgb(110,110,110)"/><stop offset="0.7752" stop-color="rgb(150,150,150)"/><stop offset="0.8682" stop-color="rgb(185,185,185)"/><stop offset="1.0078" stop-color="rgb(205,205,205)"/></linearGradient>
<rect x="368.3" y="592" width="13.399999999999977" height="64.5" fill="url(#lg1)"/>
<linearGradient id="lg2" x1="0" y1="0" x2="0" y2="1"><stop offset="0.0000" stop-color="rgb(215,215,215)"/><stop offset="0.1240" stop-color="rgb(205,205,205)"/><stop offset="0.2791" stop-color="rgb(167,167,167)"/><stop offset="0.3411" stop-color="rgb(65,65,65)"/><stop offset="0.3876" stop-color="rgb(21,21,21)"/><stop offset="0.4651" stop-color="rgb(20,20,20)"/><stop offset="0.4961" stop-color="rgb(55,55,55)"/><stop offset="0.5426" stop-color="rgb(22,22,22)"/><stop offset="0.5891" stop-color="rgb(35,35,35)"/><stop offset="0.6512" stop-color="rgb(20,20,20)"/><stop offset="0.6977" stop-color="rgb(110,110,110)"/><stop offset="0.7752" stop-color="rgb(150,150,150)"/><stop offset="0.8682" stop-color="rgb(185,185,185)"/><stop offset="1.0078" stop-color="rgb(205,205,205)"/></linearGradient>
<rect x="385" y="592" width="14.199999999999989" height="64.5" fill="url(#lg2)"/>
<linearGradient id="lg3" x1="0" y1="0" x2="0" y2="1"><stop offset="0.0000" stop-color="rgb(215,215,215)"/><stop offset="0.1240" stop-color="rgb(205,205,205)"/><stop offset="0.2791" stop-color="rgb(175,175,175)"/><stop offset="0.3411" stop-color="rgb(80,80,80)"/><stop offset="0.3876" stop-color="rgb(26,26,26)"/><stop offset="0.4651" stop-color="rgb(35,35,35)"/><stop offset="0.4961" stop-color="rgb(70,70,70)"/><stop offset="0.5426" stop-color="rgb(30,30,30)"/><stop offset="0.5891" stop-color="rgb(50,50,50)"/><stop offset="0.6512" stop-color="rgb(35,35,35)"/><stop offset="0.6977" stop-color="rgb(110,110,110)"/><stop offset="0.7752" stop-color="rgb(150,150,150)"/><stop offset="0.8682" stop-color="rgb(185,185,185)"/><stop offset="1.0078" stop-color="rgb(205,205,205)"/></linearGradient>
<rect x="401.3" y="592" width="13.699999999999989" height="64.5" fill="url(#lg3)"/>
<linearGradient id="lg4" x1="0" y1="0" x2="0" y2="1"><stop offset="0.0000" stop-color="rgb(215,215,215)"/><stop offset="0.1240" stop-color="rgb(205,205,205)"/><stop offset="0.2791" stop-color="rgb(170,170,170)"/><stop offset="0.3411" stop-color="rgb(70,70,70)"/><stop offset="0.3876" stop-color="rgb(23,23,23)"/><stop offset="0.4651" stop-color="rgb(25,25,25)"/><stop offset="0.4961" stop-color="rgb(60,60,60)"/><stop offset="0.5426" stop-color="rgb(25,25,25)"/><stop offset="0.5891" stop-color="rgb(40,40,40)"/><stop offset="0.6512" stop-color="rgb(25,25,25)"/><stop offset="0.6977" stop-color="rgb(110,110,110)"/><stop offset="0.7752" stop-color="rgb(150,150,150)"/><stop offset="0.8682" stop-color="rgb(185,185,185)"/><stop offset="1.0078" stop-color="rgb(205,205,205)"/></linearGradient>
<rect x="418" y="592" width="14.5" height="64.5" fill="url(#lg4)"/>
<linearGradient id="lg5" x1="0" y1="0" x2="0" y2="1"><stop offset="0.0000" stop-color="rgb(225,225,225)"/><stop offset="0.2171" stop-color="rgb(215,215,215)"/><stop offset="0.3101" stop-color="rgb(170,170,170)"/><stop offset="0.3566" stop-color="rgb(195,195,195)"/><stop offset="0.4186" stop-color="rgb(165,165,165)"/><stop offset="0.4806" stop-color="rgb(195,195,195)"/><stop offset="0.5426" stop-color="rgb(110,110,110)"/><stop offset="0.6202" stop-color="rgb(80,80,80)"/><stop offset="0.6822" stop-color="rgb(150,150,150)"/><stop offset="0.7752" stop-color="rgb(200,200,200)"/><stop offset="1.0078" stop-color="rgb(215,215,215)"/></linearGradient>
<rect x="435.8" y="592" width="15.899999999999977" height="64.5" fill="url(#lg5)"/>
</g>
<rect x="367" y="591.7" width="87.5" height="65" fill="none" stroke="#222" stroke-width="1.2"/>
<g filter="url(#lb)">
<linearGradient id="lg6" x1="0" y1="0" x2="0" y2="1"><stop offset="0.0000" stop-color="rgb(252,252,252)"/><stop offset="0.3101" stop-color="rgb(246,246,246)"/><stop offset="0.4341" stop-color="rgb(236,236,236)"/><stop offset="0.5891" stop-color="rgb(242,242,242)"/><stop offset="1.0000" stop-color="rgb(250,250,250)"/></linearGradient>
<rect x="478.5" y="592" width="14.0" height="64.5" fill="url(#lg6)"/>
<linearGradient id="lg7" x1="0" y1="0" x2="0" y2="1"><stop offset="0.0000" stop-color="rgb(250,250,250)"/><stop offset="0.3101" stop-color="rgb(244,244,244)"/><stop offset="1.0000" stop-color="rgb(248,248,248)"/></linearGradient>
<rect x="494.5" y="592" width="13.5" height="64.5" fill="url(#lg7)"/>
<linearGradient id="lg8" x1="0" y1="0" x2="0" y2="1"><stop offset="0.0000" stop-color="rgb(248,248,248)"/><stop offset="0.2791" stop-color="rgb(238,238,238)"/><stop offset="0.5116" stop-color="rgb(236,236,236)"/><stop offset="0.7442" stop-color="rgb(244,244,244)"/><stop offset="1.0000" stop-color="rgb(248,248,248)"/></linearGradient>
<rect x="510.5" y="592" width="13.5" height="64.5" fill="url(#lg8)"/>
<linearGradient id="lg9" x1="0" y1="0" x2="0" y2="1"><stop offset="0.0000" stop-color="rgb(252,252,252)"/><stop offset="0.4341" stop-color="rgb(246,246,246)"/><stop offset="0.5891" stop-color="rgb(240,240,240)"/><stop offset="1.0000" stop-color="rgb(250,250,250)"/></linearGradient>
<rect x="530" y="592" width="14" height="64.5" fill="url(#lg9)"/>
</g>
<rect x="495" y="618.1" width="12.5" height="2.6" rx="1.3" fill="rgb(110,110,110)" opacity="0.9" filter="url(#bb)"/>
<rect x="510.5" y="616.8" width="13.5" height="3.4" rx="1.7" fill="rgb(40,40,40)" opacity="1" filter="url(#bb)"/>
<rect x="511" y="624.5" width="12.5" height="3" rx="1.5" fill="rgb(225,225,225)" opacity="0.6" filter="url(#bb)"/>
<rect x="457.5" y="591.2" width="87.9" height="65.8" fill="none" stroke="#222" stroke-width="1.2"/>
<g filter="url(#lb)">
<linearGradient id="lg10" x1="0" y1="0" x2="0" y2="1"><stop offset="0.0000" stop-color="rgb(250,250,250)"/><stop offset="0.1575" stop-color="rgb(244,244,244)"/><stop offset="0.2835" stop-color="rgb(238,238,238)"/><stop offset="0.3465" stop-color="rgb(205,205,205)"/><stop offset="0.3858" stop-color="rgb(155,155,155)"/><stop offset="0.4173" stop-color="rgb(125,125,125)"/><stop offset="0.4488" stop-color="rgb(165,165,165)"/><stop offset="0.4803" stop-color="rgb(190,190,190)"/><stop offset="0.5118" stop-color="rgb(175,175,175)"/><stop offset="0.5512" stop-color="rgb(150,150,150)"/><stop offset="0.5984" stop-color="rgb(140,140,140)"/><stop offset="0.6378" stop-color="rgb(155,155,155)"/><stop offset="0.6772" stop-color="rgb(200,200,200)"/><stop offset="0.7402" stop-color="rgb(238,238,238)"/><stop offset="0.9921" stop-color="rgb(248,248,248)"/></linearGradient>
<rect x="368.3" y="662" width="13.399999999999977" height="63.5" fill="url(#lg10)"/>
<linearGradient id="lg11" x1="0" y1="0" x2="0" y2="1"><stop offset="0.0000" stop-color="rgb(250,250,250)"/><stop offset="0.1575" stop-color="rgb(244,244,244)"/><stop offset="0.2835" stop-color="rgb(238,238,238)"/><stop offset="0.3465" stop-color="rgb(205,205,205)"/><stop offset="0.3858" stop-color="rgb(65,65,65)"/><stop offset="0.4173" stop-color="rgb(35,35,35)"/><stop offset="0.4488" stop-color="rgb(75,75,75)"/><stop offset="0.4803" stop-color="rgb(190,190,190)"/><stop offset="0.5118" stop-color="rgb(175,175,175)"/><stop offset="0.5512" stop-color="rgb(130,130,130)"/><stop offset="0.5984" stop-color="rgb(120,120,120)"/><stop offset="0.6378" stop-color="rgb(135,135,135)"/><stop offset="0.6772" stop-color="rgb(200,200,200)"/><stop offset="0.7402" stop-color="rgb(238,238,238)"/><stop offset="0.9921" stop-color="rgb(248,248,248)"/></linearGradient>
<rect x="385" y="662" width="14.199999999999989" height="63.5" fill="url(#lg11)"/>
<linearGradient id="lg12" x1="0" y1="0" x2="0" y2="1"><stop offset="0.0000" stop-color="rgb(250,250,250)"/><stop offset="0.1575" stop-color="rgb(244,244,244)"/><stop offset="0.2835" stop-color="rgb(238,238,238)"/><stop offset="0.3465" stop-color="rgb(205,205,205)"/><stop offset="0.3858" stop-color="rgb(80,80,80)"/><stop offset="0.4173" stop-color="rgb(50,50,50)"/><stop offset="0.4488" stop-color="rgb(90,90,90)"/><stop offset="0.4803" stop-color="rgb(190,190,190)"/><stop offset="0.5118" stop-color="rgb(175,175,175)"/><stop offset="0.5512" stop-color="rgb(140,140,140)"/><stop offset="0.5984" stop-color="rgb(130,130,130)"/><stop offset="0.6378" stop-color="rgb(145,145,145)"/><stop offset="0.6772" stop-color="rgb(200,200,200)"/><stop offset="0.7402" stop-color="rgb(238,238,238)"/><stop offset="0.9921" stop-color="rgb(248,248,248)"/></linearGradient>
<rect x="401.3" y="662" width="13.699999999999989" height="63.5" fill="url(#lg12)"/>
<linearGradient id="lg13" x1="0" y1="0" x2="0" y2="1"><stop offset="0.0000" stop-color="rgb(250,250,250)"/><stop offset="0.1575" stop-color="rgb(244,244,244)"/><stop offset="0.2835" stop-color="rgb(238,238,238)"/><stop offset="0.3465" stop-color="rgb(205,205,205)"/><stop offset="0.3858" stop-color="rgb(75,75,75)"/><stop offset="0.4173" stop-color="rgb(45,45,45)"/><stop offset="0.4488" stop-color="rgb(85,85,85)"/><stop offset="0.4803" stop-color="rgb(190,190,190)"/><stop offset="0.5118" stop-color="rgb(175,175,175)"/><stop offset="0.5512" stop-color="rgb(115,115,115)"/><stop offset="0.5984" stop-color="rgb(105,105,105)"/><stop offset="0.6378" stop-color="rgb(120,120,120)"/><stop offset="0.6772" stop-color="rgb(200,200,200)"/><stop offset="0.7402" stop-color="rgb(238,238,238)"/><stop offset="0.9921" stop-color="rgb(248,248,248)"/></linearGradient>
<rect x="418" y="662" width="14.5" height="63.5" fill="url(#lg13)"/>
<linearGradient id="lg14" x1="0" y1="0" x2="0" y2="1"><stop offset="0.0000" stop-color="rgb(252,252,252)"/><stop offset="0.3150" stop-color="rgb(246,246,246)"/><stop offset="0.3780" stop-color="rgb(232,232,232)"/><stop offset="0.4094" stop-color="rgb(228,228,228)"/><stop offset="0.4409" stop-color="rgb(238,238,238)"/><stop offset="0.5039" stop-color="rgb(215,215,215)"/><stop offset="0.5512" stop-color="rgb(160,160,160)"/><stop offset="0.5984" stop-color="rgb(150,150,150)"/><stop offset="0.6457" stop-color="rgb(175,175,175)"/><stop offset="0.7087" stop-color="rgb(232,232,232)"/><stop offset="0.9921" stop-color="rgb(250,250,250)"/></linearGradient>
<rect x="435.8" y="662" width="15.899999999999977" height="63.5" fill="url(#lg14)"/>
</g>
<rect x="367" y="661.3" width="86.3" height="64.4" fill="none" stroke="#222" stroke-width="1.2"/>
<rect x="477" y="688.8" width="11" height="2.4" rx="1.2" fill="rgb(200,200,200)" opacity="0.8" filter="url(#bb)"/>
<rect x="494.7" y="687.3000000000001" width="10.600000000000023" height="2.8" rx="1.4" fill="rgb(80,80,80)" opacity="0.9" filter="url(#bb)"/>
<rect x="509.9" y="685.5" width="13.300000000000068" height="3.6" rx="1.8" fill="rgb(20,20,20)" opacity="1" filter="url(#bb)"/>
<rect x="510" y="695.5" width="13" height="3" rx="1.5" fill="rgb(215,215,215)" opacity="0.6" filter="url(#bb)"/>
<rect x="510" y="700" width="13" height="25" fill="#f3f3f3" filter="url(#lb)"/>
<rect x="457.9" y="661.3" width="87.4" height="64.7" fill="none" stroke="#222" stroke-width="1.2"/>
<rect x="368.8" y="740.3" width="12.399999999999977" height="3.0" rx="1.5" fill="rgb(55,55,55)" opacity="1" filter="url(#bb)"/>
<rect x="385.5" y="740.3" width="13.199999999999989" height="3.0" rx="1.5" fill="rgb(45,45,45)" opacity="1" filter="url(#bb)"/>
<rect x="401.8" y="740.3" width="12.699999999999989" height="3.0" rx="1.5" fill="rgb(35,35,35)" opacity="1" filter="url(#bb)"/>
<rect x="418.5" y="740.3" width="13.5" height="3.0" rx="1.5" fill="rgb(45,45,45)" opacity="1" filter="url(#bb)"/>
<rect x="436.3" y="740.3" width="14.899999999999977" height="3.0" rx="1.5" fill="rgb(80,80,80)" opacity="1" filter="url(#bb)"/>
<rect x="367" y="731.2" width="86.3" height="21.1" fill="none" stroke="#222" stroke-width="1.2"/>
</g>
</svg>
</body></html>
